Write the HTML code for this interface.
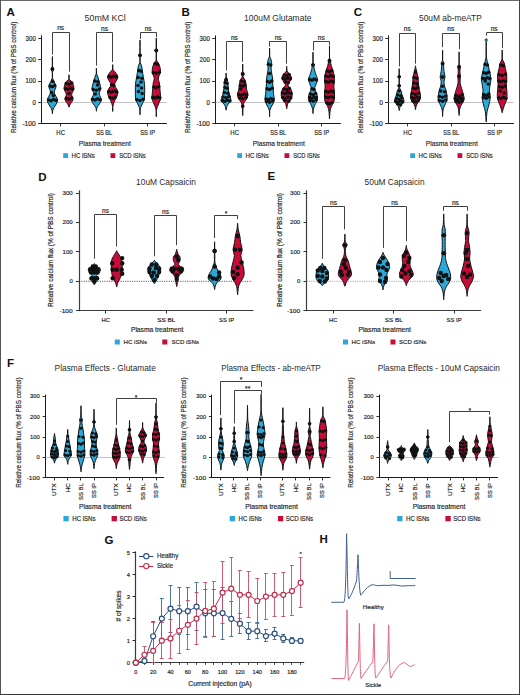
<!DOCTYPE html>
<html><head><meta charset="utf-8"><style>
html,body{margin:0;padding:0;background:#fff;width:520px;height:695px;overflow:hidden;font-family:"Liberation Sans",sans-serif;}
svg{display:block;}
</style></head><body>
<svg width="520" height="695" viewBox="0 0 520 695" font-family='"Liberation Sans", sans-serif'>
<rect x="0" y="0" width="520" height="695" fill="#fff"/>
<text x="6.60" y="15.90" font-size="11.50" fill="#111" font-weight="bold">A</text>
<text x="181.60" y="16.20" font-size="11.50" fill="#111" font-weight="bold">B</text>
<text x="353.80" y="16.40" font-size="11.50" fill="#111" font-weight="bold">C</text>
<text x="38.20" y="180.90" font-size="11.50" fill="#111" font-weight="bold">D</text>
<text x="267.60" y="180.10" font-size="11.50" fill="#111" font-weight="bold">E</text>
<text x="7.00" y="366.60" font-size="11.50" fill="#111" font-weight="bold">F</text>
<text x="104.40" y="543.50" font-size="11.50" fill="#111" font-weight="bold">G</text>
<text x="319.60" y="542.90" font-size="11.50" fill="#111" font-weight="bold">H</text>
<text x="84.60" y="20.60" font-size="8.90" fill="#2b2b2b" textLength="41.20" lengthAdjust="spacingAndGlyphs">50mM KCl</text>
<line x1="41.50" y1="35.40" x2="41.50" y2="124.10" stroke="#1a1a1a" stroke-width="1.0"/>
<line x1="38.20" y1="38.50" x2="41.40" y2="38.50" stroke="#1a1a1a" stroke-width="0.9"/>
<text x="35.80" y="40.80" font-size="6.70" fill="#262626" stroke="#262626" stroke-width="0.18" text-anchor="end" textLength="10.20" lengthAdjust="spacingAndGlyphs">300</text>
<line x1="38.20" y1="59.50" x2="41.40" y2="59.50" stroke="#1a1a1a" stroke-width="0.9"/>
<text x="35.80" y="62.10" font-size="6.70" fill="#262626" stroke="#262626" stroke-width="0.18" text-anchor="end" textLength="10.20" lengthAdjust="spacingAndGlyphs">200</text>
<line x1="38.20" y1="81.50" x2="41.40" y2="81.50" stroke="#1a1a1a" stroke-width="0.9"/>
<text x="35.80" y="83.40" font-size="6.70" fill="#262626" stroke="#262626" stroke-width="0.18" text-anchor="end" textLength="10.20" lengthAdjust="spacingAndGlyphs">100</text>
<line x1="38.20" y1="102.50" x2="41.40" y2="102.50" stroke="#1a1a1a" stroke-width="0.9"/>
<text x="35.80" y="104.70" font-size="6.70" fill="#262626" stroke="#262626" stroke-width="0.18" text-anchor="end" textLength="3.40" lengthAdjust="spacingAndGlyphs">0</text>
<line x1="38.20" y1="123.50" x2="41.40" y2="123.50" stroke="#1a1a1a" stroke-width="0.9"/>
<text x="35.80" y="126.00" font-size="6.70" fill="#262626" stroke="#262626" stroke-width="0.18" text-anchor="end" textLength="13.40" lengthAdjust="spacingAndGlyphs">-100</text>
<line x1="40.90" y1="123.50" x2="166.90" y2="123.50" stroke="#1a1a1a" stroke-width="1.0"/>
<line x1="41.40" y1="102.50" x2="166.40" y2="102.50" stroke="#9a9a9a" stroke-width="0.6"/>
<line x1="60.50" y1="123.60" x2="60.50" y2="126.40" stroke="#1a1a1a" stroke-width="0.9"/>
<text x="60.65" y="134.80" font-size="7.00" fill="#262626" stroke="#262626" stroke-width="0.18" text-anchor="middle" textLength="8.60" lengthAdjust="spacingAndGlyphs">HC</text>
<line x1="104.50" y1="123.60" x2="104.50" y2="126.40" stroke="#1a1a1a" stroke-width="0.9"/>
<text x="104.15" y="134.80" font-size="7.00" fill="#262626" stroke="#262626" stroke-width="0.18" text-anchor="middle" textLength="16.00" lengthAdjust="spacingAndGlyphs">SS BL</text>
<line x1="147.50" y1="123.60" x2="147.50" y2="126.40" stroke="#1a1a1a" stroke-width="0.9"/>
<text x="147.65" y="134.80" font-size="7.00" fill="#262626" stroke="#262626" stroke-width="0.18" text-anchor="middle" textLength="15.00" lengthAdjust="spacingAndGlyphs">SS IP</text>
<text x="104.80" y="145.90" font-size="7.60" fill="#262626" stroke="#262626" stroke-width="0.18" text-anchor="middle" textLength="52.00" lengthAdjust="spacingAndGlyphs">Plasma treatment</text>
<text x="16.20" y="77.40" font-size="7.00" fill="#262626" stroke="#262626" stroke-width="0.18" text-anchor="middle" textLength="111.30" lengthAdjust="spacingAndGlyphs" transform="rotate(-90 16.20 77.40)">Relative calcium flux (% of PBS control)</text>
<rect x="63.20" y="153.20" width="4.80" height="4.80" fill="#2aa8d9"/>
<text x="71.50" y="157.90" font-size="6.80" fill="#262626" stroke="#262626" stroke-width="0.18" textLength="23.30" lengthAdjust="spacingAndGlyphs">HC iSNs</text>
<rect x="110.50" y="153.20" width="4.80" height="4.80" fill="#c80c38"/>
<text x="119.20" y="157.90" font-size="6.80" fill="#262626" stroke="#262626" stroke-width="0.18" textLength="26.50" lengthAdjust="spacingAndGlyphs">SCD iSNs</text>
<path d="M52.45,57.60 C52.47,59.00 52.30,64.33 52.45,66.00 C52.60,67.67 53.13,67.08 53.35,67.60 C53.57,68.12 53.75,68.60 53.75,69.10 C53.75,69.60 53.57,70.03 53.35,70.60 C53.13,71.17 52.60,71.40 52.45,72.50 C52.30,73.60 52.30,75.92 52.45,77.20 C52.60,78.48 52.87,79.03 53.35,80.20 C53.83,81.37 54.93,83.02 55.35,84.20 C55.77,85.38 56.02,86.12 55.85,87.30 C55.68,88.48 54.52,90.13 54.35,91.30 C54.18,92.47 54.40,93.13 54.85,94.30 C55.30,95.47 56.63,97.12 57.05,98.30 C57.47,99.48 57.52,100.38 57.35,101.40 C57.18,102.42 56.60,103.40 56.05,104.40 C55.50,105.40 54.60,106.40 54.05,107.40 C53.50,108.40 53.02,109.40 52.75,110.40 C52.48,111.40 52.52,112.90 52.45,113.40 C52.38,113.90 52.42,113.90 52.35,113.40 C52.28,112.90 52.32,111.40 52.05,110.40 C51.78,109.40 51.30,108.40 50.75,107.40 C50.20,106.40 49.30,105.40 48.75,104.40 C48.20,103.40 47.62,102.42 47.45,101.40 C47.28,100.38 47.33,99.48 47.75,98.30 C48.17,97.12 49.50,95.47 49.95,94.30 C50.40,93.13 50.62,92.47 50.45,91.30 C50.28,90.13 49.12,88.48 48.95,87.30 C48.78,86.12 49.03,85.38 49.45,84.20 C49.87,83.02 50.97,81.37 51.45,80.20 C51.93,79.03 52.20,78.48 52.35,77.20 C52.50,75.92 52.50,73.60 52.35,72.50 C52.20,71.40 51.67,71.17 51.45,70.60 C51.23,70.03 51.05,69.60 51.05,69.10 C51.05,68.60 51.23,68.12 51.45,67.60 C51.67,67.08 52.20,67.67 52.35,66.00 C52.50,64.33 52.33,59.00 52.35,57.60 C52.37,56.20 52.43,56.20 52.45,57.60Z" fill="#2aa8d9" stroke="#111" stroke-width="1.0" stroke-linejoin="round"/>
<circle cx="52.40" cy="69.10" r="1.8" fill="#111"/>
<circle cx="50.18" cy="86.00" r="1.8" fill="#111"/>
<circle cx="52.40" cy="86.70" r="1.8" fill="#111"/>
<circle cx="54.62" cy="85.50" r="1.8" fill="#111"/>
<circle cx="48.68" cy="100.00" r="1.8" fill="#111"/>
<circle cx="51.16" cy="100.70" r="1.8" fill="#111"/>
<circle cx="53.64" cy="99.50" r="1.8" fill="#111"/>
<circle cx="56.12" cy="100.40" r="1.8" fill="#111"/>
<circle cx="52.70" cy="81.50" r="1.8" fill="#111"/>
<circle cx="51.60" cy="92.50" r="1.8" fill="#111"/>
<circle cx="53.40" cy="95.50" r="1.8" fill="#111"/>
<path d="M69.05,75.20 C69.07,75.87 68.65,78.20 69.05,79.20 C69.45,80.20 70.80,80.37 71.45,81.20 C72.10,82.03 72.53,83.02 72.95,84.20 C73.37,85.38 73.95,87.12 73.95,88.30 C73.95,89.48 73.33,90.30 72.95,91.30 C72.57,92.30 71.73,93.30 71.65,94.30 C71.57,95.30 72.23,96.38 72.45,97.30 C72.67,98.22 73.12,98.95 72.95,99.80 C72.78,100.65 71.97,101.55 71.45,102.40 C70.93,103.25 70.25,104.15 69.85,104.90 C69.45,105.65 69.20,106.57 69.05,106.90 C68.90,107.23 69.10,107.23 68.95,106.90 C68.80,106.57 68.55,105.65 68.15,104.90 C67.75,104.15 67.07,103.25 66.55,102.40 C66.03,101.55 65.22,100.65 65.05,99.80 C64.88,98.95 65.33,98.22 65.55,97.30 C65.77,96.38 66.43,95.30 66.35,94.30 C66.27,93.30 65.43,92.30 65.05,91.30 C64.67,90.30 64.05,89.48 64.05,88.30 C64.05,87.12 64.63,85.38 65.05,84.20 C65.47,83.02 65.90,82.03 66.55,81.20 C67.20,80.37 68.55,80.20 68.95,79.20 C69.35,78.20 68.93,75.87 68.95,75.20 C68.97,74.53 69.03,74.53 69.05,75.20Z" fill="#c80c38" stroke="#111" stroke-width="1.0" stroke-linejoin="round"/>
<circle cx="66.28" cy="83.50" r="1.8" fill="#111"/>
<circle cx="69.00" cy="84.20" r="1.8" fill="#111"/>
<circle cx="71.72" cy="83.00" r="1.8" fill="#111"/>
<circle cx="65.48" cy="88.50" r="1.8" fill="#111"/>
<circle cx="67.83" cy="89.20" r="1.8" fill="#111"/>
<circle cx="70.17" cy="88.00" r="1.8" fill="#111"/>
<circle cx="72.52" cy="88.90" r="1.8" fill="#111"/>
<circle cx="69.00" cy="93.50" r="1.8" fill="#111"/>
<circle cx="66.28" cy="98.50" r="1.8" fill="#111"/>
<circle cx="69.00" cy="99.20" r="1.8" fill="#111"/>
<circle cx="71.72" cy="98.00" r="1.8" fill="#111"/>
<path d="M96.45,68.60 C96.47,69.37 96.27,71.93 96.45,73.20 C96.63,74.47 97.15,75.03 97.55,76.20 C97.95,77.37 98.45,78.87 98.85,80.20 C99.25,81.53 99.62,82.77 99.95,84.20 C100.28,85.63 100.95,87.45 100.85,88.80 C100.75,90.15 99.57,91.22 99.35,92.30 C99.13,93.38 99.22,94.13 99.55,95.30 C99.88,96.47 101.22,98.12 101.35,99.30 C101.48,100.48 100.85,101.38 100.35,102.40 C99.85,103.42 98.93,104.48 98.35,105.40 C97.77,106.32 97.17,106.98 96.85,107.90 C96.53,108.82 96.53,110.40 96.45,110.90 C96.37,111.40 96.43,111.40 96.35,110.90 C96.27,110.40 96.27,108.82 95.95,107.90 C95.63,106.98 95.03,106.32 94.45,105.40 C93.87,104.48 92.95,103.42 92.45,102.40 C91.95,101.38 91.32,100.48 91.45,99.30 C91.58,98.12 92.92,96.47 93.25,95.30 C93.58,94.13 93.67,93.38 93.45,92.30 C93.23,91.22 92.05,90.15 91.95,88.80 C91.85,87.45 92.52,85.63 92.85,84.20 C93.18,82.77 93.55,81.53 93.95,80.20 C94.35,78.87 94.85,77.37 95.25,76.20 C95.65,75.03 96.17,74.47 96.35,73.20 C96.53,71.93 96.33,69.37 96.35,68.60 C96.37,67.83 96.43,67.83 96.45,68.60Z" fill="#2aa8d9" stroke="#111" stroke-width="1.0" stroke-linejoin="round"/>
<circle cx="94.88" cy="81.00" r="1.8" fill="#111"/>
<circle cx="97.92" cy="81.70" r="1.8" fill="#111"/>
<circle cx="93.28" cy="89.50" r="1.8" fill="#111"/>
<circle cx="96.40" cy="90.20" r="1.8" fill="#111"/>
<circle cx="99.52" cy="89.00" r="1.8" fill="#111"/>
<circle cx="92.68" cy="99.30" r="1.8" fill="#111"/>
<circle cx="95.16" cy="100.00" r="1.8" fill="#111"/>
<circle cx="97.64" cy="98.80" r="1.8" fill="#111"/>
<circle cx="100.12" cy="99.70" r="1.8" fill="#111"/>
<circle cx="97.60" cy="85.00" r="1.8" fill="#111"/>
<circle cx="95.40" cy="94.00" r="1.8" fill="#111"/>
<path d="M112.75,65.10 C112.77,65.77 112.40,68.00 112.75,69.10 C113.10,70.20 114.08,70.68 114.85,71.70 C115.62,72.72 116.88,74.12 117.35,75.20 C117.82,76.28 117.98,77.03 117.65,78.20 C117.32,79.37 115.90,81.03 115.35,82.20 C114.80,83.37 114.18,84.18 114.35,85.20 C114.52,86.22 115.77,87.12 116.35,88.30 C116.93,89.48 117.77,90.97 117.85,92.30 C117.93,93.63 117.35,94.95 116.85,96.30 C116.35,97.65 115.38,99.22 114.85,100.40 C114.32,101.58 113.98,102.40 113.65,103.40 C113.32,104.40 113.00,105.15 112.85,106.40 C112.70,107.65 112.78,110.15 112.75,110.90 C112.72,111.65 112.68,111.65 112.65,110.90 C112.62,110.15 112.70,107.65 112.55,106.40 C112.40,105.15 112.08,104.40 111.75,103.40 C111.42,102.40 111.08,101.58 110.55,100.40 C110.02,99.22 109.05,97.65 108.55,96.30 C108.05,94.95 107.47,93.63 107.55,92.30 C107.63,90.97 108.47,89.48 109.05,88.30 C109.63,87.12 110.88,86.22 111.05,85.20 C111.22,84.18 110.60,83.37 110.05,82.20 C109.50,81.03 108.08,79.37 107.75,78.20 C107.42,77.03 107.58,76.28 108.05,75.20 C108.52,74.12 109.78,72.72 110.55,71.70 C111.32,70.68 112.30,70.20 112.65,69.10 C113.00,68.00 112.63,65.77 112.65,65.10 C112.67,64.43 112.73,64.43 112.75,65.10Z" fill="#c80c38" stroke="#111" stroke-width="1.0" stroke-linejoin="round"/>
<circle cx="109.18" cy="76.50" r="1.8" fill="#111"/>
<circle cx="111.53" cy="77.20" r="1.8" fill="#111"/>
<circle cx="113.87" cy="76.00" r="1.8" fill="#111"/>
<circle cx="116.22" cy="76.90" r="1.8" fill="#111"/>
<circle cx="111.58" cy="84.70" r="1.8" fill="#111"/>
<circle cx="113.82" cy="85.40" r="1.8" fill="#111"/>
<circle cx="108.78" cy="91.50" r="1.8" fill="#111"/>
<circle cx="111.39" cy="92.20" r="1.8" fill="#111"/>
<circle cx="114.01" cy="91.00" r="1.8" fill="#111"/>
<circle cx="116.62" cy="91.90" r="1.8" fill="#111"/>
<circle cx="109.98" cy="97.50" r="1.8" fill="#111"/>
<circle cx="112.70" cy="98.20" r="1.8" fill="#111"/>
<circle cx="115.42" cy="97.00" r="1.8" fill="#111"/>
<path d="M140.05,41.40 C140.07,43.38 139.88,51.18 140.05,53.30 C140.22,55.42 140.83,53.77 141.05,54.10 C141.27,54.43 141.35,54.88 141.35,55.30 C141.35,55.72 141.27,56.23 141.05,56.60 C140.83,56.97 140.20,56.53 140.05,57.50 C139.90,58.47 139.90,61.05 140.15,62.40 C140.40,63.75 141.20,64.30 141.55,65.60 C141.90,66.90 141.97,68.37 142.25,70.20 C142.53,72.03 142.87,74.23 143.25,76.60 C143.63,78.97 144.32,82.02 144.55,84.40 C144.78,86.78 144.65,88.95 144.65,90.90 C144.65,92.85 144.63,94.58 144.55,96.10 C144.47,97.62 144.48,98.82 144.15,100.00 C143.82,101.18 143.05,102.13 142.55,103.20 C142.05,104.27 141.55,105.43 141.15,106.40 C140.75,107.37 140.33,107.70 140.15,109.00 C139.97,110.30 140.08,113.33 140.05,114.20 C140.02,115.07 139.98,115.07 139.95,114.20 C139.92,113.33 140.03,110.30 139.85,109.00 C139.67,107.70 139.25,107.37 138.85,106.40 C138.45,105.43 137.95,104.27 137.45,103.20 C136.95,102.13 136.18,101.18 135.85,100.00 C135.52,98.82 135.53,97.62 135.45,96.10 C135.37,94.58 135.35,92.85 135.35,90.90 C135.35,88.95 135.22,86.78 135.45,84.40 C135.68,82.02 136.37,78.97 136.75,76.60 C137.13,74.23 137.47,72.03 137.75,70.20 C138.03,68.37 138.10,66.90 138.45,65.60 C138.80,64.30 139.60,63.75 139.85,62.40 C140.10,61.05 140.10,58.47 139.95,57.50 C139.80,56.53 139.17,56.97 138.95,56.60 C138.73,56.23 138.65,55.72 138.65,55.30 C138.65,54.88 138.73,54.43 138.95,54.10 C139.17,53.77 139.78,55.42 139.95,53.30 C140.12,51.18 139.93,43.38 139.95,41.40 C139.97,39.42 140.03,39.42 140.05,41.40Z" fill="#2aa8d9" stroke="#111" stroke-width="1.0" stroke-linejoin="round"/>
<circle cx="140.00" cy="55.30" r="1.8" fill="#111"/>
<circle cx="138.88" cy="70.50" r="1.8" fill="#111"/>
<circle cx="141.12" cy="71.20" r="1.8" fill="#111"/>
<circle cx="138.08" cy="77.50" r="1.8" fill="#111"/>
<circle cx="141.92" cy="78.20" r="1.8" fill="#111"/>
<circle cx="141.00" cy="82.00" r="1.8" fill="#111"/>
<circle cx="138.00" cy="85.50" r="1.8" fill="#111"/>
<circle cx="141.50" cy="88.00" r="1.8" fill="#111"/>
<circle cx="138.50" cy="91.50" r="1.8" fill="#111"/>
<circle cx="142.20" cy="93.50" r="1.8" fill="#111"/>
<circle cx="136.88" cy="99.80" r="1.8" fill="#111"/>
<circle cx="140.00" cy="100.50" r="1.8" fill="#111"/>
<circle cx="143.12" cy="99.30" r="1.8" fill="#111"/>
<path d="M156.35,39.10 C156.37,40.60 156.18,46.42 156.35,48.10 C156.52,49.78 157.13,48.80 157.35,49.20 C157.57,49.60 157.65,50.07 157.65,50.50 C157.65,50.93 157.57,51.42 157.35,51.80 C157.13,52.18 156.50,51.47 156.35,52.80 C156.20,54.13 156.12,58.10 156.45,59.80 C156.78,61.50 157.75,61.70 158.35,63.00 C158.95,64.30 159.72,65.98 160.05,67.60 C160.38,69.22 160.63,70.98 160.35,72.70 C160.07,74.42 158.52,76.17 158.35,77.90 C158.18,79.63 159.10,81.37 159.35,83.10 C159.60,84.83 159.67,86.35 159.85,88.30 C160.03,90.25 160.30,93.07 160.45,94.80 C160.60,96.53 160.97,97.42 160.75,98.70 C160.53,99.98 159.68,101.22 159.15,102.50 C158.62,103.78 158.00,105.10 157.55,106.40 C157.10,107.70 156.65,108.68 156.45,110.30 C156.25,111.92 156.38,115.13 156.35,116.10 C156.32,117.07 156.28,117.07 156.25,116.10 C156.22,115.13 156.35,111.92 156.15,110.30 C155.95,108.68 155.50,107.70 155.05,106.40 C154.60,105.10 153.98,103.78 153.45,102.50 C152.92,101.22 152.07,99.98 151.85,98.70 C151.63,97.42 152.00,96.53 152.15,94.80 C152.30,93.07 152.57,90.25 152.75,88.30 C152.93,86.35 153.00,84.83 153.25,83.10 C153.50,81.37 154.42,79.63 154.25,77.90 C154.08,76.17 152.53,74.42 152.25,72.70 C151.97,70.98 152.22,69.22 152.55,67.60 C152.88,65.98 153.65,64.30 154.25,63.00 C154.85,61.70 155.82,61.50 156.15,59.80 C156.48,58.10 156.40,54.13 156.25,52.80 C156.10,51.47 155.47,52.18 155.25,51.80 C155.03,51.42 154.95,50.93 154.95,50.50 C154.95,50.07 155.03,49.60 155.25,49.20 C155.47,48.80 156.08,49.78 156.25,48.10 C156.42,46.42 156.23,40.60 156.25,39.10 C156.27,37.60 156.33,37.60 156.35,39.10Z" fill="#c80c38" stroke="#111" stroke-width="1.0" stroke-linejoin="round"/>
<circle cx="156.30" cy="50.50" r="1.8" fill="#111"/>
<circle cx="155.18" cy="63.50" r="1.8" fill="#111"/>
<circle cx="157.42" cy="64.20" r="1.8" fill="#111"/>
<circle cx="153.38" cy="72.70" r="1.8" fill="#111"/>
<circle cx="156.30" cy="73.40" r="1.8" fill="#111"/>
<circle cx="159.22" cy="72.20" r="1.8" fill="#111"/>
<circle cx="153.88" cy="87.00" r="1.8" fill="#111"/>
<circle cx="156.30" cy="87.70" r="1.8" fill="#111"/>
<circle cx="158.72" cy="86.50" r="1.8" fill="#111"/>
<circle cx="152.98" cy="97.40" r="1.8" fill="#111"/>
<circle cx="155.19" cy="98.10" r="1.8" fill="#111"/>
<circle cx="157.41" cy="96.90" r="1.8" fill="#111"/>
<circle cx="159.62" cy="97.80" r="1.8" fill="#111"/>
<path d="M52.50,54.50 V32.50 H69.50 V71.70" fill="none" stroke="#2a2a2a" stroke-width="0.9"/>
<text x="60.70" y="30.40" font-size="6.60" fill="#262626" stroke="#262626" stroke-width="0.18" text-anchor="middle">ns</text>
<path d="M96.50,65.60 V32.50 H112.50 V62.10" fill="none" stroke="#2a2a2a" stroke-width="0.9"/>
<text x="104.55" y="30.90" font-size="6.60" fill="#262626" stroke="#262626" stroke-width="0.18" text-anchor="middle">ns</text>
<path d="M140.50,38.80 V32.50 H156.50 V37.10" fill="none" stroke="#2a2a2a" stroke-width="0.9"/>
<text x="148.15" y="30.70" font-size="6.60" fill="#262626" stroke="#262626" stroke-width="0.18" text-anchor="middle">ns</text>
<text x="244.00" y="20.60" font-size="8.90" fill="#2b2b2b" textLength="67.50" lengthAdjust="spacingAndGlyphs">100uM Glutamate</text>
<line x1="215.50" y1="35.40" x2="215.50" y2="124.10" stroke="#1a1a1a" stroke-width="1.0"/>
<line x1="212.20" y1="38.50" x2="215.40" y2="38.50" stroke="#1a1a1a" stroke-width="0.9"/>
<text x="209.80" y="40.80" font-size="6.70" fill="#262626" stroke="#262626" stroke-width="0.18" text-anchor="end" textLength="10.20" lengthAdjust="spacingAndGlyphs">300</text>
<line x1="212.20" y1="59.50" x2="215.40" y2="59.50" stroke="#1a1a1a" stroke-width="0.9"/>
<text x="209.80" y="62.10" font-size="6.70" fill="#262626" stroke="#262626" stroke-width="0.18" text-anchor="end" textLength="10.20" lengthAdjust="spacingAndGlyphs">200</text>
<line x1="212.20" y1="81.50" x2="215.40" y2="81.50" stroke="#1a1a1a" stroke-width="0.9"/>
<text x="209.80" y="83.40" font-size="6.70" fill="#262626" stroke="#262626" stroke-width="0.18" text-anchor="end" textLength="10.20" lengthAdjust="spacingAndGlyphs">100</text>
<line x1="212.20" y1="102.50" x2="215.40" y2="102.50" stroke="#1a1a1a" stroke-width="0.9"/>
<text x="209.80" y="104.70" font-size="6.70" fill="#262626" stroke="#262626" stroke-width="0.18" text-anchor="end" textLength="3.40" lengthAdjust="spacingAndGlyphs">0</text>
<line x1="212.20" y1="123.50" x2="215.40" y2="123.50" stroke="#1a1a1a" stroke-width="0.9"/>
<text x="209.80" y="126.00" font-size="6.70" fill="#262626" stroke="#262626" stroke-width="0.18" text-anchor="end" textLength="13.40" lengthAdjust="spacingAndGlyphs">-100</text>
<line x1="214.90" y1="123.50" x2="340.90" y2="123.50" stroke="#1a1a1a" stroke-width="1.0"/>
<line x1="215.40" y1="102.50" x2="340.40" y2="102.50" stroke="#9a9a9a" stroke-width="0.6"/>
<line x1="234.50" y1="123.60" x2="234.50" y2="126.40" stroke="#1a1a1a" stroke-width="0.9"/>
<text x="234.65" y="134.80" font-size="7.00" fill="#262626" stroke="#262626" stroke-width="0.18" text-anchor="middle" textLength="8.60" lengthAdjust="spacingAndGlyphs">HC</text>
<line x1="278.50" y1="123.60" x2="278.50" y2="126.40" stroke="#1a1a1a" stroke-width="0.9"/>
<text x="278.15" y="134.80" font-size="7.00" fill="#262626" stroke="#262626" stroke-width="0.18" text-anchor="middle" textLength="16.00" lengthAdjust="spacingAndGlyphs">SS BL</text>
<line x1="321.50" y1="123.60" x2="321.50" y2="126.40" stroke="#1a1a1a" stroke-width="0.9"/>
<text x="321.65" y="134.80" font-size="7.00" fill="#262626" stroke="#262626" stroke-width="0.18" text-anchor="middle" textLength="15.00" lengthAdjust="spacingAndGlyphs">SS IP</text>
<text x="278.80" y="145.90" font-size="7.60" fill="#262626" stroke="#262626" stroke-width="0.18" text-anchor="middle" textLength="52.00" lengthAdjust="spacingAndGlyphs">Plasma treatment</text>
<text x="190.20" y="77.40" font-size="7.00" fill="#262626" stroke="#262626" stroke-width="0.18" text-anchor="middle" textLength="111.30" lengthAdjust="spacingAndGlyphs" transform="rotate(-90 190.20 77.40)">Relative calcium flux (% of PBS control)</text>
<rect x="237.20" y="153.20" width="4.80" height="4.80" fill="#2aa8d9"/>
<text x="245.50" y="157.90" font-size="6.80" fill="#262626" stroke="#262626" stroke-width="0.18" textLength="23.30" lengthAdjust="spacingAndGlyphs">HC iSNs</text>
<rect x="284.50" y="153.20" width="4.80" height="4.80" fill="#c80c38"/>
<text x="293.20" y="157.90" font-size="6.80" fill="#262626" stroke="#262626" stroke-width="0.18" textLength="26.50" lengthAdjust="spacingAndGlyphs">SCD iSNs</text>
<path d="M226.15,73.40 C226.17,73.97 225.95,75.75 226.15,76.80 C226.35,77.85 227.05,78.53 227.35,79.70 C227.65,80.87 227.80,82.35 227.95,83.80 C228.10,85.25 228.08,86.87 228.25,88.40 C228.42,89.93 228.62,91.47 228.95,93.00 C229.28,94.53 229.92,96.35 230.25,97.60 C230.58,98.85 231.12,99.63 230.95,100.50 C230.78,101.37 229.87,101.95 229.25,102.80 C228.63,103.65 227.77,104.45 227.25,105.60 C226.73,106.75 226.35,109.02 226.15,109.70 C225.95,110.38 226.25,110.38 226.05,109.70 C225.85,109.02 225.47,106.75 224.95,105.60 C224.43,104.45 223.57,103.65 222.95,102.80 C222.33,101.95 221.42,101.37 221.25,100.50 C221.08,99.63 221.62,98.85 221.95,97.60 C222.28,96.35 222.92,94.53 223.25,93.00 C223.58,91.47 223.78,89.93 223.95,88.40 C224.12,86.87 224.10,85.25 224.25,83.80 C224.40,82.35 224.55,80.87 224.85,79.70 C225.15,78.53 225.85,77.85 226.05,76.80 C226.25,75.75 226.03,73.97 226.05,73.40 C226.07,72.83 226.13,72.83 226.15,73.40Z" fill="#2aa8d9" stroke="#111" stroke-width="1.0" stroke-linejoin="round"/>
<circle cx="226.10" cy="79.50" r="1.8" fill="#111"/>
<circle cx="225.18" cy="82.50" r="1.8" fill="#111"/>
<circle cx="227.02" cy="83.20" r="1.8" fill="#111"/>
<circle cx="224.98" cy="87.50" r="1.8" fill="#111"/>
<circle cx="227.22" cy="88.20" r="1.8" fill="#111"/>
<circle cx="224.38" cy="92.50" r="1.8" fill="#111"/>
<circle cx="227.82" cy="93.20" r="1.8" fill="#111"/>
<circle cx="223.18" cy="97.00" r="1.8" fill="#111"/>
<circle cx="226.10" cy="97.70" r="1.8" fill="#111"/>
<circle cx="229.02" cy="96.50" r="1.8" fill="#111"/>
<circle cx="222.38" cy="100.60" r="1.8" fill="#111"/>
<circle cx="224.86" cy="101.30" r="1.8" fill="#111"/>
<circle cx="227.34" cy="100.10" r="1.8" fill="#111"/>
<circle cx="229.82" cy="101.00" r="1.8" fill="#111"/>
<path d="M242.75,64.80 C242.77,65.85 242.58,69.80 242.75,71.10 C242.92,72.40 243.52,72.12 243.75,72.60 C243.98,73.08 244.15,73.53 244.15,74.00 C244.15,74.47 243.93,74.93 243.75,75.40 C243.57,75.87 242.82,75.98 243.05,76.80 C243.28,77.62 244.65,78.95 245.15,80.30 C245.65,81.65 245.80,83.37 246.05,84.90 C246.30,86.43 246.35,87.97 246.65,89.50 C246.95,91.03 247.75,92.75 247.85,94.10 C247.95,95.45 247.63,96.53 247.25,97.60 C246.87,98.67 246.10,99.63 245.55,100.50 C245.00,101.37 244.28,102.12 243.95,102.80 C243.62,103.48 243.55,104.03 243.55,104.60 C243.55,105.17 243.98,105.70 243.95,106.20 C243.92,106.70 243.52,107.12 243.35,107.60 C243.18,108.08 243.05,107.88 242.95,109.10 C242.85,110.32 242.80,113.93 242.75,114.90 C242.70,115.87 242.70,115.87 242.65,114.90 C242.60,113.93 242.55,110.32 242.45,109.10 C242.35,107.88 242.22,108.08 242.05,107.60 C241.88,107.12 241.48,106.70 241.45,106.20 C241.42,105.70 241.85,105.17 241.85,104.60 C241.85,104.03 241.78,103.48 241.45,102.80 C241.12,102.12 240.40,101.37 239.85,100.50 C239.30,99.63 238.53,98.67 238.15,97.60 C237.77,96.53 237.45,95.45 237.55,94.10 C237.65,92.75 238.45,91.03 238.75,89.50 C239.05,87.97 239.10,86.43 239.35,84.90 C239.60,83.37 239.75,81.65 240.25,80.30 C240.75,78.95 242.12,77.62 242.35,76.80 C242.58,75.98 241.83,75.87 241.65,75.40 C241.47,74.93 241.25,74.47 241.25,74.00 C241.25,73.53 241.42,73.08 241.65,72.60 C241.88,72.12 242.48,72.40 242.65,71.10 C242.82,69.80 242.63,65.85 242.65,64.80 C242.67,63.75 242.73,63.75 242.75,64.80Z" fill="#c80c38" stroke="#111" stroke-width="1.0" stroke-linejoin="round"/>
<circle cx="242.70" cy="74.00" r="1.8" fill="#111"/>
<circle cx="241.28" cy="81.00" r="1.8" fill="#111"/>
<circle cx="244.12" cy="81.70" r="1.8" fill="#111"/>
<circle cx="240.48" cy="85.50" r="1.8" fill="#111"/>
<circle cx="242.70" cy="86.20" r="1.8" fill="#111"/>
<circle cx="244.92" cy="85.00" r="1.8" fill="#111"/>
<circle cx="240.70" cy="89.00" r="1.8" fill="#111"/>
<circle cx="238.78" cy="94.50" r="1.8" fill="#111"/>
<circle cx="241.39" cy="95.20" r="1.8" fill="#111"/>
<circle cx="244.01" cy="94.00" r="1.8" fill="#111"/>
<circle cx="246.62" cy="94.90" r="1.8" fill="#111"/>
<circle cx="239.48" cy="98.00" r="1.8" fill="#111"/>
<circle cx="242.70" cy="98.70" r="1.8" fill="#111"/>
<circle cx="245.92" cy="97.50" r="1.8" fill="#111"/>
<circle cx="242.70" cy="106.20" r="1.6" fill="#111"/>
<path d="M269.65,49.10 C269.67,50.22 269.43,54.08 269.65,55.80 C269.87,57.52 270.62,58.08 270.95,59.40 C271.28,60.72 271.63,62.27 271.65,63.70 C271.67,65.13 271.05,66.47 271.05,68.00 C271.05,69.53 271.38,71.07 271.65,72.90 C271.92,74.73 272.47,77.17 272.65,79.00 C272.83,80.83 272.67,82.27 272.75,83.90 C272.83,85.53 273.02,87.17 273.15,88.80 C273.28,90.43 273.38,92.07 273.55,93.70 C273.72,95.33 274.13,97.18 274.15,98.60 C274.17,100.02 274.03,100.98 273.65,102.20 C273.27,103.42 272.42,104.77 271.85,105.90 C271.28,107.03 270.62,107.98 270.25,109.00 C269.88,110.02 269.75,110.78 269.65,112.00 C269.55,113.22 269.67,115.58 269.65,116.30 C269.63,117.02 269.57,117.02 269.55,116.30 C269.53,115.58 269.65,113.22 269.55,112.00 C269.45,110.78 269.32,110.02 268.95,109.00 C268.58,107.98 267.92,107.03 267.35,105.90 C266.78,104.77 265.93,103.42 265.55,102.20 C265.17,100.98 265.03,100.02 265.05,98.60 C265.07,97.18 265.48,95.33 265.65,93.70 C265.82,92.07 265.92,90.43 266.05,88.80 C266.18,87.17 266.37,85.53 266.45,83.90 C266.53,82.27 266.37,80.83 266.55,79.00 C266.73,77.17 267.28,74.73 267.55,72.90 C267.82,71.07 268.15,69.53 268.15,68.00 C268.15,66.47 267.53,65.13 267.55,63.70 C267.57,62.27 267.92,60.72 268.25,59.40 C268.58,58.08 269.33,57.52 269.55,55.80 C269.77,54.08 269.53,50.22 269.55,49.10 C269.57,47.98 269.63,47.98 269.65,49.10Z" fill="#2aa8d9" stroke="#111" stroke-width="1.0" stroke-linejoin="round"/>
<circle cx="268.48" cy="64.30" r="1.8" fill="#111"/>
<circle cx="270.72" cy="65.00" r="1.8" fill="#111"/>
<circle cx="267.48" cy="81.50" r="1.8" fill="#111"/>
<circle cx="269.60" cy="82.20" r="1.8" fill="#111"/>
<circle cx="271.72" cy="81.00" r="1.8" fill="#111"/>
<circle cx="267.08" cy="88.80" r="1.8" fill="#111"/>
<circle cx="269.60" cy="89.50" r="1.8" fill="#111"/>
<circle cx="272.12" cy="88.30" r="1.8" fill="#111"/>
<circle cx="266.28" cy="99.00" r="1.8" fill="#111"/>
<circle cx="268.49" cy="99.70" r="1.8" fill="#111"/>
<circle cx="270.71" cy="98.50" r="1.8" fill="#111"/>
<circle cx="272.92" cy="99.40" r="1.8" fill="#111"/>
<circle cx="266.48" cy="101.50" r="1.8" fill="#111"/>
<circle cx="269.60" cy="102.20" r="1.8" fill="#111"/>
<circle cx="272.72" cy="101.00" r="1.8" fill="#111"/>
<circle cx="269.60" cy="73.50" r="1.8" fill="#111"/>
<path d="M286.75,66.80 C286.82,67.52 286.58,69.88 287.05,71.10 C287.52,72.32 288.80,72.98 289.55,74.10 C290.30,75.22 291.50,76.57 291.55,77.80 C291.60,79.03 290.45,80.28 289.85,81.50 C289.25,82.72 287.83,83.88 287.95,85.10 C288.07,86.32 289.87,87.57 290.55,88.80 C291.23,90.03 291.83,91.08 292.05,92.50 C292.27,93.92 292.23,95.88 291.85,97.30 C291.47,98.72 290.42,99.97 289.75,101.00 C289.08,102.03 288.35,102.28 287.85,103.50 C287.35,104.72 286.95,107.50 286.75,108.30 C286.55,109.10 286.85,109.10 286.65,108.30 C286.45,107.50 286.05,104.72 285.55,103.50 C285.05,102.28 284.32,102.03 283.65,101.00 C282.98,99.97 281.93,98.72 281.55,97.30 C281.17,95.88 281.13,93.92 281.35,92.50 C281.57,91.08 282.17,90.03 282.85,88.80 C283.53,87.57 285.33,86.32 285.45,85.10 C285.57,83.88 284.15,82.72 283.55,81.50 C282.95,80.28 281.80,79.03 281.85,77.80 C281.90,76.57 283.10,75.22 283.85,74.10 C284.60,72.98 285.88,72.32 286.35,71.10 C286.82,69.88 286.58,67.52 286.65,66.80 C286.72,66.08 286.68,66.08 286.75,66.80Z" fill="#c80c38" stroke="#111" stroke-width="1.0" stroke-linejoin="round"/>
<circle cx="284.28" cy="75.00" r="1.8" fill="#111"/>
<circle cx="286.70" cy="75.70" r="1.8" fill="#111"/>
<circle cx="289.12" cy="74.50" r="1.8" fill="#111"/>
<circle cx="283.18" cy="78.50" r="1.8" fill="#111"/>
<circle cx="285.53" cy="79.20" r="1.8" fill="#111"/>
<circle cx="287.87" cy="78.00" r="1.8" fill="#111"/>
<circle cx="290.22" cy="78.90" r="1.8" fill="#111"/>
<circle cx="285.18" cy="82.00" r="1.8" fill="#111"/>
<circle cx="288.22" cy="82.70" r="1.8" fill="#111"/>
<circle cx="283.98" cy="89.00" r="1.8" fill="#111"/>
<circle cx="286.70" cy="89.70" r="1.8" fill="#111"/>
<circle cx="289.42" cy="88.50" r="1.8" fill="#111"/>
<circle cx="282.58" cy="93.00" r="1.8" fill="#111"/>
<circle cx="285.33" cy="93.70" r="1.8" fill="#111"/>
<circle cx="288.07" cy="92.50" r="1.8" fill="#111"/>
<circle cx="290.82" cy="93.40" r="1.8" fill="#111"/>
<circle cx="282.78" cy="97.50" r="1.8" fill="#111"/>
<circle cx="285.39" cy="98.20" r="1.8" fill="#111"/>
<circle cx="288.01" cy="97.00" r="1.8" fill="#111"/>
<circle cx="290.62" cy="97.90" r="1.8" fill="#111"/>
<circle cx="284.78" cy="100.50" r="1.8" fill="#111"/>
<circle cx="288.62" cy="101.20" r="1.8" fill="#111"/>
<path d="M313.05,53.30 C313.07,54.93 312.88,61.35 313.05,63.10 C313.22,64.85 313.83,63.48 314.05,63.80 C314.27,64.12 314.35,64.57 314.35,65.00 C314.35,65.43 314.08,65.80 314.05,66.40 C314.02,67.00 313.87,67.32 314.15,68.60 C314.43,69.88 315.18,72.27 315.75,74.10 C316.32,75.93 317.48,77.97 317.55,79.60 C317.62,81.23 316.62,82.37 316.15,83.90 C315.68,85.43 314.65,87.17 314.75,88.80 C314.85,90.43 316.28,92.17 316.75,93.70 C317.22,95.23 317.57,96.68 317.55,98.00 C317.53,99.32 317.18,100.28 316.65,101.60 C316.12,102.92 314.88,104.57 314.35,105.90 C313.82,107.23 313.67,108.38 313.45,109.60 C313.23,110.82 313.13,112.60 313.05,113.20 C312.97,113.80 313.03,113.80 312.95,113.20 C312.87,112.60 312.77,110.82 312.55,109.60 C312.33,108.38 312.18,107.23 311.65,105.90 C311.12,104.57 309.88,102.92 309.35,101.60 C308.82,100.28 308.47,99.32 308.45,98.00 C308.43,96.68 308.78,95.23 309.25,93.70 C309.72,92.17 311.15,90.43 311.25,88.80 C311.35,87.17 310.32,85.43 309.85,83.90 C309.38,82.37 308.38,81.23 308.45,79.60 C308.52,77.97 309.68,75.93 310.25,74.10 C310.82,72.27 311.57,69.88 311.85,68.60 C312.13,67.32 311.98,67.00 311.95,66.40 C311.92,65.80 311.65,65.43 311.65,65.00 C311.65,64.57 311.73,64.12 311.95,63.80 C312.17,63.48 312.78,64.85 312.95,63.10 C313.12,61.35 312.93,54.93 312.95,53.30 C312.97,51.67 313.03,51.67 313.05,53.30Z" fill="#2aa8d9" stroke="#111" stroke-width="1.0" stroke-linejoin="round"/>
<circle cx="313.00" cy="65.00" r="1.8" fill="#111"/>
<circle cx="309.68" cy="79.60" r="1.8" fill="#111"/>
<circle cx="311.89" cy="80.30" r="1.8" fill="#111"/>
<circle cx="314.11" cy="79.10" r="1.8" fill="#111"/>
<circle cx="316.32" cy="80.00" r="1.8" fill="#111"/>
<circle cx="312.08" cy="88.80" r="1.8" fill="#111"/>
<circle cx="313.92" cy="89.50" r="1.8" fill="#111"/>
<circle cx="310.48" cy="94.00" r="1.8" fill="#111"/>
<circle cx="313.00" cy="94.70" r="1.8" fill="#111"/>
<circle cx="315.52" cy="93.50" r="1.8" fill="#111"/>
<circle cx="309.68" cy="97.50" r="1.8" fill="#111"/>
<circle cx="311.89" cy="98.20" r="1.8" fill="#111"/>
<circle cx="314.11" cy="97.00" r="1.8" fill="#111"/>
<circle cx="316.32" cy="97.90" r="1.8" fill="#111"/>
<circle cx="310.08" cy="100.50" r="1.8" fill="#111"/>
<circle cx="313.00" cy="101.20" r="1.8" fill="#111"/>
<circle cx="315.92" cy="100.00" r="1.8" fill="#111"/>
<path d="M329.55,47.20 C329.57,49.03 329.38,56.17 329.55,58.20 C329.72,60.23 330.33,58.98 330.55,59.40 C330.77,59.82 330.85,60.27 330.85,60.70 C330.85,61.13 330.48,61.18 330.55,62.00 C330.62,62.82 330.87,64.18 331.25,65.60 C331.63,67.02 332.35,68.77 332.85,70.50 C333.35,72.23 334.00,74.17 334.25,76.00 C334.50,77.83 334.42,79.78 334.35,81.50 C334.28,83.22 333.85,84.68 333.85,86.30 C333.85,87.92 334.23,89.57 334.35,91.20 C334.47,92.83 334.60,94.47 334.55,96.10 C334.50,97.73 334.43,99.57 334.05,101.00 C333.67,102.43 332.82,103.48 332.25,104.70 C331.68,105.92 331.03,107.08 330.65,108.30 C330.27,109.52 330.13,110.37 329.95,112.00 C329.77,113.63 329.63,117.08 329.55,118.10 C329.47,119.12 329.53,119.12 329.45,118.10 C329.37,117.08 329.23,113.63 329.05,112.00 C328.87,110.37 328.73,109.52 328.35,108.30 C327.97,107.08 327.32,105.92 326.75,104.70 C326.18,103.48 325.33,102.43 324.95,101.00 C324.57,99.57 324.50,97.73 324.45,96.10 C324.40,94.47 324.53,92.83 324.65,91.20 C324.77,89.57 325.15,87.92 325.15,86.30 C325.15,84.68 324.72,83.22 324.65,81.50 C324.58,79.78 324.50,77.83 324.75,76.00 C325.00,74.17 325.65,72.23 326.15,70.50 C326.65,68.77 327.37,67.02 327.75,65.60 C328.13,64.18 328.38,62.82 328.45,62.00 C328.52,61.18 328.15,61.13 328.15,60.70 C328.15,60.27 328.23,59.82 328.45,59.40 C328.67,58.98 329.28,60.23 329.45,58.20 C329.62,56.17 329.43,49.03 329.45,47.20 C329.47,45.37 329.53,45.37 329.55,47.20Z" fill="#c80c38" stroke="#111" stroke-width="1.0" stroke-linejoin="round"/>
<circle cx="329.50" cy="60.70" r="1.8" fill="#111"/>
<circle cx="327.28" cy="71.00" r="1.8" fill="#111"/>
<circle cx="329.50" cy="71.70" r="1.8" fill="#111"/>
<circle cx="331.72" cy="70.50" r="1.8" fill="#111"/>
<circle cx="325.98" cy="76.00" r="1.8" fill="#111"/>
<circle cx="328.33" cy="76.70" r="1.8" fill="#111"/>
<circle cx="330.67" cy="75.50" r="1.8" fill="#111"/>
<circle cx="333.02" cy="76.40" r="1.8" fill="#111"/>
<circle cx="325.88" cy="81.50" r="1.8" fill="#111"/>
<circle cx="328.29" cy="82.20" r="1.8" fill="#111"/>
<circle cx="330.71" cy="81.00" r="1.8" fill="#111"/>
<circle cx="333.12" cy="81.90" r="1.8" fill="#111"/>
<circle cx="325.88" cy="91.50" r="1.8" fill="#111"/>
<circle cx="328.29" cy="92.20" r="1.8" fill="#111"/>
<circle cx="330.71" cy="91.00" r="1.8" fill="#111"/>
<circle cx="333.12" cy="91.90" r="1.8" fill="#111"/>
<circle cx="325.68" cy="97.00" r="1.8" fill="#111"/>
<circle cx="328.23" cy="97.70" r="1.8" fill="#111"/>
<circle cx="330.77" cy="96.50" r="1.8" fill="#111"/>
<circle cx="333.32" cy="97.40" r="1.8" fill="#111"/>
<circle cx="326.98" cy="103.00" r="1.8" fill="#111"/>
<circle cx="329.50" cy="103.70" r="1.8" fill="#111"/>
<circle cx="332.02" cy="102.50" r="1.8" fill="#111"/>
<path d="M226.50,70.50 V41.50 H242.50 V61.90" fill="none" stroke="#2a2a2a" stroke-width="0.9"/>
<text x="234.40" y="39.80" font-size="6.60" fill="#262626" stroke="#262626" stroke-width="0.18" text-anchor="middle">ns</text>
<path d="M269.50,46.60 V41.50 H286.50 V63.70" fill="none" stroke="#2a2a2a" stroke-width="0.9"/>
<text x="278.15" y="39.50" font-size="6.60" fill="#262626" stroke="#262626" stroke-width="0.18" text-anchor="middle">ns</text>
<path d="M313.50,50.30 V41.50 H329.50 V44.80" fill="none" stroke="#2a2a2a" stroke-width="0.9"/>
<text x="321.25" y="39.50" font-size="6.60" fill="#262626" stroke="#262626" stroke-width="0.18" text-anchor="middle">ns</text>
<text x="419.00" y="20.60" font-size="8.90" fill="#2b2b2b" textLength="62.80" lengthAdjust="spacingAndGlyphs">50uM ab-meATP</text>
<line x1="388.50" y1="35.40" x2="388.50" y2="124.10" stroke="#1a1a1a" stroke-width="1.0"/>
<line x1="385.20" y1="38.50" x2="388.40" y2="38.50" stroke="#1a1a1a" stroke-width="0.9"/>
<text x="382.80" y="40.80" font-size="6.70" fill="#262626" stroke="#262626" stroke-width="0.18" text-anchor="end" textLength="10.20" lengthAdjust="spacingAndGlyphs">300</text>
<line x1="385.20" y1="59.50" x2="388.40" y2="59.50" stroke="#1a1a1a" stroke-width="0.9"/>
<text x="382.80" y="62.10" font-size="6.70" fill="#262626" stroke="#262626" stroke-width="0.18" text-anchor="end" textLength="10.20" lengthAdjust="spacingAndGlyphs">200</text>
<line x1="385.20" y1="81.50" x2="388.40" y2="81.50" stroke="#1a1a1a" stroke-width="0.9"/>
<text x="382.80" y="83.40" font-size="6.70" fill="#262626" stroke="#262626" stroke-width="0.18" text-anchor="end" textLength="10.20" lengthAdjust="spacingAndGlyphs">100</text>
<line x1="385.20" y1="102.50" x2="388.40" y2="102.50" stroke="#1a1a1a" stroke-width="0.9"/>
<text x="382.80" y="104.70" font-size="6.70" fill="#262626" stroke="#262626" stroke-width="0.18" text-anchor="end" textLength="3.40" lengthAdjust="spacingAndGlyphs">0</text>
<line x1="385.20" y1="123.50" x2="388.40" y2="123.50" stroke="#1a1a1a" stroke-width="0.9"/>
<text x="382.80" y="126.00" font-size="6.70" fill="#262626" stroke="#262626" stroke-width="0.18" text-anchor="end" textLength="13.40" lengthAdjust="spacingAndGlyphs">-100</text>
<line x1="387.90" y1="123.50" x2="513.90" y2="123.50" stroke="#1a1a1a" stroke-width="1.0"/>
<line x1="388.40" y1="102.50" x2="513.40" y2="102.50" stroke="#9a9a9a" stroke-width="0.6"/>
<line x1="407.50" y1="123.60" x2="407.50" y2="126.40" stroke="#1a1a1a" stroke-width="0.9"/>
<text x="407.65" y="134.80" font-size="7.00" fill="#262626" stroke="#262626" stroke-width="0.18" text-anchor="middle" textLength="8.60" lengthAdjust="spacingAndGlyphs">HC</text>
<line x1="451.50" y1="123.60" x2="451.50" y2="126.40" stroke="#1a1a1a" stroke-width="0.9"/>
<text x="451.15" y="134.80" font-size="7.00" fill="#262626" stroke="#262626" stroke-width="0.18" text-anchor="middle" textLength="16.00" lengthAdjust="spacingAndGlyphs">SS BL</text>
<line x1="494.50" y1="123.60" x2="494.50" y2="126.40" stroke="#1a1a1a" stroke-width="0.9"/>
<text x="494.65" y="134.80" font-size="7.00" fill="#262626" stroke="#262626" stroke-width="0.18" text-anchor="middle" textLength="15.00" lengthAdjust="spacingAndGlyphs">SS IP</text>
<text x="451.80" y="145.90" font-size="7.60" fill="#262626" stroke="#262626" stroke-width="0.18" text-anchor="middle" textLength="52.00" lengthAdjust="spacingAndGlyphs">Plasma treatment</text>
<text x="363.20" y="77.40" font-size="7.00" fill="#262626" stroke="#262626" stroke-width="0.18" text-anchor="middle" textLength="111.30" lengthAdjust="spacingAndGlyphs" transform="rotate(-90 363.20 77.40)">Relative calcium flux (% of PBS control)</text>
<rect x="410.20" y="153.20" width="4.80" height="4.80" fill="#2aa8d9"/>
<text x="418.50" y="157.90" font-size="6.80" fill="#262626" stroke="#262626" stroke-width="0.18" textLength="23.30" lengthAdjust="spacingAndGlyphs">HC iSNs</text>
<rect x="457.50" y="153.20" width="4.80" height="4.80" fill="#c80c38"/>
<text x="466.20" y="157.90" font-size="6.80" fill="#262626" stroke="#262626" stroke-width="0.18" textLength="26.50" lengthAdjust="spacingAndGlyphs">SCD iSNs</text>
<path d="M399.25,69.30 C399.27,70.25 399.08,73.88 399.25,75.00 C399.42,76.12 400.05,75.72 400.25,76.00 C400.45,76.28 400.45,76.43 400.45,76.70 C400.45,76.97 400.45,77.27 400.25,77.60 C400.05,77.93 399.42,77.55 399.25,78.70 C399.08,79.85 399.08,83.43 399.25,84.50 C399.42,85.57 400.05,84.92 400.25,85.10 C400.45,85.28 400.45,85.35 400.45,85.60 C400.45,85.85 400.42,86.20 400.25,86.60 C400.08,87.00 399.35,87.40 399.45,88.00 C399.55,88.60 400.45,89.17 400.85,90.20 C401.25,91.23 401.47,92.87 401.85,94.20 C402.23,95.53 402.80,97.10 403.15,98.20 C403.50,99.30 404.07,99.92 403.95,100.80 C403.83,101.68 403.05,102.62 402.45,103.50 C401.85,104.38 400.88,105.00 400.35,106.10 C399.82,107.20 399.45,109.43 399.25,110.10 C399.05,110.77 399.35,110.77 399.15,110.10 C398.95,109.43 398.58,107.20 398.05,106.10 C397.52,105.00 396.55,104.38 395.95,103.50 C395.35,102.62 394.57,101.68 394.45,100.80 C394.33,99.92 394.90,99.30 395.25,98.20 C395.60,97.10 396.17,95.53 396.55,94.20 C396.93,92.87 397.15,91.23 397.55,90.20 C397.95,89.17 398.85,88.60 398.95,88.00 C399.05,87.40 398.32,87.00 398.15,86.60 C397.98,86.20 397.95,85.85 397.95,85.60 C397.95,85.35 397.95,85.28 398.15,85.10 C398.35,84.92 398.98,85.57 399.15,84.50 C399.32,83.43 399.32,79.85 399.15,78.70 C398.98,77.55 398.35,77.93 398.15,77.60 C397.95,77.27 397.95,76.97 397.95,76.70 C397.95,76.43 397.95,76.28 398.15,76.00 C398.35,75.72 398.98,76.12 399.15,75.00 C399.32,73.88 399.13,70.25 399.15,69.30 C399.17,68.35 399.23,68.35 399.25,69.30Z" fill="#2aa8d9" stroke="#111" stroke-width="1.0" stroke-linejoin="round"/>
<circle cx="399.20" cy="76.70" r="1.7" fill="#111"/>
<circle cx="399.20" cy="85.60" r="1.7" fill="#111"/>
<circle cx="399.20" cy="91.00" r="1.8" fill="#111"/>
<circle cx="397.68" cy="95.00" r="1.8" fill="#111"/>
<circle cx="400.72" cy="95.70" r="1.8" fill="#111"/>
<circle cx="396.48" cy="98.50" r="1.8" fill="#111"/>
<circle cx="399.20" cy="99.20" r="1.8" fill="#111"/>
<circle cx="401.92" cy="98.00" r="1.8" fill="#111"/>
<circle cx="395.78" cy="101.50" r="1.8" fill="#111"/>
<circle cx="398.06" cy="102.20" r="1.8" fill="#111"/>
<circle cx="400.34" cy="101.00" r="1.8" fill="#111"/>
<circle cx="402.62" cy="101.90" r="1.8" fill="#111"/>
<circle cx="397.78" cy="104.00" r="1.8" fill="#111"/>
<circle cx="400.62" cy="104.70" r="1.8" fill="#111"/>
<path d="M415.55,66.40 C415.75,67.28 416.25,69.93 416.65,71.70 C417.05,73.47 417.68,75.23 417.95,77.00 C418.22,78.77 418.08,80.53 418.25,82.30 C418.42,84.07 418.67,85.83 418.95,87.60 C419.23,89.37 419.68,91.37 419.95,92.90 C420.22,94.43 420.58,95.60 420.55,96.80 C420.52,98.00 420.22,99.10 419.75,100.10 C419.28,101.10 418.35,101.80 417.75,102.80 C417.15,103.80 416.52,105.00 416.15,106.10 C415.78,107.20 415.67,108.85 415.55,109.40 C415.43,109.95 415.57,109.95 415.45,109.40 C415.33,108.85 415.22,107.20 414.85,106.10 C414.48,105.00 413.85,103.80 413.25,102.80 C412.65,101.80 411.72,101.10 411.25,100.10 C410.78,99.10 410.48,98.00 410.45,96.80 C410.42,95.60 410.78,94.43 411.05,92.90 C411.32,91.37 411.77,89.37 412.05,87.60 C412.33,85.83 412.58,84.07 412.75,82.30 C412.92,80.53 412.78,78.77 413.05,77.00 C413.32,75.23 413.95,73.47 414.35,71.70 C414.75,69.93 415.25,67.28 415.45,66.40 C415.65,65.52 415.35,65.52 415.55,66.40Z" fill="#c80c38" stroke="#111" stroke-width="1.0" stroke-linejoin="round"/>
<circle cx="415.50" cy="72.00" r="1.8" fill="#111"/>
<circle cx="414.08" cy="77.50" r="1.8" fill="#111"/>
<circle cx="416.92" cy="78.20" r="1.8" fill="#111"/>
<circle cx="413.88" cy="83.00" r="1.8" fill="#111"/>
<circle cx="417.12" cy="83.70" r="1.8" fill="#111"/>
<circle cx="413.28" cy="88.00" r="1.8" fill="#111"/>
<circle cx="415.50" cy="88.70" r="1.8" fill="#111"/>
<circle cx="417.72" cy="87.50" r="1.8" fill="#111"/>
<circle cx="412.28" cy="93.50" r="1.8" fill="#111"/>
<circle cx="415.50" cy="94.20" r="1.8" fill="#111"/>
<circle cx="418.72" cy="93.00" r="1.8" fill="#111"/>
<circle cx="411.78" cy="97.50" r="1.8" fill="#111"/>
<circle cx="414.26" cy="98.20" r="1.8" fill="#111"/>
<circle cx="416.74" cy="97.00" r="1.8" fill="#111"/>
<circle cx="419.22" cy="97.90" r="1.8" fill="#111"/>
<circle cx="412.78" cy="101.00" r="1.8" fill="#111"/>
<circle cx="415.50" cy="101.70" r="1.8" fill="#111"/>
<circle cx="418.22" cy="100.50" r="1.8" fill="#111"/>
<path d="M442.65,51.20 C442.67,52.63 442.48,57.97 442.65,59.80 C442.82,61.63 443.43,61.55 443.65,62.20 C443.87,62.85 443.95,63.20 443.95,63.70 C443.95,64.20 443.68,64.32 443.65,65.20 C443.62,66.08 443.62,67.53 443.75,69.00 C443.88,70.47 444.23,72.67 444.45,74.00 C444.67,75.33 445.08,76.00 445.05,77.00 C445.02,78.00 444.42,79.12 444.25,80.00 C444.08,80.88 444.00,81.27 444.05,82.30 C444.10,83.33 444.23,84.88 444.55,86.20 C444.87,87.52 445.57,88.75 445.95,90.20 C446.33,91.65 446.67,93.35 446.85,94.90 C447.03,96.45 447.27,98.07 447.05,99.50 C446.83,100.93 446.10,102.18 445.55,103.50 C445.00,104.82 444.20,106.08 443.75,107.40 C443.30,108.72 443.03,109.97 442.85,111.40 C442.67,112.83 442.70,115.23 442.65,116.00 C442.60,116.77 442.60,116.77 442.55,116.00 C442.50,115.23 442.53,112.83 442.35,111.40 C442.17,109.97 441.90,108.72 441.45,107.40 C441.00,106.08 440.20,104.82 439.65,103.50 C439.10,102.18 438.37,100.93 438.15,99.50 C437.93,98.07 438.17,96.45 438.35,94.90 C438.53,93.35 438.87,91.65 439.25,90.20 C439.63,88.75 440.33,87.52 440.65,86.20 C440.97,84.88 441.10,83.33 441.15,82.30 C441.20,81.27 441.12,80.88 440.95,80.00 C440.78,79.12 440.18,78.00 440.15,77.00 C440.12,76.00 440.53,75.33 440.75,74.00 C440.97,72.67 441.32,70.47 441.45,69.00 C441.58,67.53 441.58,66.08 441.55,65.20 C441.52,64.32 441.25,64.20 441.25,63.70 C441.25,63.20 441.33,62.85 441.55,62.20 C441.77,61.55 442.38,61.63 442.55,59.80 C442.72,57.97 442.53,52.63 442.55,51.20 C442.57,49.77 442.63,49.77 442.65,51.20Z" fill="#2aa8d9" stroke="#111" stroke-width="1.0" stroke-linejoin="round"/>
<circle cx="442.60" cy="63.70" r="1.8" fill="#111"/>
<circle cx="442.60" cy="77.00" r="1.9" fill="#111"/>
<circle cx="442.60" cy="86.20" r="1.8" fill="#111"/>
<circle cx="440.68" cy="91.00" r="1.8" fill="#111"/>
<circle cx="444.52" cy="91.70" r="1.8" fill="#111"/>
<circle cx="439.48" cy="96.50" r="1.8" fill="#111"/>
<circle cx="442.60" cy="97.20" r="1.8" fill="#111"/>
<circle cx="445.72" cy="96.00" r="1.8" fill="#111"/>
<circle cx="439.38" cy="100.50" r="1.8" fill="#111"/>
<circle cx="442.60" cy="101.20" r="1.8" fill="#111"/>
<circle cx="445.82" cy="100.00" r="1.8" fill="#111"/>
<path d="M459.15,53.20 C459.17,54.95 458.98,61.63 459.15,63.70 C459.32,65.77 459.93,65.03 460.15,65.60 C460.37,66.17 460.45,66.60 460.45,67.10 C460.45,67.60 460.23,67.83 460.15,68.60 C460.07,69.37 459.93,70.67 459.95,71.70 C459.97,72.73 460.15,74.03 460.25,74.80 C460.35,75.57 460.55,75.80 460.55,76.30 C460.55,76.80 460.30,76.58 460.25,77.80 C460.20,79.02 460.00,81.75 460.25,83.60 C460.50,85.45 461.23,87.13 461.75,88.90 C462.27,90.67 462.97,92.65 463.35,94.20 C463.73,95.75 464.05,96.98 464.05,98.20 C464.05,99.42 463.80,100.40 463.35,101.50 C462.90,102.60 461.95,103.58 461.35,104.80 C460.75,106.02 460.12,107.15 459.75,108.80 C459.38,110.45 459.27,113.72 459.15,114.70 C459.03,115.68 459.17,115.68 459.05,114.70 C458.93,113.72 458.82,110.45 458.45,108.80 C458.08,107.15 457.45,106.02 456.85,104.80 C456.25,103.58 455.30,102.60 454.85,101.50 C454.40,100.40 454.15,99.42 454.15,98.20 C454.15,96.98 454.47,95.75 454.85,94.20 C455.23,92.65 455.93,90.67 456.45,88.90 C456.97,87.13 457.70,85.45 457.95,83.60 C458.20,81.75 458.00,79.02 457.95,77.80 C457.90,76.58 457.65,76.80 457.65,76.30 C457.65,75.80 457.85,75.57 457.95,74.80 C458.05,74.03 458.23,72.73 458.25,71.70 C458.27,70.67 458.13,69.37 458.05,68.60 C457.97,67.83 457.75,67.60 457.75,67.10 C457.75,66.60 457.83,66.17 458.05,65.60 C458.27,65.03 458.88,65.77 459.05,63.70 C459.22,61.63 459.03,54.95 459.05,53.20 C459.07,51.45 459.13,51.45 459.15,53.20Z" fill="#c80c38" stroke="#111" stroke-width="1.0" stroke-linejoin="round"/>
<circle cx="459.10" cy="67.10" r="1.8" fill="#111"/>
<circle cx="459.10" cy="76.30" r="1.9" fill="#111"/>
<circle cx="456.18" cy="95.50" r="1.8" fill="#111"/>
<circle cx="459.10" cy="96.20" r="1.8" fill="#111"/>
<circle cx="462.02" cy="95.00" r="1.8" fill="#111"/>
<circle cx="455.38" cy="98.50" r="1.8" fill="#111"/>
<circle cx="457.86" cy="99.20" r="1.8" fill="#111"/>
<circle cx="460.34" cy="98.00" r="1.8" fill="#111"/>
<circle cx="462.82" cy="98.90" r="1.8" fill="#111"/>
<circle cx="456.18" cy="101.50" r="1.8" fill="#111"/>
<circle cx="459.10" cy="102.20" r="1.8" fill="#111"/>
<circle cx="462.02" cy="101.00" r="1.8" fill="#111"/>
<path d="M486.25,38.60 C486.40,38.73 486.88,39.12 487.05,39.40 C487.22,39.68 487.35,39.95 487.25,40.30 C487.15,40.65 486.62,40.88 486.45,41.50 C486.28,42.12 486.28,41.60 486.25,44.00 C486.22,46.40 486.07,52.98 486.25,55.90 C486.43,58.82 486.97,59.63 487.35,61.50 C487.73,63.37 488.08,65.00 488.55,67.10 C489.02,69.20 489.75,72.02 490.15,74.10 C490.55,76.18 490.97,77.75 490.95,79.60 C490.93,81.45 490.32,83.33 490.05,85.20 C489.78,87.07 489.33,88.93 489.35,90.80 C489.37,92.67 490.07,94.77 490.15,96.40 C490.23,98.03 490.12,98.97 489.85,100.60 C489.58,102.23 489.02,104.35 488.55,106.20 C488.08,108.05 487.43,109.27 487.05,111.70 C486.67,114.13 486.40,119.28 486.25,120.80 C486.10,122.32 486.30,122.32 486.15,120.80 C486.00,119.28 485.73,114.13 485.35,111.70 C484.97,109.27 484.32,108.05 483.85,106.20 C483.38,104.35 482.82,102.23 482.55,100.60 C482.28,98.97 482.17,98.03 482.25,96.40 C482.33,94.77 483.03,92.67 483.05,90.80 C483.07,88.93 482.62,87.07 482.35,85.20 C482.08,83.33 481.47,81.45 481.45,79.60 C481.43,77.75 481.85,76.18 482.25,74.10 C482.65,72.02 483.38,69.20 483.85,67.10 C484.32,65.00 484.67,63.37 485.05,61.50 C485.43,59.63 485.97,58.82 486.15,55.90 C486.33,52.98 486.18,46.40 486.15,44.00 C486.12,41.60 486.12,42.12 485.95,41.50 C485.78,40.88 485.25,40.65 485.15,40.30 C485.05,39.95 485.18,39.68 485.35,39.40 C485.52,39.12 486.00,38.73 486.15,38.60 C486.30,38.47 486.10,38.47 486.25,38.60Z" fill="#2aa8d9" stroke="#111" stroke-width="1.0" stroke-linejoin="round"/>
<circle cx="485.08" cy="64.30" r="1.8" fill="#111"/>
<circle cx="487.32" cy="65.00" r="1.8" fill="#111"/>
<circle cx="483.68" cy="72.70" r="1.8" fill="#111"/>
<circle cx="486.20" cy="73.40" r="1.8" fill="#111"/>
<circle cx="488.72" cy="72.20" r="1.8" fill="#111"/>
<circle cx="482.68" cy="78.20" r="1.8" fill="#111"/>
<circle cx="485.03" cy="78.90" r="1.8" fill="#111"/>
<circle cx="487.37" cy="77.70" r="1.8" fill="#111"/>
<circle cx="489.72" cy="78.60" r="1.8" fill="#111"/>
<circle cx="485.20" cy="81.00" r="1.8" fill="#111"/>
<circle cx="488.20" cy="84.00" r="1.8" fill="#111"/>
<circle cx="483.68" cy="94.50" r="1.8" fill="#111"/>
<circle cx="486.20" cy="95.20" r="1.8" fill="#111"/>
<circle cx="488.72" cy="94.00" r="1.8" fill="#111"/>
<circle cx="483.48" cy="97.50" r="1.8" fill="#111"/>
<circle cx="486.20" cy="98.20" r="1.8" fill="#111"/>
<circle cx="488.92" cy="97.00" r="1.8" fill="#111"/>
<path d="M502.25,51.00 C502.27,52.28 501.93,56.72 502.25,58.70 C502.57,60.68 503.63,61.27 504.15,62.90 C504.67,64.53 504.95,66.63 505.35,68.50 C505.75,70.37 506.32,72.25 506.55,74.10 C506.78,75.95 506.80,77.75 506.75,79.60 C506.70,81.45 506.23,83.33 506.25,85.20 C506.27,87.07 506.72,88.93 506.85,90.80 C506.98,92.67 507.13,94.77 507.05,96.40 C506.97,98.03 506.77,99.20 506.35,100.60 C505.93,102.00 505.08,103.42 504.55,104.80 C504.02,106.18 503.53,107.63 503.15,108.90 C502.77,110.17 502.42,111.82 502.25,112.40 C502.08,112.98 502.32,112.98 502.15,112.40 C501.98,111.82 501.63,110.17 501.25,108.90 C500.87,107.63 500.38,106.18 499.85,104.80 C499.32,103.42 498.47,102.00 498.05,100.60 C497.63,99.20 497.43,98.03 497.35,96.40 C497.27,94.77 497.42,92.67 497.55,90.80 C497.68,88.93 498.13,87.07 498.15,85.20 C498.17,83.33 497.70,81.45 497.65,79.60 C497.60,77.75 497.62,75.95 497.85,74.10 C498.08,72.25 498.65,70.37 499.05,68.50 C499.45,66.63 499.73,64.53 500.25,62.90 C500.77,61.27 501.83,60.68 502.15,58.70 C502.47,56.72 502.13,52.28 502.15,51.00 C502.17,49.72 502.23,49.72 502.25,51.00Z" fill="#c80c38" stroke="#111" stroke-width="1.0" stroke-linejoin="round"/>
<circle cx="500.88" cy="65.00" r="1.8" fill="#111"/>
<circle cx="503.52" cy="65.70" r="1.8" fill="#111"/>
<circle cx="499.08" cy="74.80" r="1.8" fill="#111"/>
<circle cx="502.20" cy="75.50" r="1.8" fill="#111"/>
<circle cx="505.32" cy="74.30" r="1.8" fill="#111"/>
<circle cx="498.88" cy="81.00" r="1.8" fill="#111"/>
<circle cx="501.09" cy="81.70" r="1.8" fill="#111"/>
<circle cx="503.31" cy="80.50" r="1.8" fill="#111"/>
<circle cx="505.52" cy="81.40" r="1.8" fill="#111"/>
<circle cx="499.28" cy="86.60" r="1.8" fill="#111"/>
<circle cx="502.20" cy="87.30" r="1.8" fill="#111"/>
<circle cx="505.12" cy="86.10" r="1.8" fill="#111"/>
<circle cx="498.58" cy="97.80" r="1.8" fill="#111"/>
<circle cx="500.99" cy="98.50" r="1.8" fill="#111"/>
<circle cx="503.41" cy="97.30" r="1.8" fill="#111"/>
<circle cx="505.82" cy="98.20" r="1.8" fill="#111"/>
<circle cx="500.20" cy="91.00" r="1.8" fill="#111"/>
<circle cx="504.20" cy="93.00" r="1.8" fill="#111"/>
<path d="M399.50,66.40 V33.50 H415.50 V63.70" fill="none" stroke="#2a2a2a" stroke-width="0.9"/>
<text x="407.35" y="31.40" font-size="6.60" fill="#262626" stroke="#262626" stroke-width="0.18" text-anchor="middle">ns</text>
<path d="M442.50,47.20 V33.50 H459.50 V49.20" fill="none" stroke="#2a2a2a" stroke-width="0.9"/>
<text x="450.85" y="31.40" font-size="6.60" fill="#262626" stroke="#262626" stroke-width="0.18" text-anchor="middle">ns</text>
<path d="M486.50,35.60 V32.50 H502.50 V48.20" fill="none" stroke="#2a2a2a" stroke-width="0.9"/>
<text x="494.20" y="31.30" font-size="6.60" fill="#262626" stroke="#262626" stroke-width="0.18" text-anchor="middle">ns</text>
<text x="136.10" y="184.60" font-size="8.20" fill="#2b2b2b" textLength="59.90" lengthAdjust="spacingAndGlyphs">10uM Capsaicin</text>
<line x1="79.50" y1="190.30" x2="79.50" y2="311.20" stroke="#3d3d3d" stroke-width="1.2"/>
<line x1="76.00" y1="193.50" x2="79.00" y2="193.50" stroke="#1a1a1a" stroke-width="0.9"/>
<text x="72.70" y="195.00" font-size="5.50" fill="#262626" stroke="#262626" stroke-width="0.18" text-anchor="end" textLength="10.20" lengthAdjust="spacingAndGlyphs">300</text>
<line x1="76.00" y1="222.50" x2="79.00" y2="222.50" stroke="#1a1a1a" stroke-width="0.9"/>
<text x="72.70" y="224.40" font-size="5.50" fill="#262626" stroke="#262626" stroke-width="0.18" text-anchor="end" textLength="10.20" lengthAdjust="spacingAndGlyphs">200</text>
<line x1="76.00" y1="251.50" x2="79.00" y2="251.50" stroke="#1a1a1a" stroke-width="0.9"/>
<text x="72.70" y="253.80" font-size="5.50" fill="#262626" stroke="#262626" stroke-width="0.18" text-anchor="end" textLength="10.20" lengthAdjust="spacingAndGlyphs">100</text>
<line x1="76.00" y1="281.50" x2="79.00" y2="281.50" stroke="#1a1a1a" stroke-width="0.9"/>
<text x="72.70" y="283.20" font-size="5.50" fill="#262626" stroke="#262626" stroke-width="0.18" text-anchor="end" textLength="3.30" lengthAdjust="spacingAndGlyphs">0</text>
<line x1="76.00" y1="310.50" x2="79.00" y2="310.50" stroke="#1a1a1a" stroke-width="0.9"/>
<text x="72.70" y="312.60" font-size="5.50" fill="#262626" stroke="#262626" stroke-width="0.18" text-anchor="end" textLength="13.20" lengthAdjust="spacingAndGlyphs">-100</text>
<line x1="78.50" y1="310.50" x2="253.50" y2="310.50" stroke="#3d3d3d" stroke-width="1.2"/>
<line x1="79.00" y1="281.30" x2="252.00" y2="281.30" stroke="#333" stroke-width="0.8" stroke-dasharray="1.15 1.15"/>
<line x1="105.50" y1="310.70" x2="105.50" y2="313.50" stroke="#1a1a1a" stroke-width="0.9"/>
<text x="105.80" y="321.90" font-size="5.60" fill="#262626" stroke="#262626" stroke-width="0.18" text-anchor="middle" textLength="8.40" lengthAdjust="spacingAndGlyphs">HC</text>
<line x1="166.50" y1="310.70" x2="166.50" y2="313.50" stroke="#1a1a1a" stroke-width="0.9"/>
<text x="166.20" y="321.90" font-size="5.60" fill="#262626" stroke="#262626" stroke-width="0.18" text-anchor="middle" textLength="18.00" lengthAdjust="spacingAndGlyphs">SS BL</text>
<line x1="226.50" y1="310.70" x2="226.50" y2="313.50" stroke="#1a1a1a" stroke-width="0.9"/>
<text x="226.60" y="321.90" font-size="5.60" fill="#262626" stroke="#262626" stroke-width="0.18" text-anchor="middle" textLength="15.00" lengthAdjust="spacingAndGlyphs">SS IP</text>
<text x="157.10" y="332.00" font-size="6.60" fill="#262626" stroke="#262626" stroke-width="0.18" text-anchor="middle" textLength="52.30" lengthAdjust="spacingAndGlyphs">Plasma treatment</text>
<text x="53.30" y="250.00" font-size="6.80" fill="#262626" stroke="#262626" stroke-width="0.18" text-anchor="middle" textLength="114.00" lengthAdjust="spacingAndGlyphs" transform="rotate(-90 53.30 250.00)">Relative calcium flux (% of PBS control)</text>
<rect x="114.80" y="339.50" width="5.00" height="5.00" fill="#2aa8d9"/>
<text x="123.50" y="344.20" font-size="6.00" fill="#262626" stroke="#262626" stroke-width="0.18" textLength="23.50" lengthAdjust="spacingAndGlyphs">HC iSNs</text>
<rect x="162.30" y="339.50" width="5.00" height="5.00" fill="#c80c38"/>
<text x="171.50" y="344.20" font-size="6.00" fill="#262626" stroke="#262626" stroke-width="0.18" textLength="27.30" lengthAdjust="spacingAndGlyphs">SCD iSNs</text>
<path d="M94.35,263.90 C94.83,264.45 96.22,266.22 97.15,267.20 C98.08,268.18 99.57,268.93 99.95,269.80 C100.33,270.67 100.02,271.43 99.45,272.40 C98.88,273.37 96.72,274.53 96.55,275.60 C96.38,276.67 98.45,277.83 98.45,278.80 C98.45,279.77 97.13,280.63 96.55,281.40 C95.97,282.17 95.32,282.85 94.95,283.40 C94.58,283.95 94.47,284.48 94.35,284.70 C94.23,284.92 94.37,284.92 94.25,284.70 C94.13,284.48 94.02,283.95 93.65,283.40 C93.28,282.85 92.63,282.17 92.05,281.40 C91.47,280.63 90.15,279.77 90.15,278.80 C90.15,277.83 92.22,276.67 92.05,275.60 C91.88,274.53 89.72,273.37 89.15,272.40 C88.58,271.43 88.27,270.67 88.65,269.80 C89.03,268.93 90.52,268.18 91.45,267.20 C92.38,266.22 93.77,264.45 94.25,263.90 C94.73,263.35 93.87,263.35 94.35,263.90Z" fill="#2aa8d9" stroke="#111" stroke-width="1.0" stroke-linejoin="round"/>
<circle cx="92.80" cy="266.50" r="2.2" fill="#111"/>
<circle cx="95.80" cy="266.50" r="2.2" fill="#111"/>
<circle cx="90.10" cy="269.30" r="2.2" fill="#111"/>
<circle cx="92.90" cy="269.30" r="2.2" fill="#111"/>
<circle cx="95.70" cy="269.30" r="2.2" fill="#111"/>
<circle cx="98.50" cy="269.30" r="2.2" fill="#111"/>
<circle cx="91.00" cy="272.60" r="2.2" fill="#111"/>
<circle cx="94.30" cy="272.60" r="2.2" fill="#111"/>
<circle cx="97.60" cy="272.60" r="2.2" fill="#111"/>
<circle cx="91.50" cy="278.20" r="2.2" fill="#111"/>
<circle cx="94.30" cy="278.20" r="2.2" fill="#111"/>
<circle cx="97.10" cy="278.20" r="2.2" fill="#111"/>
<circle cx="94.30" cy="281.50" r="2.2" fill="#111"/>
<path d="M116.75,251.00 C117.08,251.53 117.85,252.80 118.65,254.20 C119.45,255.60 120.97,257.67 121.55,259.40 C122.13,261.13 122.05,262.87 122.15,264.60 C122.25,266.33 122.30,268.08 122.15,269.80 C122.00,271.52 121.68,273.28 121.25,274.90 C120.82,276.52 120.12,278.20 119.55,279.50 C118.98,280.80 118.32,281.52 117.85,282.70 C117.38,283.88 116.95,285.95 116.75,286.60 C116.55,287.25 116.85,287.25 116.65,286.60 C116.45,285.95 116.02,283.88 115.55,282.70 C115.08,281.52 114.42,280.80 113.85,279.50 C113.28,278.20 112.58,276.52 112.15,274.90 C111.72,273.28 111.40,271.52 111.25,269.80 C111.10,268.08 111.15,266.33 111.25,264.60 C111.35,262.87 111.27,261.13 111.85,259.40 C112.43,257.67 113.95,255.60 114.75,254.20 C115.55,252.80 116.32,251.53 116.65,251.00 C116.98,250.47 116.42,250.47 116.75,251.00Z" fill="#c80c38" stroke="#111" stroke-width="1.0" stroke-linejoin="round"/>
<circle cx="122.20" cy="258.10" r="2.2" fill="#111"/>
<circle cx="112.20" cy="263.30" r="2.2" fill="#111"/>
<circle cx="122.20" cy="263.30" r="2.2" fill="#111"/>
<circle cx="112.70" cy="269.80" r="2.2" fill="#111"/>
<circle cx="116.70" cy="269.80" r="2.2" fill="#111"/>
<circle cx="121.70" cy="269.80" r="2.2" fill="#111"/>
<circle cx="122.20" cy="273.70" r="2.2" fill="#111"/>
<circle cx="112.70" cy="278.20" r="2.2" fill="#111"/>
<path d="M154.35,260.70 C155.00,261.35 157.13,263.30 158.15,264.60 C159.17,265.90 160.07,267.32 160.45,268.50 C160.83,269.68 160.78,270.52 160.45,271.70 C160.12,272.88 159.05,274.30 158.45,275.60 C157.85,276.90 157.35,278.42 156.85,279.50 C156.35,280.58 155.87,281.45 155.45,282.10 C155.03,282.75 154.55,283.18 154.35,283.40 C154.15,283.62 154.45,283.62 154.25,283.40 C154.05,283.18 153.57,282.75 153.15,282.10 C152.73,281.45 152.25,280.58 151.75,279.50 C151.25,278.42 150.75,276.90 150.15,275.60 C149.55,274.30 148.48,272.88 148.15,271.70 C147.82,270.52 147.77,269.68 148.15,268.50 C148.53,267.32 149.43,265.90 150.45,264.60 C151.47,263.30 153.60,261.35 154.25,260.70 C154.90,260.05 153.70,260.05 154.35,260.70Z" fill="#2aa8d9" stroke="#111" stroke-width="1.0" stroke-linejoin="round"/>
<circle cx="151.80" cy="264.50" r="2.2" fill="#111"/>
<circle cx="156.30" cy="264.50" r="2.2" fill="#111"/>
<circle cx="149.50" cy="268.50" r="2.2" fill="#111"/>
<circle cx="155.80" cy="268.00" r="2.2" fill="#111"/>
<circle cx="159.10" cy="268.50" r="2.2" fill="#111"/>
<circle cx="149.50" cy="272.00" r="2.2" fill="#111"/>
<circle cx="153.80" cy="272.50" r="2.2" fill="#111"/>
<circle cx="159.10" cy="272.00" r="2.2" fill="#111"/>
<circle cx="151.80" cy="276.00" r="2.2" fill="#111"/>
<circle cx="157.10" cy="276.00" r="2.2" fill="#111"/>
<circle cx="154.30" cy="280.00" r="2.2" fill="#111"/>
<path d="M176.75,249.70 C176.98,250.45 177.52,253.02 178.05,254.20 C178.58,255.38 179.63,255.72 179.95,256.80 C180.27,257.88 180.17,259.40 179.95,260.70 C179.73,262.00 178.15,263.30 178.65,264.60 C179.15,265.90 182.15,267.42 182.95,268.50 C183.75,269.58 183.85,270.23 183.45,271.10 C183.05,271.97 181.42,272.63 180.55,273.70 C179.68,274.77 178.73,276.22 178.25,277.50 C177.77,278.78 177.90,279.98 177.65,281.40 C177.40,282.82 176.92,285.23 176.75,286.00 C176.58,286.77 176.82,286.77 176.65,286.00 C176.48,285.23 176.00,282.82 175.75,281.40 C175.50,279.98 175.63,278.78 175.15,277.50 C174.67,276.22 173.72,274.77 172.85,273.70 C171.98,272.63 170.35,271.97 169.95,271.10 C169.55,270.23 169.65,269.58 170.45,268.50 C171.25,267.42 174.25,265.90 174.75,264.60 C175.25,263.30 173.67,262.00 173.45,260.70 C173.23,259.40 173.13,257.88 173.45,256.80 C173.77,255.72 174.82,255.38 175.35,254.20 C175.88,253.02 176.42,250.45 176.65,249.70 C176.88,248.95 176.52,248.95 176.75,249.70Z" fill="#c80c38" stroke="#111" stroke-width="1.0" stroke-linejoin="round"/>
<circle cx="176.70" cy="256.50" r="2.2" fill="#111"/>
<circle cx="178.20" cy="260.00" r="2.2" fill="#111"/>
<circle cx="171.70" cy="268.80" r="2.2" fill="#111"/>
<circle cx="174.70" cy="268.80" r="2.2" fill="#111"/>
<circle cx="178.70" cy="268.80" r="2.2" fill="#111"/>
<circle cx="181.70" cy="268.80" r="2.2" fill="#111"/>
<circle cx="172.70" cy="271.50" r="2.2" fill="#111"/>
<circle cx="180.70" cy="271.50" r="2.2" fill="#111"/>
<circle cx="176.70" cy="275.00" r="2.2" fill="#111"/>
<circle cx="176.70" cy="279.00" r="2.2" fill="#111"/>
<path d="M214.65,242.60 C214.70,243.67 214.62,247.77 214.85,249.00 C215.08,250.23 215.82,249.67 216.05,250.00 C216.28,250.33 216.25,250.67 216.25,251.00 C216.25,251.33 216.28,251.67 216.05,252.00 C215.82,252.33 215.05,252.20 214.85,253.00 C214.65,253.80 214.85,255.30 214.85,256.80 C214.85,258.30 214.68,260.48 214.85,262.00 C215.02,263.52 215.42,264.60 215.85,265.90 C216.28,267.20 216.80,268.50 217.45,269.80 C218.10,271.10 219.15,272.42 219.75,273.70 C220.35,274.98 221.00,276.43 221.05,277.50 C221.10,278.57 220.75,279.23 220.05,280.10 C219.35,280.97 217.65,281.72 216.85,282.70 C216.05,283.68 215.62,284.92 215.25,286.00 C214.88,287.08 214.77,288.67 214.65,289.20 C214.53,289.73 214.67,289.73 214.55,289.20 C214.43,288.67 214.32,287.08 213.95,286.00 C213.58,284.92 213.15,283.68 212.35,282.70 C211.55,281.72 209.85,280.97 209.15,280.10 C208.45,279.23 208.10,278.57 208.15,277.50 C208.20,276.43 208.85,274.98 209.45,273.70 C210.05,272.42 211.10,271.10 211.75,269.80 C212.40,268.50 212.92,267.20 213.35,265.90 C213.78,264.60 214.18,263.52 214.35,262.00 C214.52,260.48 214.35,258.30 214.35,256.80 C214.35,255.30 214.55,253.80 214.35,253.00 C214.15,252.20 213.38,252.33 213.15,252.00 C212.92,251.67 212.95,251.33 212.95,251.00 C212.95,250.67 212.92,250.33 213.15,250.00 C213.38,249.67 214.12,250.23 214.35,249.00 C214.58,247.77 214.50,243.67 214.55,242.60 C214.60,241.53 214.60,241.53 214.65,242.60Z" fill="#2aa8d9" stroke="#111" stroke-width="1.0" stroke-linejoin="round"/>
<circle cx="214.60" cy="251.00" r="2.2" fill="#111"/>
<circle cx="214.60" cy="266.50" r="2.2" fill="#111"/>
<circle cx="219.10" cy="272.50" r="2.2" fill="#111"/>
<circle cx="210.10" cy="276.50" r="2.2" fill="#111"/>
<circle cx="219.10" cy="276.50" r="2.2" fill="#111"/>
<circle cx="213.10" cy="278.50" r="2.2" fill="#111"/>
<circle cx="216.60" cy="279.00" r="2.2" fill="#111"/>
<path d="M237.65,223.80 C237.77,224.77 237.88,227.55 238.25,229.60 C238.62,231.65 239.45,233.93 239.85,236.10 C240.25,238.27 240.27,240.33 240.65,242.60 C241.03,244.87 242.12,247.55 242.15,249.70 C242.18,251.85 240.85,253.45 240.85,255.50 C240.85,257.55 241.67,259.83 242.15,262.00 C242.63,264.17 243.43,266.35 243.75,268.50 C244.07,270.65 244.32,273.07 244.05,274.90 C243.78,276.73 242.80,278.20 242.15,279.50 C241.50,280.80 240.75,281.52 240.15,282.70 C239.55,283.88 238.90,285.30 238.55,286.60 C238.20,287.90 238.20,289.20 238.05,290.50 C237.90,291.80 237.73,293.75 237.65,294.40 C237.57,295.05 237.63,295.05 237.55,294.40 C237.47,293.75 237.30,291.80 237.15,290.50 C237.00,289.20 237.00,287.90 236.65,286.60 C236.30,285.30 235.65,283.88 235.05,282.70 C234.45,281.52 233.70,280.80 233.05,279.50 C232.40,278.20 231.42,276.73 231.15,274.90 C230.88,273.07 231.13,270.65 231.45,268.50 C231.77,266.35 232.57,264.17 233.05,262.00 C233.53,259.83 234.35,257.55 234.35,255.50 C234.35,253.45 233.02,251.85 233.05,249.70 C233.08,247.55 234.17,244.87 234.55,242.60 C234.93,240.33 234.95,238.27 235.35,236.10 C235.75,233.93 236.58,231.65 236.95,229.60 C237.32,227.55 237.43,224.77 237.55,223.80 C237.67,222.83 237.53,222.83 237.65,223.80Z" fill="#c80c38" stroke="#111" stroke-width="1.0" stroke-linejoin="round"/>
<circle cx="235.10" cy="249.70" r="2.2" fill="#111"/>
<circle cx="240.10" cy="249.70" r="2.2" fill="#111"/>
<circle cx="237.60" cy="267.80" r="2.2" fill="#111"/>
<circle cx="237.60" cy="274.30" r="2.2" fill="#111"/>
<circle cx="233.10" cy="272.00" r="2.2" fill="#111"/>
<circle cx="234.10" cy="278.00" r="2.2" fill="#111"/>
<circle cx="241.60" cy="262.50" r="2.2" fill="#111"/>
<circle cx="237.60" cy="236.00" r="2.2" fill="#111"/>
<path d="M94.50,258.80 V214.50 H116.50 V246.50" fill="none" stroke="#2a2a2a" stroke-width="0.9"/>
<text x="105.50" y="213.10" font-size="6.60" fill="#262626" stroke="#262626" stroke-width="0.18" text-anchor="middle">ns</text>
<path d="M154.50,256.20 V215.50 H176.50 V245.20" fill="none" stroke="#2a2a2a" stroke-width="0.9"/>
<text x="165.50" y="213.50" font-size="6.60" fill="#262626" stroke="#262626" stroke-width="0.18" text-anchor="middle">ns</text>
<path d="M214.50,238.00 V215.50 H237.50 V219.20" fill="none" stroke="#2a2a2a" stroke-width="0.9"/>
<text x="226.10" y="216.30" font-size="6.80" fill="#262626" stroke="#262626" stroke-width="0.18" text-anchor="middle">*</text>
<text x="364.60" y="184.60" font-size="8.20" fill="#2b2b2b" textLength="60.00" lengthAdjust="spacingAndGlyphs">50uM Capsaicin</text>
<line x1="306.50" y1="190.30" x2="306.50" y2="311.20" stroke="#3d3d3d" stroke-width="1.2"/>
<line x1="303.50" y1="193.50" x2="306.50" y2="193.50" stroke="#1a1a1a" stroke-width="0.9"/>
<text x="300.20" y="195.00" font-size="5.50" fill="#262626" stroke="#262626" stroke-width="0.18" text-anchor="end" textLength="10.20" lengthAdjust="spacingAndGlyphs">300</text>
<line x1="303.50" y1="222.50" x2="306.50" y2="222.50" stroke="#1a1a1a" stroke-width="0.9"/>
<text x="300.20" y="224.40" font-size="5.50" fill="#262626" stroke="#262626" stroke-width="0.18" text-anchor="end" textLength="10.20" lengthAdjust="spacingAndGlyphs">200</text>
<line x1="303.50" y1="251.50" x2="306.50" y2="251.50" stroke="#1a1a1a" stroke-width="0.9"/>
<text x="300.20" y="253.80" font-size="5.50" fill="#262626" stroke="#262626" stroke-width="0.18" text-anchor="end" textLength="10.20" lengthAdjust="spacingAndGlyphs">100</text>
<line x1="303.50" y1="281.50" x2="306.50" y2="281.50" stroke="#1a1a1a" stroke-width="0.9"/>
<text x="300.20" y="283.20" font-size="5.50" fill="#262626" stroke="#262626" stroke-width="0.18" text-anchor="end" textLength="3.30" lengthAdjust="spacingAndGlyphs">0</text>
<line x1="303.50" y1="310.50" x2="306.50" y2="310.50" stroke="#1a1a1a" stroke-width="0.9"/>
<text x="300.20" y="312.60" font-size="5.50" fill="#262626" stroke="#262626" stroke-width="0.18" text-anchor="end" textLength="13.20" lengthAdjust="spacingAndGlyphs">-100</text>
<line x1="306.00" y1="310.50" x2="481.00" y2="310.50" stroke="#3d3d3d" stroke-width="1.2"/>
<line x1="306.50" y1="281.30" x2="479.50" y2="281.30" stroke="#8a8a8a" stroke-width="0.8" stroke-dasharray="1.15 1.15"/>
<line x1="333.50" y1="310.70" x2="333.50" y2="313.50" stroke="#1a1a1a" stroke-width="0.9"/>
<text x="333.30" y="321.90" font-size="5.60" fill="#262626" stroke="#262626" stroke-width="0.18" text-anchor="middle" textLength="8.40" lengthAdjust="spacingAndGlyphs">HC</text>
<line x1="393.50" y1="310.70" x2="393.50" y2="313.50" stroke="#1a1a1a" stroke-width="0.9"/>
<text x="393.70" y="321.90" font-size="5.60" fill="#262626" stroke="#262626" stroke-width="0.18" text-anchor="middle" textLength="18.00" lengthAdjust="spacingAndGlyphs">SS BL</text>
<line x1="454.50" y1="310.70" x2="454.50" y2="313.50" stroke="#1a1a1a" stroke-width="0.9"/>
<text x="454.10" y="321.90" font-size="5.60" fill="#262626" stroke="#262626" stroke-width="0.18" text-anchor="middle" textLength="15.00" lengthAdjust="spacingAndGlyphs">SS IP</text>
<text x="384.60" y="332.00" font-size="6.60" fill="#262626" stroke="#262626" stroke-width="0.18" text-anchor="middle" textLength="52.30" lengthAdjust="spacingAndGlyphs">Plasma treatment</text>
<text x="282.00" y="250.00" font-size="6.80" fill="#262626" stroke="#262626" stroke-width="0.18" text-anchor="middle" textLength="114.00" lengthAdjust="spacingAndGlyphs" transform="rotate(-90 282.00 250.00)">Relative calcium flux (% of PBS control)</text>
<rect x="343.00" y="339.50" width="5.00" height="5.00" fill="#2aa8d9"/>
<text x="351.50" y="344.20" font-size="6.00" fill="#262626" stroke="#262626" stroke-width="0.18" textLength="23.50" lengthAdjust="spacingAndGlyphs">HC iSNs</text>
<rect x="390.50" y="339.50" width="5.00" height="5.00" fill="#c80c38"/>
<text x="399.00" y="344.20" font-size="6.00" fill="#262626" stroke="#262626" stroke-width="0.18" textLength="27.30" lengthAdjust="spacingAndGlyphs">SCD iSNs</text>
<path d="M322.35,263.60 C322.75,264.17 323.80,265.97 324.65,267.00 C325.50,268.03 326.82,268.65 327.45,269.80 C328.08,270.95 328.28,272.53 328.45,273.90 C328.62,275.27 328.73,276.75 328.45,278.00 C328.17,279.25 327.60,280.38 326.75,281.40 C325.90,282.42 324.08,283.42 323.35,284.10 C322.62,284.78 322.53,285.27 322.35,285.50 C322.17,285.73 322.43,285.73 322.25,285.50 C322.07,285.27 321.98,284.78 321.25,284.10 C320.52,283.42 318.70,282.42 317.85,281.40 C317.00,280.38 316.43,279.25 316.15,278.00 C315.87,276.75 315.98,275.27 316.15,273.90 C316.32,272.53 316.52,270.95 317.15,269.80 C317.78,268.65 319.10,268.03 319.95,267.00 C320.80,265.97 321.85,264.17 322.25,263.60 C322.65,263.03 321.95,263.03 322.35,263.60Z" fill="#2aa8d9" stroke="#111" stroke-width="1.0" stroke-linejoin="round"/>
<circle cx="320.30" cy="268.00" r="2.2" fill="#111"/>
<circle cx="324.30" cy="268.00" r="2.2" fill="#111"/>
<circle cx="317.80" cy="270.50" r="2.2" fill="#111"/>
<circle cx="322.30" cy="271.00" r="2.2" fill="#111"/>
<circle cx="326.80" cy="273.00" r="2.2" fill="#111"/>
<circle cx="317.80" cy="276.00" r="2.2" fill="#111"/>
<circle cx="322.30" cy="276.50" r="2.2" fill="#111"/>
<circle cx="326.80" cy="278.50" r="2.2" fill="#111"/>
<circle cx="319.80" cy="281.00" r="2.2" fill="#111"/>
<circle cx="324.80" cy="281.50" r="2.2" fill="#111"/>
<path d="M344.95,234.90 C345.00,235.92 344.92,239.57 345.15,241.00 C345.38,242.43 346.00,242.82 346.35,243.50 C346.70,244.18 347.25,244.55 347.25,245.10 C347.25,245.65 346.67,246.00 346.35,246.80 C346.03,247.60 345.42,248.35 345.35,249.90 C345.28,251.45 345.52,254.38 345.95,256.10 C346.38,257.82 347.37,258.60 347.95,260.20 C348.53,261.80 348.93,263.88 349.45,265.70 C349.97,267.52 350.73,269.52 351.05,271.10 C351.37,272.68 351.75,273.93 351.35,275.20 C350.95,276.47 349.50,277.55 348.65,278.70 C347.80,279.85 346.80,280.97 346.25,282.10 C345.70,283.23 345.57,284.82 345.35,285.50 C345.13,286.18 345.03,286.08 344.95,286.20 C344.87,286.32 344.93,286.32 344.85,286.20 C344.77,286.08 344.67,286.18 344.45,285.50 C344.23,284.82 344.10,283.23 343.55,282.10 C343.00,280.97 342.00,279.85 341.15,278.70 C340.30,277.55 338.85,276.47 338.45,275.20 C338.05,273.93 338.43,272.68 338.75,271.10 C339.07,269.52 339.83,267.52 340.35,265.70 C340.87,263.88 341.27,261.80 341.85,260.20 C342.43,258.60 343.42,257.82 343.85,256.10 C344.28,254.38 344.52,251.45 344.45,249.90 C344.38,248.35 343.77,247.60 343.45,246.80 C343.13,246.00 342.55,245.65 342.55,245.10 C342.55,244.55 343.10,244.18 343.45,243.50 C343.80,242.82 344.42,242.43 344.65,241.00 C344.88,239.57 344.80,235.92 344.85,234.90 C344.90,233.88 344.90,233.88 344.95,234.90Z" fill="#c80c38" stroke="#111" stroke-width="1.0" stroke-linejoin="round"/>
<circle cx="344.90" cy="245.10" r="2.2" fill="#111"/>
<circle cx="344.90" cy="260.20" r="2.2" fill="#111"/>
<circle cx="343.90" cy="264.30" r="2.2" fill="#111"/>
<circle cx="340.90" cy="271.80" r="2.2" fill="#111"/>
<circle cx="348.90" cy="271.80" r="2.2" fill="#111"/>
<circle cx="341.90" cy="275.00" r="2.2" fill="#111"/>
<circle cx="347.90" cy="275.00" r="2.2" fill="#111"/>
<circle cx="345.90" cy="268.00" r="2.2" fill="#111"/>
<path d="M383.05,252.70 C383.33,253.27 383.92,254.85 384.65,256.10 C385.38,257.35 386.70,258.83 387.45,260.20 C388.20,261.57 388.82,262.93 389.15,264.30 C389.48,265.67 389.73,267.03 389.45,268.40 C389.17,269.77 387.90,271.13 387.45,272.50 C387.00,273.87 386.75,275.23 386.75,276.60 C386.75,277.97 387.80,279.45 387.45,280.70 C387.10,281.95 385.33,282.95 384.65,284.10 C383.97,285.25 383.62,286.68 383.35,287.60 C383.08,288.52 383.12,289.27 383.05,289.60 C382.98,289.93 383.02,289.93 382.95,289.60 C382.88,289.27 382.92,288.52 382.65,287.60 C382.38,286.68 382.03,285.25 381.35,284.10 C380.67,282.95 378.90,281.95 378.55,280.70 C378.20,279.45 379.25,277.97 379.25,276.60 C379.25,275.23 379.00,273.87 378.55,272.50 C378.10,271.13 376.83,269.77 376.55,268.40 C376.27,267.03 376.52,265.67 376.85,264.30 C377.18,262.93 377.80,261.57 378.55,260.20 C379.30,258.83 380.62,257.35 381.35,256.10 C382.08,254.85 382.67,253.27 382.95,252.70 C383.23,252.13 382.77,252.13 383.05,252.70Z" fill="#2aa8d9" stroke="#111" stroke-width="1.0" stroke-linejoin="round"/>
<circle cx="383.00" cy="258.00" r="2.2" fill="#111"/>
<circle cx="380.00" cy="262.00" r="2.2" fill="#111"/>
<circle cx="387.50" cy="264.00" r="2.2" fill="#111"/>
<circle cx="378.50" cy="267.50" r="2.2" fill="#111"/>
<circle cx="383.00" cy="267.50" r="2.2" fill="#111"/>
<circle cx="386.50" cy="270.00" r="2.2" fill="#111"/>
<circle cx="380.00" cy="274.50" r="2.2" fill="#111"/>
<circle cx="386.00" cy="278.00" r="2.2" fill="#111"/>
<circle cx="380.00" cy="281.00" r="2.2" fill="#111"/>
<circle cx="385.00" cy="282.00" r="2.2" fill="#111"/>
<path d="M406.35,245.80 C406.47,246.37 406.57,248.05 406.95,249.20 C407.33,250.35 408.08,251.32 408.65,252.70 C409.22,254.08 410.12,256.02 410.35,257.50 C410.58,258.98 410.10,260.23 410.05,261.60 C410.00,262.97 409.77,264.33 410.05,265.70 C410.33,267.07 411.23,268.43 411.75,269.80 C412.27,271.17 413.20,272.65 413.15,273.90 C413.10,275.15 412.25,276.17 411.45,277.30 C410.65,278.43 409.10,279.68 408.35,280.70 C407.60,281.72 407.28,282.60 406.95,283.40 C406.62,284.20 406.47,285.15 406.35,285.50 C406.23,285.85 406.37,285.85 406.25,285.50 C406.13,285.15 405.98,284.20 405.65,283.40 C405.32,282.60 405.00,281.72 404.25,280.70 C403.50,279.68 401.95,278.43 401.15,277.30 C400.35,276.17 399.50,275.15 399.45,273.90 C399.40,272.65 400.33,271.17 400.85,269.80 C401.37,268.43 402.27,267.07 402.55,265.70 C402.83,264.33 402.60,262.97 402.55,261.60 C402.50,260.23 402.02,258.98 402.25,257.50 C402.48,256.02 403.38,254.08 403.95,252.70 C404.52,251.32 405.27,250.35 405.65,249.20 C406.03,248.05 406.13,246.37 406.25,245.80 C406.37,245.23 406.23,245.23 406.35,245.80Z" fill="#c80c38" stroke="#111" stroke-width="1.0" stroke-linejoin="round"/>
<circle cx="406.30" cy="252.50" r="2.2" fill="#111"/>
<circle cx="403.80" cy="256.00" r="2.2" fill="#111"/>
<circle cx="409.30" cy="258.00" r="2.2" fill="#111"/>
<circle cx="408.30" cy="262.00" r="2.2" fill="#111"/>
<circle cx="404.30" cy="266.00" r="2.2" fill="#111"/>
<circle cx="402.30" cy="270.00" r="2.2" fill="#111"/>
<circle cx="409.30" cy="271.00" r="2.2" fill="#111"/>
<circle cx="405.30" cy="273.50" r="2.2" fill="#111"/>
<circle cx="411.30" cy="275.00" r="2.2" fill="#111"/>
<circle cx="401.30" cy="276.50" r="2.2" fill="#111"/>
<path d="M443.75,215.10 C443.83,216.67 443.92,222.22 444.15,224.50 C444.38,226.78 444.95,227.30 445.15,228.80 C445.35,230.30 445.23,232.42 445.35,233.50 C445.47,234.58 445.85,234.63 445.85,235.30 C445.85,235.97 445.47,236.18 445.35,237.50 C445.23,238.82 445.15,240.87 445.15,243.20 C445.15,245.53 445.23,249.83 445.35,251.50 C445.47,253.17 445.85,252.62 445.85,253.20 C445.85,253.78 445.35,253.80 445.35,255.00 C445.35,256.20 445.47,258.53 445.85,260.40 C446.23,262.27 446.98,264.28 447.65,266.20 C448.32,268.12 449.33,269.98 449.85,271.90 C450.37,273.82 450.82,276.02 450.75,277.70 C450.68,279.38 450.15,280.57 449.45,282.00 C448.75,283.43 447.33,284.87 446.55,286.30 C445.77,287.73 445.17,289.15 444.75,290.60 C444.33,292.05 444.22,293.55 444.05,295.00 C443.88,296.45 443.82,298.58 443.75,299.30 C443.68,300.02 443.72,300.02 443.65,299.30 C443.58,298.58 443.52,296.45 443.35,295.00 C443.18,293.55 443.07,292.05 442.65,290.60 C442.23,289.15 441.63,287.73 440.85,286.30 C440.07,284.87 438.65,283.43 437.95,282.00 C437.25,280.57 436.72,279.38 436.65,277.70 C436.58,276.02 437.03,273.82 437.55,271.90 C438.07,269.98 439.08,268.12 439.75,266.20 C440.42,264.28 441.17,262.27 441.55,260.40 C441.93,258.53 442.05,256.20 442.05,255.00 C442.05,253.80 441.55,253.78 441.55,253.20 C441.55,252.62 441.93,253.17 442.05,251.50 C442.17,249.83 442.25,245.53 442.25,243.20 C442.25,240.87 442.17,238.82 442.05,237.50 C441.93,236.18 441.55,235.97 441.55,235.30 C441.55,234.63 441.93,234.58 442.05,233.50 C442.17,232.42 442.05,230.30 442.25,228.80 C442.45,227.30 443.02,226.78 443.25,224.50 C443.48,222.22 443.57,216.67 443.65,215.10 C443.73,213.53 443.67,213.53 443.75,215.10Z" fill="#2aa8d9" stroke="#111" stroke-width="1.0" stroke-linejoin="round"/>
<circle cx="443.70" cy="235.30" r="2.2" fill="#111"/>
<circle cx="443.70" cy="253.20" r="2.2" fill="#111"/>
<circle cx="440.70" cy="273.00" r="2.2" fill="#111"/>
<circle cx="446.20" cy="275.00" r="2.2" fill="#111"/>
<circle cx="439.20" cy="278.00" r="2.2" fill="#111"/>
<circle cx="448.20" cy="279.00" r="2.2" fill="#111"/>
<circle cx="443.70" cy="276.00" r="2.2" fill="#111"/>
<circle cx="441.70" cy="281.00" r="2.2" fill="#111"/>
<path d="M467.15,215.10 C467.20,216.67 467.17,222.22 467.35,224.50 C467.53,226.78 467.97,227.37 468.25,228.80 C468.53,230.23 469.02,231.18 469.05,233.10 C469.08,235.02 468.35,237.90 468.45,240.30 C468.55,242.70 469.38,245.35 469.65,247.50 C469.92,249.65 470.05,251.28 470.05,253.20 C470.05,255.12 469.48,256.83 469.65,259.00 C469.82,261.17 470.48,263.80 471.05,266.20 C471.62,268.60 472.67,271.48 473.05,273.40 C473.43,275.32 473.58,276.27 473.35,277.70 C473.12,279.13 472.33,280.57 471.65,282.00 C470.97,283.43 469.90,284.87 469.25,286.30 C468.60,287.73 468.10,289.03 467.75,290.60 C467.40,292.17 467.27,294.85 467.15,295.70 C467.03,296.55 467.17,296.55 467.05,295.70 C466.93,294.85 466.80,292.17 466.45,290.60 C466.10,289.03 465.60,287.73 464.95,286.30 C464.30,284.87 463.23,283.43 462.55,282.00 C461.87,280.57 461.08,279.13 460.85,277.70 C460.62,276.27 460.77,275.32 461.15,273.40 C461.53,271.48 462.58,268.60 463.15,266.20 C463.72,263.80 464.38,261.17 464.55,259.00 C464.72,256.83 464.15,255.12 464.15,253.20 C464.15,251.28 464.28,249.65 464.55,247.50 C464.82,245.35 465.65,242.70 465.75,240.30 C465.85,237.90 465.12,235.02 465.15,233.10 C465.18,231.18 465.67,230.23 465.95,228.80 C466.23,227.37 466.67,226.78 466.85,224.50 C467.03,222.22 467.00,216.67 467.05,215.10 C467.10,213.53 467.10,213.53 467.15,215.10Z" fill="#c80c38" stroke="#111" stroke-width="1.0" stroke-linejoin="round"/>
<circle cx="467.10" cy="233.10" r="2.2" fill="#111"/>
<circle cx="467.10" cy="250.00" r="2.2" fill="#111"/>
<circle cx="465.60" cy="253.00" r="2.2" fill="#111"/>
<circle cx="467.10" cy="259.00" r="2.2" fill="#111"/>
<circle cx="468.10" cy="266.00" r="2.2" fill="#111"/>
<circle cx="464.10" cy="273.50" r="2.2" fill="#111"/>
<circle cx="470.10" cy="274.50" r="2.2" fill="#111"/>
<circle cx="467.10" cy="277.00" r="2.2" fill="#111"/>
<path d="M322.50,258.80 V206.50 H344.50 V229.40" fill="none" stroke="#2a2a2a" stroke-width="0.9"/>
<text x="333.60" y="205.00" font-size="6.60" fill="#262626" stroke="#262626" stroke-width="0.18" text-anchor="middle">ns</text>
<path d="M383.50,247.90 V206.50 H406.50 V241.00" fill="none" stroke="#2a2a2a" stroke-width="0.9"/>
<text x="394.65" y="205.00" font-size="6.60" fill="#262626" stroke="#262626" stroke-width="0.18" text-anchor="middle">ns</text>
<path d="M443.50,210.80 V206.50 H467.50 V210.80" fill="none" stroke="#2a2a2a" stroke-width="0.9"/>
<text x="455.40" y="204.90" font-size="6.60" fill="#262626" stroke="#262626" stroke-width="0.18" text-anchor="middle">ns</text>
<text x="54.60" y="370.50" font-size="8.50" fill="#2b2b2b" textLength="101.20" lengthAdjust="spacingAndGlyphs">Plasma Effects - Glutamate</text>
<line x1="45.50" y1="394.60" x2="45.50" y2="478.10" stroke="#1a1a1a" stroke-width="1.0"/>
<line x1="42.60" y1="396.50" x2="45.60" y2="396.50" stroke="#1a1a1a" stroke-width="0.9"/>
<text x="39.80" y="398.49" font-size="6.00" fill="#262626" stroke="#262626" stroke-width="0.18" text-anchor="end" textLength="9.80" lengthAdjust="spacingAndGlyphs">300</text>
<line x1="42.60" y1="416.50" x2="45.60" y2="416.50" stroke="#1a1a1a" stroke-width="0.9"/>
<text x="39.80" y="418.76" font-size="6.00" fill="#262626" stroke="#262626" stroke-width="0.18" text-anchor="end" textLength="9.80" lengthAdjust="spacingAndGlyphs">200</text>
<line x1="42.60" y1="437.50" x2="45.60" y2="437.50" stroke="#1a1a1a" stroke-width="0.9"/>
<text x="39.80" y="439.03" font-size="6.00" fill="#262626" stroke="#262626" stroke-width="0.18" text-anchor="end" textLength="9.80" lengthAdjust="spacingAndGlyphs">100</text>
<line x1="42.60" y1="457.50" x2="45.60" y2="457.50" stroke="#1a1a1a" stroke-width="0.9"/>
<text x="39.80" y="459.30" font-size="6.00" fill="#262626" stroke="#262626" stroke-width="0.18" text-anchor="end" textLength="3.20" lengthAdjust="spacingAndGlyphs">0</text>
<line x1="42.60" y1="477.50" x2="45.60" y2="477.50" stroke="#1a1a1a" stroke-width="0.9"/>
<text x="39.80" y="479.57" font-size="6.00" fill="#262626" stroke="#262626" stroke-width="0.18" text-anchor="end" textLength="13.10" lengthAdjust="spacingAndGlyphs">-100</text>
<line x1="45.10" y1="477.50" x2="164.10" y2="477.50" stroke="#1a1a1a" stroke-width="1.0"/>
<line x1="45.60" y1="457.50" x2="164.60" y2="457.50" stroke="#9a9a9a" stroke-width="0.6"/>
<line x1="54.50" y1="477.60" x2="54.50" y2="480.40" stroke="#1a1a1a" stroke-width="0.9"/>
<text x="56.30" y="483.30" font-size="5.80" fill="#262626" stroke="#262626" stroke-width="0.18" text-anchor="end" textLength="12.60" lengthAdjust="spacingAndGlyphs" transform="rotate(-90 56.30 483.30)">UTX</text>
<line x1="67.50" y1="477.60" x2="67.50" y2="480.40" stroke="#1a1a1a" stroke-width="0.9"/>
<text x="69.57" y="483.30" font-size="5.80" fill="#262626" stroke="#262626" stroke-width="0.18" text-anchor="end" textLength="8.90" lengthAdjust="spacingAndGlyphs" transform="rotate(-90 69.57 483.30)">HC</text>
<line x1="80.50" y1="477.60" x2="80.50" y2="480.40" stroke="#1a1a1a" stroke-width="0.9"/>
<text x="82.84" y="483.30" font-size="5.80" fill="#262626" stroke="#262626" stroke-width="0.18" text-anchor="end" textLength="16.60" lengthAdjust="spacingAndGlyphs" transform="rotate(-90 82.84 483.30)">SS BL</text>
<line x1="94.50" y1="477.60" x2="94.50" y2="480.40" stroke="#1a1a1a" stroke-width="0.9"/>
<text x="96.11" y="483.30" font-size="5.80" fill="#262626" stroke="#262626" stroke-width="0.18" text-anchor="end" textLength="14.60" lengthAdjust="spacingAndGlyphs" transform="rotate(-90 96.11 483.30)">SS IP</text>
<line x1="116.50" y1="477.60" x2="116.50" y2="480.40" stroke="#1a1a1a" stroke-width="0.9"/>
<text x="118.20" y="483.30" font-size="5.80" fill="#262626" stroke="#262626" stroke-width="0.18" text-anchor="end" textLength="12.60" lengthAdjust="spacingAndGlyphs" transform="rotate(-90 118.20 483.30)">UTX</text>
<line x1="129.50" y1="477.60" x2="129.50" y2="480.40" stroke="#1a1a1a" stroke-width="0.9"/>
<text x="131.50" y="483.30" font-size="5.80" fill="#262626" stroke="#262626" stroke-width="0.18" text-anchor="end" textLength="8.90" lengthAdjust="spacingAndGlyphs" transform="rotate(-90 131.50 483.30)">HC</text>
<line x1="142.50" y1="477.60" x2="142.50" y2="480.40" stroke="#1a1a1a" stroke-width="0.9"/>
<text x="144.80" y="483.30" font-size="5.80" fill="#262626" stroke="#262626" stroke-width="0.18" text-anchor="end" textLength="16.60" lengthAdjust="spacingAndGlyphs" transform="rotate(-90 144.80 483.30)">SS BL</text>
<line x1="156.50" y1="477.60" x2="156.50" y2="480.40" stroke="#1a1a1a" stroke-width="0.9"/>
<text x="158.10" y="483.30" font-size="5.80" fill="#262626" stroke="#262626" stroke-width="0.18" text-anchor="end" textLength="14.60" lengthAdjust="spacingAndGlyphs" transform="rotate(-90 158.10 483.30)">SS IP</text>
<text x="105.20" y="508.70" font-size="6.80" fill="#262626" stroke="#262626" stroke-width="0.18" text-anchor="middle" textLength="52.50" lengthAdjust="spacingAndGlyphs">Plasma treatment</text>
<text x="21.30" y="432.60" font-size="7.00" fill="#262626" stroke="#262626" stroke-width="0.18" text-anchor="middle" textLength="110.30" lengthAdjust="spacingAndGlyphs" transform="rotate(-90 21.30 432.60)">Relative calcium flux (% of PBS control)</text>
<rect x="63.40" y="516.00" width="5.30" height="5.30" fill="#2aa8d9"/>
<text x="72.30" y="521.20" font-size="6.80" fill="#262626" stroke="#262626" stroke-width="0.18" textLength="23.20" lengthAdjust="spacingAndGlyphs">HC iSNs</text>
<rect x="111.60" y="516.00" width="5.30" height="5.30" fill="#c80c38"/>
<text x="119.40" y="521.20" font-size="6.80" fill="#262626" stroke="#262626" stroke-width="0.18" textLength="27.40" lengthAdjust="spacingAndGlyphs">SCD iSNs</text>
<path d="M54.55,434.00 C54.67,434.67 55.00,436.95 55.15,438.00 C55.30,439.05 55.33,439.33 55.45,440.30 C55.57,441.27 55.48,442.45 55.85,443.80 C56.22,445.15 57.27,447.07 57.65,448.40 C58.03,449.73 58.02,450.65 58.15,451.80 C58.28,452.95 58.53,454.33 58.45,455.30 C58.37,456.27 58.15,456.83 57.65,457.60 C57.15,458.37 55.97,459.03 55.45,459.90 C54.93,460.77 54.72,462.32 54.55,462.80 C54.38,463.28 54.62,463.28 54.45,462.80 C54.28,462.32 54.07,460.77 53.55,459.90 C53.03,459.03 51.85,458.37 51.35,457.60 C50.85,456.83 50.63,456.27 50.55,455.30 C50.47,454.33 50.72,452.95 50.85,451.80 C50.98,450.65 50.97,449.73 51.35,448.40 C51.73,447.07 52.78,445.15 53.15,443.80 C53.52,442.45 53.43,441.27 53.55,440.30 C53.67,439.33 53.70,439.05 53.85,438.00 C54.00,436.95 54.33,434.67 54.45,434.00 C54.57,433.33 54.43,433.33 54.55,434.00Z" fill="#2aa8d9" stroke="#111" stroke-width="1.0" stroke-linejoin="round"/>
<circle cx="54.50" cy="441.00" r="1.6" fill="#111"/>
<circle cx="54.50" cy="444.50" r="1.6" fill="#111"/>
<circle cx="52.52" cy="448.00" r="1.6" fill="#111"/>
<circle cx="56.48" cy="448.70" r="1.6" fill="#111"/>
<circle cx="51.98" cy="451.00" r="1.6" fill="#111"/>
<circle cx="54.50" cy="451.70" r="1.6" fill="#111"/>
<circle cx="57.02" cy="450.50" r="1.6" fill="#111"/>
<circle cx="51.67" cy="454.00" r="1.6" fill="#111"/>
<circle cx="54.50" cy="454.70" r="1.6" fill="#111"/>
<circle cx="57.33" cy="453.50" r="1.6" fill="#111"/>
<circle cx="52.15" cy="457.00" r="1.6" fill="#111"/>
<circle cx="54.50" cy="457.70" r="1.6" fill="#111"/>
<circle cx="56.85" cy="456.50" r="1.6" fill="#111"/>
<path d="M67.75,429.90 C67.80,430.67 67.80,433.15 67.95,434.50 C68.10,435.85 68.40,436.65 68.65,438.00 C68.90,439.35 69.18,441.07 69.45,442.60 C69.72,444.13 69.98,445.67 70.25,447.20 C70.52,448.73 70.87,450.45 71.05,451.80 C71.23,453.15 71.58,454.25 71.35,455.30 C71.12,456.35 70.15,457.25 69.65,458.10 C69.15,458.95 68.67,459.43 68.35,460.40 C68.03,461.37 67.87,463.32 67.75,463.90 C67.63,464.48 67.77,464.48 67.65,463.90 C67.53,463.32 67.37,461.37 67.05,460.40 C66.73,459.43 66.25,458.95 65.75,458.10 C65.25,457.25 64.28,456.35 64.05,455.30 C63.82,454.25 64.17,453.15 64.35,451.80 C64.53,450.45 64.88,448.73 65.15,447.20 C65.42,445.67 65.68,444.13 65.95,442.60 C66.22,441.07 66.50,439.35 66.75,438.00 C67.00,436.65 67.30,435.85 67.45,434.50 C67.60,433.15 67.60,430.67 67.65,429.90 C67.70,429.13 67.70,429.13 67.75,429.90Z" fill="#2aa8d9" stroke="#111" stroke-width="1.0" stroke-linejoin="round"/>
<circle cx="67.70" cy="436.00" r="1.6" fill="#111"/>
<circle cx="67.70" cy="441.50" r="1.6" fill="#111"/>
<circle cx="66.37" cy="446.00" r="1.6" fill="#111"/>
<circle cx="69.03" cy="446.70" r="1.6" fill="#111"/>
<circle cx="65.59" cy="450.50" r="1.6" fill="#111"/>
<circle cx="69.81" cy="451.20" r="1.6" fill="#111"/>
<circle cx="65.09" cy="455.00" r="1.6" fill="#111"/>
<circle cx="67.70" cy="455.70" r="1.6" fill="#111"/>
<circle cx="70.31" cy="454.50" r="1.6" fill="#111"/>
<path d="M81.05,406.90 C81.10,408.43 81.03,413.98 81.25,416.10 C81.47,418.22 82.25,418.45 82.35,419.60 C82.45,420.75 81.75,421.47 81.85,423.00 C81.95,424.53 82.63,426.88 82.95,428.80 C83.27,430.72 83.50,432.58 83.75,434.50 C84.00,436.42 84.33,438.37 84.45,440.30 C84.57,442.23 84.40,444.37 84.45,446.10 C84.50,447.83 84.70,449.17 84.75,450.70 C84.80,452.23 84.95,453.77 84.75,455.30 C84.55,456.83 83.98,458.37 83.55,459.90 C83.12,461.43 82.50,463.17 82.15,464.50 C81.80,465.83 81.63,466.75 81.45,467.90 C81.27,469.05 81.13,470.82 81.05,471.40 C80.97,471.98 81.03,471.98 80.95,471.40 C80.87,470.82 80.73,469.05 80.55,467.90 C80.37,466.75 80.20,465.83 79.85,464.50 C79.50,463.17 78.88,461.43 78.45,459.90 C78.02,458.37 77.45,456.83 77.25,455.30 C77.05,453.77 77.20,452.23 77.25,450.70 C77.30,449.17 77.50,447.83 77.55,446.10 C77.60,444.37 77.43,442.23 77.55,440.30 C77.67,438.37 78.00,436.42 78.25,434.50 C78.50,432.58 78.73,430.72 79.05,428.80 C79.37,426.88 80.05,424.53 80.15,423.00 C80.25,421.47 79.55,420.75 79.65,419.60 C79.75,418.45 80.53,418.22 80.75,416.10 C80.97,413.98 80.90,408.43 80.95,406.90 C81.00,405.37 81.00,405.37 81.05,406.90Z" fill="#2aa8d9" stroke="#111" stroke-width="1.0" stroke-linejoin="round"/>
<circle cx="81.00" cy="420.00" r="1.6" fill="#111"/>
<circle cx="79.02" cy="436.50" r="1.6" fill="#111"/>
<circle cx="82.98" cy="437.20" r="1.6" fill="#111"/>
<circle cx="78.56" cy="443.50" r="1.6" fill="#111"/>
<circle cx="81.00" cy="444.20" r="1.6" fill="#111"/>
<circle cx="83.44" cy="443.00" r="1.6" fill="#111"/>
<circle cx="78.26" cy="451.50" r="1.6" fill="#111"/>
<circle cx="81.00" cy="452.20" r="1.6" fill="#111"/>
<circle cx="83.74" cy="451.00" r="1.6" fill="#111"/>
<circle cx="78.31" cy="455.50" r="1.6" fill="#111"/>
<circle cx="81.00" cy="456.20" r="1.6" fill="#111"/>
<circle cx="83.69" cy="455.00" r="1.6" fill="#111"/>
<circle cx="81.00" cy="428.25" r="1.6" fill="#111"/>
<path d="M94.05,410.40 C94.10,412.00 94.05,418.08 94.25,420.00 C94.45,421.92 95.25,421.27 95.25,421.90 C95.25,422.53 94.28,422.65 94.25,423.80 C94.22,424.95 94.62,427.20 95.05,428.80 C95.48,430.40 96.47,432.07 96.85,433.40 C97.23,434.73 97.45,435.45 97.35,436.80 C97.25,438.15 96.43,439.95 96.25,441.50 C96.07,443.05 96.02,444.57 96.25,446.10 C96.48,447.63 97.42,449.17 97.65,450.70 C97.88,452.23 97.88,453.97 97.65,455.30 C97.42,456.63 96.72,457.55 96.25,458.70 C95.78,459.85 95.22,460.67 94.85,462.20 C94.48,463.73 94.20,466.95 94.05,467.90 C93.90,468.85 94.10,468.85 93.95,467.90 C93.80,466.95 93.52,463.73 93.15,462.20 C92.78,460.67 92.22,459.85 91.75,458.70 C91.28,457.55 90.58,456.63 90.35,455.30 C90.12,453.97 90.12,452.23 90.35,450.70 C90.58,449.17 91.52,447.63 91.75,446.10 C91.98,444.57 91.93,443.05 91.75,441.50 C91.57,439.95 90.75,438.15 90.65,436.80 C90.55,435.45 90.77,434.73 91.15,433.40 C91.53,432.07 92.52,430.40 92.95,428.80 C93.38,427.20 93.78,424.95 93.75,423.80 C93.72,422.65 92.75,422.53 92.75,421.90 C92.75,421.27 93.55,421.92 93.75,420.00 C93.95,418.08 93.90,412.00 93.95,410.40 C94.00,408.80 94.00,408.80 94.05,410.40Z" fill="#2aa8d9" stroke="#111" stroke-width="1.0" stroke-linejoin="round"/>
<circle cx="92.32" cy="433.00" r="1.6" fill="#111"/>
<circle cx="95.68" cy="433.70" r="1.6" fill="#111"/>
<circle cx="91.71" cy="437.00" r="1.6" fill="#111"/>
<circle cx="94.00" cy="437.70" r="1.6" fill="#111"/>
<circle cx="96.29" cy="436.50" r="1.6" fill="#111"/>
<circle cx="92.76" cy="446.00" r="1.6" fill="#111"/>
<circle cx="95.24" cy="446.70" r="1.6" fill="#111"/>
<circle cx="91.36" cy="451.00" r="1.6" fill="#111"/>
<circle cx="94.00" cy="451.70" r="1.6" fill="#111"/>
<circle cx="96.64" cy="450.50" r="1.6" fill="#111"/>
<circle cx="91.36" cy="454.50" r="1.6" fill="#111"/>
<circle cx="94.00" cy="455.20" r="1.6" fill="#111"/>
<circle cx="96.64" cy="454.00" r="1.6" fill="#111"/>
<circle cx="92.76" cy="441.50" r="1.6" fill="#111"/>
<circle cx="95.24" cy="442.20" r="1.6" fill="#111"/>
<circle cx="94.00" cy="421.90" r="1.75" fill="#111"/>
<path d="M116.35,428.60 C116.40,429.52 116.40,432.57 116.55,434.10 C116.70,435.63 116.95,436.17 117.25,437.80 C117.55,439.43 117.95,442.07 118.35,443.90 C118.75,445.73 119.33,447.18 119.65,448.80 C119.97,450.42 120.25,451.98 120.25,453.60 C120.25,455.22 120.07,457.07 119.65,458.50 C119.23,459.93 118.20,461.18 117.75,462.20 C117.30,463.22 117.18,463.58 116.95,464.60 C116.72,465.62 116.47,467.68 116.35,468.30 C116.23,468.92 116.37,468.92 116.25,468.30 C116.13,467.68 115.88,465.62 115.65,464.60 C115.42,463.58 115.30,463.22 114.85,462.20 C114.40,461.18 113.37,459.93 112.95,458.50 C112.53,457.07 112.35,455.22 112.35,453.60 C112.35,451.98 112.63,450.42 112.95,448.80 C113.27,447.18 113.85,445.73 114.25,443.90 C114.65,442.07 115.05,439.43 115.35,437.80 C115.65,436.17 115.90,435.63 116.05,434.10 C116.20,432.57 116.20,429.52 116.25,428.60 C116.30,427.68 116.30,427.68 116.35,428.60Z" fill="#c80c38" stroke="#111" stroke-width="1.0" stroke-linejoin="round"/>
<circle cx="116.30" cy="440.00" r="1.6" fill="#111"/>
<circle cx="114.97" cy="445.00" r="1.6" fill="#111"/>
<circle cx="117.63" cy="445.70" r="1.6" fill="#111"/>
<circle cx="113.94" cy="449.00" r="1.6" fill="#111"/>
<circle cx="116.30" cy="449.70" r="1.6" fill="#111"/>
<circle cx="118.66" cy="448.50" r="1.6" fill="#111"/>
<circle cx="113.44" cy="453.00" r="1.6" fill="#111"/>
<circle cx="116.30" cy="453.70" r="1.6" fill="#111"/>
<circle cx="119.16" cy="452.50" r="1.6" fill="#111"/>
<circle cx="113.78" cy="457.00" r="1.6" fill="#111"/>
<circle cx="116.30" cy="457.70" r="1.6" fill="#111"/>
<circle cx="118.82" cy="456.50" r="1.6" fill="#111"/>
<path d="M129.55,421.30 C129.60,422.42 129.55,426.58 129.75,428.00 C129.95,429.42 130.72,429.20 130.75,429.80 C130.78,430.40 130.05,430.88 129.95,431.60 C129.85,432.32 129.93,433.07 130.15,434.10 C130.37,435.13 130.97,436.38 131.25,437.80 C131.53,439.22 131.53,440.98 131.85,442.60 C132.17,444.22 132.85,446.07 133.15,447.50 C133.45,448.93 133.87,449.97 133.65,451.20 C133.43,452.43 132.35,453.68 131.85,454.90 C131.35,456.12 130.83,457.68 130.65,458.50 C130.47,459.32 130.80,459.38 130.75,459.80 C130.70,460.22 130.45,460.40 130.35,461.00 C130.25,461.60 130.28,462.08 130.15,463.40 C130.02,464.72 129.67,467.98 129.55,468.90 C129.43,469.82 129.57,469.82 129.45,468.90 C129.33,467.98 128.98,464.72 128.85,463.40 C128.72,462.08 128.75,461.60 128.65,461.00 C128.55,460.40 128.30,460.22 128.25,459.80 C128.20,459.38 128.53,459.32 128.35,458.50 C128.17,457.68 127.65,456.12 127.15,454.90 C126.65,453.68 125.57,452.43 125.35,451.20 C125.13,449.97 125.55,448.93 125.85,447.50 C126.15,446.07 126.83,444.22 127.15,442.60 C127.47,440.98 127.47,439.22 127.75,437.80 C128.03,436.38 128.63,435.13 128.85,434.10 C129.07,433.07 129.15,432.32 129.05,431.60 C128.95,430.88 128.22,430.40 128.25,429.80 C128.28,429.20 129.05,429.42 129.25,428.00 C129.45,426.58 129.40,422.42 129.45,421.30 C129.50,420.18 129.50,420.18 129.55,421.30Z" fill="#c80c38" stroke="#111" stroke-width="1.0" stroke-linejoin="round"/>
<circle cx="129.50" cy="438.00" r="1.6" fill="#111"/>
<circle cx="128.05" cy="443.00" r="1.6" fill="#111"/>
<circle cx="130.95" cy="443.70" r="1.6" fill="#111"/>
<circle cx="126.79" cy="448.00" r="1.6" fill="#111"/>
<circle cx="129.50" cy="448.70" r="1.6" fill="#111"/>
<circle cx="132.21" cy="447.50" r="1.6" fill="#111"/>
<circle cx="126.75" cy="452.00" r="1.6" fill="#111"/>
<circle cx="129.50" cy="452.70" r="1.6" fill="#111"/>
<circle cx="132.25" cy="451.50" r="1.6" fill="#111"/>
<circle cx="129.50" cy="429.80" r="1.75" fill="#111"/>
<circle cx="129.50" cy="459.80" r="1.75" fill="#111"/>
<path d="M142.65,423.10 C142.70,423.92 142.52,426.57 142.85,428.00 C143.18,429.43 144.05,430.48 144.65,431.70 C145.25,432.92 146.45,434.08 146.45,435.30 C146.45,436.52 145.05,437.78 144.65,439.00 C144.25,440.22 143.83,441.38 144.05,442.60 C144.27,443.82 145.53,445.07 145.95,446.30 C146.37,447.53 146.65,448.78 146.55,450.00 C146.45,451.22 145.80,452.38 145.35,453.60 C144.90,454.82 144.20,456.27 143.85,457.30 C143.50,458.33 143.45,458.88 143.25,459.80 C143.05,460.72 142.77,462.30 142.65,462.80 C142.53,463.30 142.67,463.30 142.55,462.80 C142.43,462.30 142.15,460.72 141.95,459.80 C141.75,458.88 141.70,458.33 141.35,457.30 C141.00,456.27 140.30,454.82 139.85,453.60 C139.40,452.38 138.75,451.22 138.65,450.00 C138.55,448.78 138.83,447.53 139.25,446.30 C139.67,445.07 140.93,443.82 141.15,442.60 C141.37,441.38 140.95,440.22 140.55,439.00 C140.15,437.78 138.75,436.52 138.75,435.30 C138.75,434.08 139.95,432.92 140.55,431.70 C141.15,430.48 142.02,429.43 142.35,428.00 C142.68,426.57 142.50,423.92 142.55,423.10 C142.60,422.28 142.60,422.28 142.65,423.10Z" fill="#c80c38" stroke="#111" stroke-width="1.0" stroke-linejoin="round"/>
<circle cx="141.41" cy="432.00" r="1.6" fill="#111"/>
<circle cx="143.79" cy="432.70" r="1.6" fill="#111"/>
<circle cx="140.10" cy="436.00" r="1.6" fill="#111"/>
<circle cx="142.60" cy="436.70" r="1.6" fill="#111"/>
<circle cx="145.10" cy="435.50" r="1.6" fill="#111"/>
<circle cx="142.60" cy="441.00" r="1.6" fill="#111"/>
<circle cx="140.41" cy="446.00" r="1.6" fill="#111"/>
<circle cx="142.60" cy="446.70" r="1.6" fill="#111"/>
<circle cx="144.79" cy="445.50" r="1.6" fill="#111"/>
<circle cx="139.83" cy="450.50" r="1.6" fill="#111"/>
<circle cx="142.60" cy="451.20" r="1.6" fill="#111"/>
<circle cx="145.37" cy="450.00" r="1.6" fill="#111"/>
<circle cx="141.02" cy="454.00" r="1.6" fill="#111"/>
<circle cx="144.18" cy="454.70" r="1.6" fill="#111"/>
<path d="M156.05,404.20 C156.10,405.92 156.05,412.37 156.25,414.50 C156.45,416.63 157.22,416.25 157.25,417.00 C157.28,417.75 156.42,417.98 156.45,419.00 C156.48,420.02 157.18,421.40 157.45,423.10 C157.72,424.80 157.73,427.37 158.05,429.20 C158.37,431.03 159.12,432.47 159.35,434.10 C159.58,435.73 159.60,437.37 159.45,439.00 C159.30,440.63 158.53,442.27 158.45,443.90 C158.37,445.53 158.80,447.18 158.95,448.80 C159.10,450.42 159.43,451.98 159.35,453.60 C159.27,455.22 158.87,456.87 158.45,458.50 C158.03,460.13 157.25,461.05 156.85,463.40 C156.45,465.75 156.20,471.07 156.05,472.60 C155.90,474.13 156.10,474.13 155.95,472.60 C155.80,471.07 155.55,465.75 155.15,463.40 C154.75,461.05 153.97,460.13 153.55,458.50 C153.13,456.87 152.73,455.22 152.65,453.60 C152.57,451.98 152.90,450.42 153.05,448.80 C153.20,447.18 153.63,445.53 153.55,443.90 C153.47,442.27 152.70,440.63 152.55,439.00 C152.40,437.37 152.42,435.73 152.65,434.10 C152.88,432.47 153.63,431.03 153.95,429.20 C154.27,427.37 154.28,424.80 154.55,423.10 C154.82,421.40 155.52,420.02 155.55,419.00 C155.58,417.98 154.72,417.75 154.75,417.00 C154.78,416.25 155.55,416.63 155.75,414.50 C155.95,412.37 155.90,405.92 155.95,404.20 C156.00,402.48 156.00,402.48 156.05,404.20Z" fill="#c80c38" stroke="#111" stroke-width="1.0" stroke-linejoin="round"/>
<circle cx="156.00" cy="424.00" r="1.6" fill="#111"/>
<circle cx="153.69" cy="434.00" r="1.6" fill="#111"/>
<circle cx="156.00" cy="434.70" r="1.6" fill="#111"/>
<circle cx="158.31" cy="433.50" r="1.6" fill="#111"/>
<circle cx="153.66" cy="439.50" r="1.6" fill="#111"/>
<circle cx="156.00" cy="440.20" r="1.6" fill="#111"/>
<circle cx="158.34" cy="439.00" r="1.6" fill="#111"/>
<circle cx="154.35" cy="446.00" r="1.6" fill="#111"/>
<circle cx="157.65" cy="446.70" r="1.6" fill="#111"/>
<circle cx="153.79" cy="452.00" r="1.6" fill="#111"/>
<circle cx="156.00" cy="452.70" r="1.6" fill="#111"/>
<circle cx="158.21" cy="451.50" r="1.6" fill="#111"/>
<circle cx="154.10" cy="456.00" r="1.6" fill="#111"/>
<circle cx="157.90" cy="456.70" r="1.6" fill="#111"/>
<circle cx="154.98" cy="429.00" r="1.6" fill="#111"/>
<circle cx="157.02" cy="429.70" r="1.6" fill="#111"/>
<circle cx="156.00" cy="417.00" r="1.75" fill="#111"/>
<path d="M116.50,424.90 V398.50 H156.50 V402.90" fill="none" stroke="#2a2a2a" stroke-width="0.9"/>
<text x="136.15" y="400.10" font-size="6.80" fill="#262626" stroke="#262626" stroke-width="0.18" text-anchor="middle">*</text>
<text x="221.30" y="370.50" font-size="8.50" fill="#2b2b2b" textLength="99.50" lengthAdjust="spacingAndGlyphs">Plasma Effects - ab-meATP</text>
<line x1="211.50" y1="394.60" x2="211.50" y2="478.10" stroke="#1a1a1a" stroke-width="1.0"/>
<line x1="208.90" y1="396.50" x2="211.90" y2="396.50" stroke="#1a1a1a" stroke-width="0.9"/>
<text x="206.10" y="398.49" font-size="6.00" fill="#262626" stroke="#262626" stroke-width="0.18" text-anchor="end" textLength="9.80" lengthAdjust="spacingAndGlyphs">300</text>
<line x1="208.90" y1="416.50" x2="211.90" y2="416.50" stroke="#1a1a1a" stroke-width="0.9"/>
<text x="206.10" y="418.76" font-size="6.00" fill="#262626" stroke="#262626" stroke-width="0.18" text-anchor="end" textLength="9.80" lengthAdjust="spacingAndGlyphs">200</text>
<line x1="208.90" y1="437.50" x2="211.90" y2="437.50" stroke="#1a1a1a" stroke-width="0.9"/>
<text x="206.10" y="439.03" font-size="6.00" fill="#262626" stroke="#262626" stroke-width="0.18" text-anchor="end" textLength="9.80" lengthAdjust="spacingAndGlyphs">100</text>
<line x1="208.90" y1="457.50" x2="211.90" y2="457.50" stroke="#1a1a1a" stroke-width="0.9"/>
<text x="206.10" y="459.30" font-size="6.00" fill="#262626" stroke="#262626" stroke-width="0.18" text-anchor="end" textLength="3.20" lengthAdjust="spacingAndGlyphs">0</text>
<line x1="208.90" y1="477.50" x2="211.90" y2="477.50" stroke="#1a1a1a" stroke-width="0.9"/>
<text x="206.10" y="479.57" font-size="6.00" fill="#262626" stroke="#262626" stroke-width="0.18" text-anchor="end" textLength="13.10" lengthAdjust="spacingAndGlyphs">-100</text>
<line x1="211.40" y1="477.50" x2="330.40" y2="477.50" stroke="#1a1a1a" stroke-width="1.0"/>
<line x1="211.90" y1="457.50" x2="330.90" y2="457.50" stroke="#9a9a9a" stroke-width="0.6"/>
<line x1="220.50" y1="477.60" x2="220.50" y2="480.40" stroke="#1a1a1a" stroke-width="0.9"/>
<text x="222.60" y="483.30" font-size="5.80" fill="#262626" stroke="#262626" stroke-width="0.18" text-anchor="end" textLength="12.60" lengthAdjust="spacingAndGlyphs" transform="rotate(-90 222.60 483.30)">UTX</text>
<line x1="233.50" y1="477.60" x2="233.50" y2="480.40" stroke="#1a1a1a" stroke-width="0.9"/>
<text x="235.87" y="483.30" font-size="5.80" fill="#262626" stroke="#262626" stroke-width="0.18" text-anchor="end" textLength="8.90" lengthAdjust="spacingAndGlyphs" transform="rotate(-90 235.87 483.30)">HC</text>
<line x1="247.50" y1="477.60" x2="247.50" y2="480.40" stroke="#1a1a1a" stroke-width="0.9"/>
<text x="249.14" y="483.30" font-size="5.80" fill="#262626" stroke="#262626" stroke-width="0.18" text-anchor="end" textLength="16.60" lengthAdjust="spacingAndGlyphs" transform="rotate(-90 249.14 483.30)">SS BL</text>
<line x1="260.50" y1="477.60" x2="260.50" y2="480.40" stroke="#1a1a1a" stroke-width="0.9"/>
<text x="262.41" y="483.30" font-size="5.80" fill="#262626" stroke="#262626" stroke-width="0.18" text-anchor="end" textLength="14.60" lengthAdjust="spacingAndGlyphs" transform="rotate(-90 262.41 483.30)">SS IP</text>
<line x1="282.50" y1="477.60" x2="282.50" y2="480.40" stroke="#1a1a1a" stroke-width="0.9"/>
<text x="284.50" y="483.30" font-size="5.80" fill="#262626" stroke="#262626" stroke-width="0.18" text-anchor="end" textLength="12.60" lengthAdjust="spacingAndGlyphs" transform="rotate(-90 284.50 483.30)">UTX</text>
<line x1="295.50" y1="477.60" x2="295.50" y2="480.40" stroke="#1a1a1a" stroke-width="0.9"/>
<text x="297.80" y="483.30" font-size="5.80" fill="#262626" stroke="#262626" stroke-width="0.18" text-anchor="end" textLength="8.90" lengthAdjust="spacingAndGlyphs" transform="rotate(-90 297.80 483.30)">HC</text>
<line x1="309.50" y1="477.60" x2="309.50" y2="480.40" stroke="#1a1a1a" stroke-width="0.9"/>
<text x="311.10" y="483.30" font-size="5.80" fill="#262626" stroke="#262626" stroke-width="0.18" text-anchor="end" textLength="16.60" lengthAdjust="spacingAndGlyphs" transform="rotate(-90 311.10 483.30)">SS BL</text>
<line x1="322.50" y1="477.60" x2="322.50" y2="480.40" stroke="#1a1a1a" stroke-width="0.9"/>
<text x="324.40" y="483.30" font-size="5.80" fill="#262626" stroke="#262626" stroke-width="0.18" text-anchor="end" textLength="14.60" lengthAdjust="spacingAndGlyphs" transform="rotate(-90 324.40 483.30)">SS IP</text>
<text x="271.50" y="508.70" font-size="6.80" fill="#262626" stroke="#262626" stroke-width="0.18" text-anchor="middle" textLength="52.50" lengthAdjust="spacingAndGlyphs">Plasma treatment</text>
<text x="186.30" y="432.60" font-size="7.00" fill="#262626" stroke="#262626" stroke-width="0.18" text-anchor="middle" textLength="110.30" lengthAdjust="spacingAndGlyphs" transform="rotate(-90 186.30 432.60)">Relative calcium flux (% of PBS control)</text>
<rect x="229.70" y="516.00" width="5.30" height="5.30" fill="#2aa8d9"/>
<text x="238.60" y="521.20" font-size="6.80" fill="#262626" stroke="#262626" stroke-width="0.18" textLength="23.20" lengthAdjust="spacingAndGlyphs">HC iSNs</text>
<rect x="277.90" y="516.00" width="5.30" height="5.30" fill="#c80c38"/>
<text x="285.70" y="521.20" font-size="6.80" fill="#262626" stroke="#262626" stroke-width="0.18" textLength="27.40" lengthAdjust="spacingAndGlyphs">SCD iSNs</text>
<path d="M220.95,418.90 C221.00,420.25 220.93,425.37 221.15,427.00 C221.37,428.63 222.25,428.13 222.25,428.70 C222.25,429.27 221.27,429.52 221.15,430.40 C221.03,431.28 221.27,432.40 221.55,434.00 C221.83,435.60 222.58,437.98 222.85,440.00 C223.12,442.02 223.22,444.33 223.15,446.10 C223.08,447.87 222.28,449.08 222.45,450.60 C222.62,452.12 223.97,453.80 224.15,455.20 C224.33,456.60 223.90,457.75 223.55,459.00 C223.20,460.25 222.42,461.57 222.05,462.70 C221.68,463.83 221.53,464.65 221.35,465.80 C221.17,466.95 221.03,468.97 220.95,469.60 C220.87,470.23 220.93,470.23 220.85,469.60 C220.77,468.97 220.63,466.95 220.45,465.80 C220.27,464.65 220.12,463.83 219.75,462.70 C219.38,461.57 218.60,460.25 218.25,459.00 C217.90,457.75 217.47,456.60 217.65,455.20 C217.83,453.80 219.18,452.12 219.35,450.60 C219.52,449.08 218.72,447.87 218.65,446.10 C218.58,444.33 218.68,442.02 218.95,440.00 C219.22,437.98 219.97,435.60 220.25,434.00 C220.53,432.40 220.77,431.28 220.65,430.40 C220.53,429.52 219.55,429.27 219.55,428.70 C219.55,428.13 220.43,428.63 220.65,427.00 C220.87,425.37 220.80,420.25 220.85,418.90 C220.90,417.55 220.90,417.55 220.95,418.90Z" fill="#2aa8d9" stroke="#111" stroke-width="1.0" stroke-linejoin="round"/>
<circle cx="220.90" cy="437.00" r="1.6" fill="#111"/>
<circle cx="219.81" cy="443.00" r="1.6" fill="#111"/>
<circle cx="221.99" cy="443.70" r="1.6" fill="#111"/>
<circle cx="219.96" cy="448.00" r="1.6" fill="#111"/>
<circle cx="221.84" cy="448.70" r="1.6" fill="#111"/>
<circle cx="219.10" cy="454.00" r="1.6" fill="#111"/>
<circle cx="222.70" cy="454.70" r="1.6" fill="#111"/>
<circle cx="218.94" cy="457.00" r="1.6" fill="#111"/>
<circle cx="222.86" cy="457.70" r="1.6" fill="#111"/>
<circle cx="220.90" cy="428.70" r="1.75" fill="#111"/>
<path d="M234.25,427.20 C234.30,428.00 234.27,431.00 234.45,432.00 C234.63,433.00 235.35,432.78 235.35,433.20 C235.35,433.62 234.57,433.87 234.45,434.50 C234.33,435.13 234.62,436.08 234.65,437.00 C234.68,437.92 234.52,439.23 234.65,440.00 C234.78,440.77 235.43,441.07 235.45,441.60 C235.47,442.13 234.68,442.20 234.75,443.20 C234.82,444.20 235.45,446.10 235.85,447.60 C236.25,449.10 236.85,450.82 237.15,452.20 C237.45,453.58 237.75,454.77 237.65,455.90 C237.55,457.03 236.98,457.98 236.55,459.00 C236.12,460.02 235.43,461.00 235.05,462.00 C234.67,463.00 234.40,464.50 234.25,465.00 C234.10,465.50 234.30,465.50 234.15,465.00 C234.00,464.50 233.73,463.00 233.35,462.00 C232.97,461.00 232.28,460.02 231.85,459.00 C231.42,457.98 230.85,457.03 230.75,455.90 C230.65,454.77 230.95,453.58 231.25,452.20 C231.55,450.82 232.15,449.10 232.55,447.60 C232.95,446.10 233.58,444.20 233.65,443.20 C233.72,442.20 232.93,442.13 232.95,441.60 C232.97,441.07 233.62,440.77 233.75,440.00 C233.88,439.23 233.72,437.92 233.75,437.00 C233.78,436.08 234.07,435.13 233.95,434.50 C233.83,433.87 233.05,433.62 233.05,433.20 C233.05,432.78 233.77,433.00 233.95,432.00 C234.13,431.00 234.10,428.00 234.15,427.20 C234.20,426.40 234.20,426.40 234.25,427.20Z" fill="#2aa8d9" stroke="#111" stroke-width="1.0" stroke-linejoin="round"/>
<circle cx="234.20" cy="448.00" r="1.6" fill="#111"/>
<circle cx="232.32" cy="452.00" r="1.6" fill="#111"/>
<circle cx="236.08" cy="452.70" r="1.6" fill="#111"/>
<circle cx="231.81" cy="455.50" r="1.6" fill="#111"/>
<circle cx="234.20" cy="456.20" r="1.6" fill="#111"/>
<circle cx="236.59" cy="455.00" r="1.6" fill="#111"/>
<circle cx="232.68" cy="458.50" r="1.6" fill="#111"/>
<circle cx="235.72" cy="459.20" r="1.6" fill="#111"/>
<circle cx="234.20" cy="433.20" r="1.75" fill="#111"/>
<circle cx="234.20" cy="441.60" r="1.75" fill="#111"/>
<path d="M247.55,406.80 C247.60,408.82 247.62,416.13 247.75,418.90 C247.88,421.67 248.15,421.47 248.35,423.40 C248.55,425.33 248.77,428.98 248.95,430.50 C249.13,432.02 249.45,431.83 249.45,432.50 C249.45,433.17 249.05,433.50 248.95,434.50 C248.85,435.50 248.62,436.82 248.85,438.50 C249.08,440.18 249.90,442.58 250.35,444.60 C250.80,446.62 251.35,448.58 251.55,450.60 C251.75,452.62 251.87,454.93 251.55,456.70 C251.23,458.47 250.18,459.68 249.65,461.20 C249.12,462.72 248.70,464.28 248.35,465.80 C248.00,467.32 247.70,469.55 247.55,470.30 C247.40,471.05 247.60,471.05 247.45,470.30 C247.30,469.55 247.00,467.32 246.65,465.80 C246.30,464.28 245.88,462.72 245.35,461.20 C244.82,459.68 243.77,458.47 243.45,456.70 C243.13,454.93 243.25,452.62 243.45,450.60 C243.65,448.58 244.20,446.62 244.65,444.60 C245.10,442.58 245.92,440.18 246.15,438.50 C246.38,436.82 246.15,435.50 246.05,434.50 C245.95,433.50 245.55,433.17 245.55,432.50 C245.55,431.83 245.87,432.02 246.05,430.50 C246.23,428.98 246.45,425.33 246.65,423.40 C246.85,421.47 247.12,421.67 247.25,418.90 C247.38,416.13 247.40,408.82 247.45,406.80 C247.50,404.78 247.50,404.78 247.55,406.80Z" fill="#2aa8d9" stroke="#111" stroke-width="1.0" stroke-linejoin="round"/>
<circle cx="246.55" cy="441.00" r="1.6" fill="#111"/>
<circle cx="248.45" cy="441.70" r="1.6" fill="#111"/>
<circle cx="245.18" cy="447.00" r="1.6" fill="#111"/>
<circle cx="247.50" cy="447.70" r="1.6" fill="#111"/>
<circle cx="249.82" cy="446.50" r="1.6" fill="#111"/>
<circle cx="244.46" cy="451.00" r="1.6" fill="#111"/>
<circle cx="247.50" cy="451.70" r="1.6" fill="#111"/>
<circle cx="250.54" cy="450.50" r="1.6" fill="#111"/>
<circle cx="244.46" cy="455.00" r="1.6" fill="#111"/>
<circle cx="247.50" cy="455.70" r="1.6" fill="#111"/>
<circle cx="250.54" cy="454.50" r="1.6" fill="#111"/>
<circle cx="247.50" cy="432.50" r="1.75" fill="#111"/>
<path d="M261.15,396.20 C261.20,398.72 261.10,407.52 261.35,411.30 C261.60,415.08 262.18,416.38 262.65,418.90 C263.12,421.42 263.77,423.88 264.15,426.40 C264.53,428.92 264.95,431.98 264.95,434.00 C264.95,436.02 264.42,436.73 264.15,438.50 C263.88,440.27 263.32,442.58 263.35,444.60 C263.38,446.62 264.08,448.83 264.35,450.60 C264.62,452.37 265.12,453.43 264.95,455.20 C264.78,456.97 263.85,459.18 263.35,461.20 C262.85,463.22 262.32,465.03 261.95,467.30 C261.58,469.57 261.30,473.55 261.15,474.80 C261.00,476.05 261.20,476.05 261.05,474.80 C260.90,473.55 260.62,469.57 260.25,467.30 C259.88,465.03 259.35,463.22 258.85,461.20 C258.35,459.18 257.42,456.97 257.25,455.20 C257.08,453.43 257.58,452.37 257.85,450.60 C258.12,448.83 258.82,446.62 258.85,444.60 C258.88,442.58 258.32,440.27 258.05,438.50 C257.78,436.73 257.25,436.02 257.25,434.00 C257.25,431.98 257.67,428.92 258.05,426.40 C258.43,423.88 259.08,421.42 259.55,418.90 C260.02,416.38 260.60,415.08 260.85,411.30 C261.10,407.52 261.00,398.72 261.05,396.20 C261.10,393.68 261.10,393.68 261.15,396.20Z" fill="#2aa8d9" stroke="#111" stroke-width="1.0" stroke-linejoin="round"/>
<circle cx="261.10" cy="420.00" r="1.6" fill="#111"/>
<circle cx="258.26" cy="434.00" r="1.6" fill="#111"/>
<circle cx="261.10" cy="434.70" r="1.6" fill="#111"/>
<circle cx="263.94" cy="433.50" r="1.6" fill="#111"/>
<circle cx="258.79" cy="437.00" r="1.6" fill="#111"/>
<circle cx="261.10" cy="437.70" r="1.6" fill="#111"/>
<circle cx="263.41" cy="436.50" r="1.6" fill="#111"/>
<circle cx="258.68" cy="452.00" r="1.6" fill="#111"/>
<circle cx="261.10" cy="452.70" r="1.6" fill="#111"/>
<circle cx="263.52" cy="451.50" r="1.6" fill="#111"/>
<circle cx="258.29" cy="455.00" r="1.6" fill="#111"/>
<circle cx="261.10" cy="455.70" r="1.6" fill="#111"/>
<circle cx="263.91" cy="454.50" r="1.6" fill="#111"/>
<circle cx="259.00" cy="427.00" r="1.6" fill="#111"/>
<circle cx="263.20" cy="427.70" r="1.6" fill="#111"/>
<circle cx="259.85" cy="444.50" r="1.6" fill="#111"/>
<circle cx="262.35" cy="445.20" r="1.6" fill="#111"/>
<path d="M282.95,409.00 C283.00,410.73 282.95,417.35 283.15,419.40 C283.35,421.45 284.15,420.67 284.15,421.30 C284.15,421.93 283.28,422.50 283.15,423.20 C283.02,423.90 283.28,423.68 283.35,425.50 C283.42,427.32 283.38,431.45 283.55,434.10 C283.72,436.75 284.00,439.17 284.35,441.40 C284.70,443.63 285.28,445.67 285.65,447.50 C286.02,449.33 286.35,450.97 286.55,452.40 C286.75,453.83 287.00,454.87 286.85,456.10 C286.70,457.33 286.17,458.58 285.65,459.80 C285.13,461.02 284.20,461.78 283.75,463.40 C283.30,465.02 283.10,468.48 282.95,469.50 C282.80,470.52 283.00,470.52 282.85,469.50 C282.70,468.48 282.50,465.02 282.05,463.40 C281.60,461.78 280.67,461.02 280.15,459.80 C279.63,458.58 279.10,457.33 278.95,456.10 C278.80,454.87 279.05,453.83 279.25,452.40 C279.45,450.97 279.78,449.33 280.15,447.50 C280.52,445.67 281.10,443.63 281.45,441.40 C281.80,439.17 282.08,436.75 282.25,434.10 C282.42,431.45 282.38,427.32 282.45,425.50 C282.52,423.68 282.78,423.90 282.65,423.20 C282.52,422.50 281.65,421.93 281.65,421.30 C281.65,420.67 282.45,421.45 282.65,419.40 C282.85,417.35 282.80,410.73 282.85,409.00 C282.90,407.27 282.90,407.27 282.95,409.00Z" fill="#c80c38" stroke="#111" stroke-width="1.0" stroke-linejoin="round"/>
<circle cx="282.90" cy="437.00" r="1.6" fill="#111"/>
<circle cx="282.90" cy="443.00" r="1.6" fill="#111"/>
<circle cx="280.98" cy="448.50" r="1.6" fill="#111"/>
<circle cx="284.82" cy="449.20" r="1.6" fill="#111"/>
<circle cx="280.13" cy="454.00" r="1.6" fill="#111"/>
<circle cx="282.90" cy="454.70" r="1.6" fill="#111"/>
<circle cx="285.67" cy="453.50" r="1.6" fill="#111"/>
<circle cx="280.25" cy="457.00" r="1.6" fill="#111"/>
<circle cx="282.90" cy="457.70" r="1.6" fill="#111"/>
<circle cx="285.55" cy="456.50" r="1.6" fill="#111"/>
<circle cx="282.90" cy="421.30" r="1.75" fill="#111"/>
<path d="M296.45,422.50 C296.50,423.22 296.43,425.48 296.65,426.80 C296.87,428.12 297.50,428.98 297.75,430.40 C298.00,431.82 298.03,433.47 298.15,435.30 C298.27,437.13 298.17,439.37 298.45,441.40 C298.73,443.43 299.52,445.87 299.85,447.50 C300.18,449.13 300.52,449.97 300.45,451.20 C300.38,452.43 299.98,453.68 299.45,454.90 C298.92,456.12 297.75,457.18 297.25,458.50 C296.75,459.82 296.60,462.08 296.45,462.80 C296.30,463.52 296.50,463.52 296.35,462.80 C296.20,462.08 296.05,459.82 295.55,458.50 C295.05,457.18 293.88,456.12 293.35,454.90 C292.82,453.68 292.42,452.43 292.35,451.20 C292.28,449.97 292.62,449.13 292.95,447.50 C293.28,445.87 294.07,443.43 294.35,441.40 C294.63,439.37 294.53,437.13 294.65,435.30 C294.77,433.47 294.80,431.82 295.05,430.40 C295.30,428.98 295.93,428.12 296.15,426.80 C296.37,425.48 296.30,423.22 296.35,422.50 C296.40,421.78 296.40,421.78 296.45,422.50Z" fill="#c80c38" stroke="#111" stroke-width="1.0" stroke-linejoin="round"/>
<circle cx="296.40" cy="431.00" r="1.6" fill="#111"/>
<circle cx="296.40" cy="436.00" r="1.6" fill="#111"/>
<circle cx="295.38" cy="441.00" r="1.6" fill="#111"/>
<circle cx="297.42" cy="441.70" r="1.6" fill="#111"/>
<circle cx="294.07" cy="447.00" r="1.6" fill="#111"/>
<circle cx="296.40" cy="447.70" r="1.6" fill="#111"/>
<circle cx="298.73" cy="446.50" r="1.6" fill="#111"/>
<circle cx="293.39" cy="451.00" r="1.6" fill="#111"/>
<circle cx="296.40" cy="451.70" r="1.6" fill="#111"/>
<circle cx="299.41" cy="450.50" r="1.6" fill="#111"/>
<circle cx="294.12" cy="454.00" r="1.6" fill="#111"/>
<circle cx="296.40" cy="454.70" r="1.6" fill="#111"/>
<circle cx="298.68" cy="453.50" r="1.6" fill="#111"/>
<path d="M309.65,409.70 C309.70,411.73 309.67,419.57 309.85,421.90 C310.03,424.23 310.75,423.10 310.75,423.70 C310.75,424.30 309.97,424.78 309.85,425.50 C309.73,426.22 309.85,426.97 310.05,428.00 C310.25,429.03 311.02,430.53 311.05,431.70 C311.08,432.87 310.33,433.98 310.25,435.00 C310.17,436.02 310.27,436.12 310.55,437.80 C310.83,439.48 311.50,443.07 311.95,445.10 C312.40,447.13 312.98,448.58 313.25,450.00 C313.52,451.42 313.65,452.38 313.55,453.60 C313.45,454.82 313.12,456.07 312.65,457.30 C312.18,458.53 311.25,459.17 310.75,461.00 C310.25,462.83 309.85,467.08 309.65,468.30 C309.45,469.52 309.75,469.52 309.55,468.30 C309.35,467.08 308.95,462.83 308.45,461.00 C307.95,459.17 307.02,458.53 306.55,457.30 C306.08,456.07 305.75,454.82 305.65,453.60 C305.55,452.38 305.68,451.42 305.95,450.00 C306.22,448.58 306.80,447.13 307.25,445.10 C307.70,443.07 308.37,439.48 308.65,437.80 C308.93,436.12 309.03,436.02 308.95,435.00 C308.87,433.98 308.12,432.87 308.15,431.70 C308.18,430.53 308.95,429.03 309.15,428.00 C309.35,426.97 309.47,426.22 309.35,425.50 C309.23,424.78 308.45,424.30 308.45,423.70 C308.45,423.10 309.17,424.23 309.35,421.90 C309.53,419.57 309.50,411.73 309.55,409.70 C309.60,407.67 309.60,407.67 309.65,409.70Z" fill="#c80c38" stroke="#111" stroke-width="1.0" stroke-linejoin="round"/>
<circle cx="308.47" cy="444.00" r="1.6" fill="#111"/>
<circle cx="310.73" cy="444.70" r="1.6" fill="#111"/>
<circle cx="306.96" cy="450.00" r="1.6" fill="#111"/>
<circle cx="309.60" cy="450.70" r="1.6" fill="#111"/>
<circle cx="312.24" cy="449.50" r="1.6" fill="#111"/>
<circle cx="306.76" cy="454.00" r="1.6" fill="#111"/>
<circle cx="309.60" cy="454.70" r="1.6" fill="#111"/>
<circle cx="312.44" cy="453.50" r="1.6" fill="#111"/>
<circle cx="309.60" cy="423.70" r="1.75" fill="#111"/>
<circle cx="309.60" cy="431.70" r="1.75" fill="#111"/>
<path d="M322.95,407.80 C323.00,409.13 322.83,413.87 323.15,415.80 C323.47,417.73 324.37,417.78 324.85,419.40 C325.33,421.02 325.75,423.45 326.05,425.50 C326.35,427.55 326.60,429.65 326.65,431.70 C326.70,433.75 326.35,435.77 326.35,437.80 C326.35,439.83 326.60,441.87 326.65,443.90 C326.70,445.93 326.80,447.97 326.65,450.00 C326.50,452.03 326.17,454.27 325.75,456.10 C325.33,457.93 324.62,459.17 324.15,461.00 C323.68,462.83 323.17,466.08 322.95,467.10 C322.73,468.12 323.07,468.12 322.85,467.10 C322.63,466.08 322.12,462.83 321.65,461.00 C321.18,459.17 320.47,457.93 320.05,456.10 C319.63,454.27 319.30,452.03 319.15,450.00 C319.00,447.97 319.10,445.93 319.15,443.90 C319.20,441.87 319.45,439.83 319.45,437.80 C319.45,435.77 319.10,433.75 319.15,431.70 C319.20,429.65 319.45,427.55 319.75,425.50 C320.05,423.45 320.47,421.02 320.95,419.40 C321.43,417.78 322.33,417.73 322.65,415.80 C322.97,413.87 322.80,409.13 322.85,407.80 C322.90,406.47 322.90,406.47 322.95,407.80Z" fill="#c80c38" stroke="#111" stroke-width="1.0" stroke-linejoin="round"/>
<circle cx="321.65" cy="421.00" r="1.6" fill="#111"/>
<circle cx="324.15" cy="421.70" r="1.6" fill="#111"/>
<circle cx="320.23" cy="431.00" r="1.6" fill="#111"/>
<circle cx="322.90" cy="431.70" r="1.6" fill="#111"/>
<circle cx="325.57" cy="430.50" r="1.6" fill="#111"/>
<circle cx="320.35" cy="440.00" r="1.6" fill="#111"/>
<circle cx="322.90" cy="440.70" r="1.6" fill="#111"/>
<circle cx="325.45" cy="439.50" r="1.6" fill="#111"/>
<circle cx="320.16" cy="448.00" r="1.6" fill="#111"/>
<circle cx="322.90" cy="448.70" r="1.6" fill="#111"/>
<circle cx="325.64" cy="447.50" r="1.6" fill="#111"/>
<circle cx="320.90" cy="455.00" r="1.6" fill="#111"/>
<circle cx="324.90" cy="455.70" r="1.6" fill="#111"/>
<path d="M220.50,415.10 V381.50 H261.50 V386.80" fill="none" stroke="#2a2a2a" stroke-width="0.9"/>
<text x="241.00" y="382.20" font-size="6.80" fill="#262626" stroke="#262626" stroke-width="0.18" text-anchor="middle">*</text>
<path d="M234.50,423.40 V390.50 H261.50 V393.90" fill="none" stroke="#2a2a2a" stroke-width="0.9"/>
<text x="247.65" y="391.30" font-size="6.80" fill="#262626" stroke="#262626" stroke-width="0.18" text-anchor="middle">**</text>
<text x="377.70" y="370.50" font-size="8.50" fill="#2b2b2b" textLength="122.30" lengthAdjust="spacingAndGlyphs">Plasma Effects - 10uM Capsaicin</text>
<line x1="379.50" y1="394.60" x2="379.50" y2="478.10" stroke="#1a1a1a" stroke-width="1.0"/>
<line x1="376.40" y1="396.50" x2="379.40" y2="396.50" stroke="#1a1a1a" stroke-width="0.9"/>
<text x="373.60" y="398.49" font-size="6.00" fill="#262626" stroke="#262626" stroke-width="0.18" text-anchor="end" textLength="9.80" lengthAdjust="spacingAndGlyphs">300</text>
<line x1="376.40" y1="416.50" x2="379.40" y2="416.50" stroke="#1a1a1a" stroke-width="0.9"/>
<text x="373.60" y="418.76" font-size="6.00" fill="#262626" stroke="#262626" stroke-width="0.18" text-anchor="end" textLength="9.80" lengthAdjust="spacingAndGlyphs">200</text>
<line x1="376.40" y1="437.50" x2="379.40" y2="437.50" stroke="#1a1a1a" stroke-width="0.9"/>
<text x="373.60" y="439.03" font-size="6.00" fill="#262626" stroke="#262626" stroke-width="0.18" text-anchor="end" textLength="9.80" lengthAdjust="spacingAndGlyphs">100</text>
<line x1="376.40" y1="457.50" x2="379.40" y2="457.50" stroke="#1a1a1a" stroke-width="0.9"/>
<text x="373.60" y="459.30" font-size="6.00" fill="#262626" stroke="#262626" stroke-width="0.18" text-anchor="end" textLength="3.20" lengthAdjust="spacingAndGlyphs">0</text>
<line x1="376.40" y1="477.50" x2="379.40" y2="477.50" stroke="#1a1a1a" stroke-width="0.9"/>
<text x="373.60" y="479.57" font-size="6.00" fill="#262626" stroke="#262626" stroke-width="0.18" text-anchor="end" textLength="13.10" lengthAdjust="spacingAndGlyphs">-100</text>
<line x1="378.90" y1="477.50" x2="497.90" y2="477.50" stroke="#1a1a1a" stroke-width="1.0"/>
<line x1="379.40" y1="457.50" x2="498.40" y2="457.50" stroke="#9a9a9a" stroke-width="0.6"/>
<line x1="388.50" y1="477.60" x2="388.50" y2="480.40" stroke="#1a1a1a" stroke-width="0.9"/>
<text x="390.10" y="483.30" font-size="5.80" fill="#262626" stroke="#262626" stroke-width="0.18" text-anchor="end" textLength="12.60" lengthAdjust="spacingAndGlyphs" transform="rotate(-90 390.10 483.30)">UTX</text>
<line x1="401.50" y1="477.60" x2="401.50" y2="480.40" stroke="#1a1a1a" stroke-width="0.9"/>
<text x="403.37" y="483.30" font-size="5.80" fill="#262626" stroke="#262626" stroke-width="0.18" text-anchor="end" textLength="8.90" lengthAdjust="spacingAndGlyphs" transform="rotate(-90 403.37 483.30)">HC</text>
<line x1="414.50" y1="477.60" x2="414.50" y2="480.40" stroke="#1a1a1a" stroke-width="0.9"/>
<text x="416.64" y="483.30" font-size="5.80" fill="#262626" stroke="#262626" stroke-width="0.18" text-anchor="end" textLength="16.60" lengthAdjust="spacingAndGlyphs" transform="rotate(-90 416.64 483.30)">SS BL</text>
<line x1="427.50" y1="477.60" x2="427.50" y2="480.40" stroke="#1a1a1a" stroke-width="0.9"/>
<text x="429.91" y="483.30" font-size="5.80" fill="#262626" stroke="#262626" stroke-width="0.18" text-anchor="end" textLength="14.60" lengthAdjust="spacingAndGlyphs" transform="rotate(-90 429.91 483.30)">SS IP</text>
<line x1="450.50" y1="477.60" x2="450.50" y2="480.40" stroke="#1a1a1a" stroke-width="0.9"/>
<text x="452.00" y="483.30" font-size="5.80" fill="#262626" stroke="#262626" stroke-width="0.18" text-anchor="end" textLength="12.60" lengthAdjust="spacingAndGlyphs" transform="rotate(-90 452.00 483.30)">UTX</text>
<line x1="463.50" y1="477.60" x2="463.50" y2="480.40" stroke="#1a1a1a" stroke-width="0.9"/>
<text x="465.30" y="483.30" font-size="5.80" fill="#262626" stroke="#262626" stroke-width="0.18" text-anchor="end" textLength="8.90" lengthAdjust="spacingAndGlyphs" transform="rotate(-90 465.30 483.30)">HC</text>
<line x1="476.50" y1="477.60" x2="476.50" y2="480.40" stroke="#1a1a1a" stroke-width="0.9"/>
<text x="478.60" y="483.30" font-size="5.80" fill="#262626" stroke="#262626" stroke-width="0.18" text-anchor="end" textLength="16.60" lengthAdjust="spacingAndGlyphs" transform="rotate(-90 478.60 483.30)">SS BL</text>
<line x1="489.50" y1="477.60" x2="489.50" y2="480.40" stroke="#1a1a1a" stroke-width="0.9"/>
<text x="491.90" y="483.30" font-size="5.80" fill="#262626" stroke="#262626" stroke-width="0.18" text-anchor="end" textLength="14.60" lengthAdjust="spacingAndGlyphs" transform="rotate(-90 491.90 483.30)">SS IP</text>
<text x="439.00" y="508.70" font-size="6.80" fill="#262626" stroke="#262626" stroke-width="0.18" text-anchor="middle" textLength="52.50" lengthAdjust="spacingAndGlyphs">Plasma treatment</text>
<text x="353.20" y="432.60" font-size="7.00" fill="#262626" stroke="#262626" stroke-width="0.18" text-anchor="middle" textLength="110.30" lengthAdjust="spacingAndGlyphs" transform="rotate(-90 353.20 432.60)">Relative calcium flux (% of PBS control)</text>
<rect x="397.20" y="516.00" width="5.30" height="5.30" fill="#2aa8d9"/>
<text x="406.10" y="521.20" font-size="6.80" fill="#262626" stroke="#262626" stroke-width="0.18" textLength="23.20" lengthAdjust="spacingAndGlyphs">HC iSNs</text>
<rect x="445.40" y="516.00" width="5.30" height="5.30" fill="#c80c38"/>
<text x="453.20" y="521.20" font-size="6.80" fill="#262626" stroke="#262626" stroke-width="0.18" textLength="27.40" lengthAdjust="spacingAndGlyphs">SCD iSNs</text>
<path d="M387.65,441.20 C387.77,441.92 388.05,444.55 388.25,445.50 C388.45,446.45 388.85,446.43 388.85,446.90 C388.85,447.37 388.35,447.78 388.25,448.30 C388.15,448.82 387.93,449.28 388.25,450.00 C388.57,450.72 389.65,451.73 390.15,452.60 C390.65,453.47 391.17,454.33 391.25,455.20 C391.33,456.07 391.10,457.03 390.65,457.80 C390.20,458.57 389.05,458.93 388.55,459.80 C388.05,460.67 387.82,462.47 387.65,463.00 C387.48,463.53 387.72,463.53 387.55,463.00 C387.38,462.47 387.15,460.67 386.65,459.80 C386.15,458.93 385.00,458.57 384.55,457.80 C384.10,457.03 383.87,456.07 383.95,455.20 C384.03,454.33 384.55,453.47 385.05,452.60 C385.55,451.73 386.63,450.72 386.95,450.00 C387.27,449.28 387.05,448.82 386.95,448.30 C386.85,447.78 386.35,447.37 386.35,446.90 C386.35,446.43 386.75,446.45 386.95,445.50 C387.15,444.55 387.43,441.92 387.55,441.20 C387.67,440.48 387.53,440.48 387.65,441.20Z" fill="#2aa8d9" stroke="#111" stroke-width="1.0" stroke-linejoin="round"/>
<circle cx="386.13" cy="452.50" r="1.6" fill="#111"/>
<circle cx="389.07" cy="453.20" r="1.6" fill="#111"/>
<circle cx="385.03" cy="455.50" r="1.6" fill="#111"/>
<circle cx="387.60" cy="456.20" r="1.6" fill="#111"/>
<circle cx="390.17" cy="455.00" r="1.6" fill="#111"/>
<circle cx="385.77" cy="458.00" r="1.6" fill="#111"/>
<circle cx="389.43" cy="458.70" r="1.6" fill="#111"/>
<circle cx="387.60" cy="446.90" r="1.75" fill="#111"/>
<path d="M401.35,445.80 C401.52,446.15 401.62,447.28 402.25,447.90 C402.88,448.52 404.77,448.98 405.15,449.50 C405.53,450.02 405.08,450.40 404.55,451.00 C404.02,451.60 402.07,452.40 401.95,453.10 C401.83,453.80 403.60,454.52 403.85,455.20 C404.10,455.88 403.72,456.60 403.45,457.20 C403.18,457.80 402.60,458.27 402.25,458.80 C401.90,459.33 401.52,460.13 401.35,460.40 C401.18,460.67 401.42,460.67 401.25,460.40 C401.08,460.13 400.70,459.33 400.35,458.80 C400.00,458.27 399.42,457.80 399.15,457.20 C398.88,456.60 398.50,455.88 398.75,455.20 C399.00,454.52 400.77,453.80 400.65,453.10 C400.53,452.40 398.58,451.60 398.05,451.00 C397.52,450.40 397.07,450.02 397.45,449.50 C397.83,448.98 399.72,448.52 400.35,447.90 C400.98,447.28 401.08,446.15 401.25,445.80 C401.42,445.45 401.18,445.45 401.35,445.80Z" fill="#2aa8d9" stroke="#111" stroke-width="1.0" stroke-linejoin="round"/>
<circle cx="400.27" cy="448.50" r="1.6" fill="#111"/>
<circle cx="402.33" cy="449.20" r="1.6" fill="#111"/>
<circle cx="398.46" cy="449.50" r="1.6" fill="#111"/>
<circle cx="401.30" cy="450.20" r="1.6" fill="#111"/>
<circle cx="404.14" cy="449.00" r="1.6" fill="#111"/>
<circle cx="399.06" cy="451.00" r="1.6" fill="#111"/>
<circle cx="401.30" cy="451.70" r="1.6" fill="#111"/>
<circle cx="403.54" cy="450.50" r="1.6" fill="#111"/>
<circle cx="400.30" cy="452.00" r="1.6" fill="#111"/>
<circle cx="402.30" cy="452.70" r="1.6" fill="#111"/>
<circle cx="399.94" cy="455.00" r="1.6" fill="#111"/>
<circle cx="402.66" cy="455.70" r="1.6" fill="#111"/>
<circle cx="399.92" cy="456.00" r="1.6" fill="#111"/>
<circle cx="402.68" cy="456.70" r="1.6" fill="#111"/>
<circle cx="400.12" cy="457.00" r="1.6" fill="#111"/>
<circle cx="402.48" cy="457.70" r="1.6" fill="#111"/>
<path d="M414.35,443.20 C414.55,443.63 414.92,445.02 415.45,445.80 C415.98,446.58 417.07,447.12 417.55,447.90 C418.03,448.68 418.47,449.63 418.35,450.50 C418.23,451.37 417.20,452.23 416.85,453.10 C416.50,453.97 416.52,454.92 416.25,455.70 C415.98,456.48 415.57,457.20 415.25,457.80 C414.93,458.40 414.52,459.05 414.35,459.30 C414.18,459.55 414.42,459.55 414.25,459.30 C414.08,459.05 413.67,458.40 413.35,457.80 C413.03,457.20 412.62,456.48 412.35,455.70 C412.08,454.92 412.10,453.97 411.75,453.10 C411.40,452.23 410.37,451.37 410.25,450.50 C410.13,449.63 410.57,448.68 411.05,447.90 C411.53,447.12 412.62,446.58 413.15,445.80 C413.68,445.02 414.05,443.63 414.25,443.20 C414.45,442.77 414.15,442.77 414.35,443.20Z" fill="#2aa8d9" stroke="#111" stroke-width="1.0" stroke-linejoin="round"/>
<circle cx="414.30" cy="445.50" r="1.6" fill="#111"/>
<circle cx="412.96" cy="447.00" r="1.6" fill="#111"/>
<circle cx="415.64" cy="447.70" r="1.6" fill="#111"/>
<circle cx="411.88" cy="448.50" r="1.6" fill="#111"/>
<circle cx="414.30" cy="449.20" r="1.6" fill="#111"/>
<circle cx="416.72" cy="448.00" r="1.6" fill="#111"/>
<circle cx="411.41" cy="450.00" r="1.6" fill="#111"/>
<circle cx="414.30" cy="450.70" r="1.6" fill="#111"/>
<circle cx="417.19" cy="449.50" r="1.6" fill="#111"/>
<circle cx="411.84" cy="451.50" r="1.6" fill="#111"/>
<circle cx="414.30" cy="452.20" r="1.6" fill="#111"/>
<circle cx="416.76" cy="451.00" r="1.6" fill="#111"/>
<circle cx="412.70" cy="453.00" r="1.6" fill="#111"/>
<circle cx="415.90" cy="453.70" r="1.6" fill="#111"/>
<circle cx="413.08" cy="454.50" r="1.6" fill="#111"/>
<circle cx="415.52" cy="455.20" r="1.6" fill="#111"/>
<circle cx="414.30" cy="456.00" r="1.6" fill="#111"/>
<path d="M427.85,430.20 C427.90,431.08 427.83,434.37 428.05,435.50 C428.27,436.63 429.15,436.50 429.15,437.00 C429.15,437.50 428.17,437.80 428.05,438.50 C427.93,439.20 428.33,439.90 428.45,441.20 C428.57,442.50 428.40,444.83 428.75,446.30 C429.10,447.77 430.07,448.95 430.55,450.00 C431.03,451.05 431.47,451.73 431.65,452.60 C431.83,453.47 431.83,454.33 431.65,455.20 C431.47,456.07 431.03,456.93 430.55,457.80 C430.07,458.67 429.20,459.53 428.75,460.40 C428.30,461.27 428.02,462.57 427.85,463.00 C427.68,463.43 427.92,463.43 427.75,463.00 C427.58,462.57 427.30,461.27 426.85,460.40 C426.40,459.53 425.53,458.67 425.05,457.80 C424.57,456.93 424.13,456.07 423.95,455.20 C423.77,454.33 423.77,453.47 423.95,452.60 C424.13,451.73 424.57,451.05 425.05,450.00 C425.53,448.95 426.50,447.77 426.85,446.30 C427.20,444.83 427.03,442.50 427.15,441.20 C427.27,439.90 427.67,439.20 427.55,438.50 C427.43,437.80 426.45,437.50 426.45,437.00 C426.45,436.50 427.33,436.63 427.55,435.50 C427.77,434.37 427.70,431.08 427.75,430.20 C427.80,429.32 427.80,429.32 427.85,430.20Z" fill="#2aa8d9" stroke="#111" stroke-width="1.0" stroke-linejoin="round"/>
<circle cx="427.80" cy="447.00" r="1.6" fill="#111"/>
<circle cx="426.06" cy="450.00" r="1.6" fill="#111"/>
<circle cx="429.54" cy="450.70" r="1.6" fill="#111"/>
<circle cx="424.96" cy="453.00" r="1.6" fill="#111"/>
<circle cx="427.80" cy="453.70" r="1.6" fill="#111"/>
<circle cx="430.64" cy="452.50" r="1.6" fill="#111"/>
<circle cx="425.30" cy="456.00" r="1.6" fill="#111"/>
<circle cx="427.80" cy="456.70" r="1.6" fill="#111"/>
<circle cx="430.30" cy="455.50" r="1.6" fill="#111"/>
<circle cx="427.80" cy="437.00" r="1.75" fill="#111"/>
<path d="M449.65,445.70 C450.07,446.12 451.45,447.28 452.05,448.20 C452.65,449.12 453.07,450.18 453.25,451.20 C453.43,452.22 453.35,453.38 453.15,454.30 C452.95,455.22 452.53,455.88 452.05,456.70 C451.57,457.52 450.65,458.58 450.25,459.20 C449.85,459.82 449.77,460.20 449.65,460.40 C449.53,460.60 449.67,460.60 449.55,460.40 C449.43,460.20 449.35,459.82 448.95,459.20 C448.55,458.58 447.63,457.52 447.15,456.70 C446.67,455.88 446.25,455.22 446.05,454.30 C445.85,453.38 445.77,452.22 445.95,451.20 C446.13,450.18 446.55,449.12 447.15,448.20 C447.75,447.28 449.13,446.12 449.55,445.70 C449.97,445.28 449.23,445.28 449.65,445.70Z" fill="#c80c38" stroke="#111" stroke-width="1.0" stroke-linejoin="round"/>
<circle cx="448.38" cy="448.00" r="1.6" fill="#111"/>
<circle cx="450.82" cy="448.70" r="1.6" fill="#111"/>
<circle cx="447.04" cy="451.00" r="1.6" fill="#111"/>
<circle cx="449.60" cy="451.70" r="1.6" fill="#111"/>
<circle cx="452.16" cy="450.50" r="1.6" fill="#111"/>
<circle cx="447.05" cy="454.00" r="1.6" fill="#111"/>
<circle cx="449.60" cy="454.70" r="1.6" fill="#111"/>
<circle cx="452.15" cy="453.50" r="1.6" fill="#111"/>
<circle cx="448.07" cy="456.50" r="1.6" fill="#111"/>
<circle cx="451.13" cy="457.20" r="1.6" fill="#111"/>
<path d="M463.25,436.00 C463.45,436.60 463.75,438.48 464.35,439.60 C464.95,440.72 466.43,441.58 466.85,442.70 C467.27,443.82 466.80,445.08 466.85,446.30 C466.90,447.52 467.18,448.77 467.15,450.00 C467.12,451.23 466.98,452.58 466.65,453.70 C466.32,454.82 465.62,455.78 465.15,456.70 C464.68,457.62 464.17,458.38 463.85,459.20 C463.53,460.02 463.37,461.20 463.25,461.60 C463.13,462.00 463.27,462.00 463.15,461.60 C463.03,461.20 462.87,460.02 462.55,459.20 C462.23,458.38 461.72,457.62 461.25,456.70 C460.78,455.78 460.08,454.82 459.75,453.70 C459.42,452.58 459.28,451.23 459.25,450.00 C459.22,448.77 459.50,447.52 459.55,446.30 C459.60,445.08 459.13,443.82 459.55,442.70 C459.97,441.58 461.45,440.72 462.05,439.60 C462.65,438.48 462.95,436.60 463.15,436.00 C463.35,435.40 463.05,435.40 463.25,436.00Z" fill="#c80c38" stroke="#111" stroke-width="1.0" stroke-linejoin="round"/>
<circle cx="463.20" cy="440.00" r="1.6" fill="#111"/>
<circle cx="460.56" cy="443.00" r="1.6" fill="#111"/>
<circle cx="463.20" cy="443.70" r="1.6" fill="#111"/>
<circle cx="465.84" cy="442.50" r="1.6" fill="#111"/>
<circle cx="460.54" cy="446.50" r="1.6" fill="#111"/>
<circle cx="463.20" cy="447.20" r="1.6" fill="#111"/>
<circle cx="465.86" cy="446.00" r="1.6" fill="#111"/>
<circle cx="460.26" cy="450.00" r="1.6" fill="#111"/>
<circle cx="463.20" cy="450.70" r="1.6" fill="#111"/>
<circle cx="466.14" cy="449.50" r="1.6" fill="#111"/>
<circle cx="460.73" cy="453.50" r="1.6" fill="#111"/>
<circle cx="463.20" cy="454.20" r="1.6" fill="#111"/>
<circle cx="465.67" cy="453.00" r="1.6" fill="#111"/>
<circle cx="461.91" cy="456.00" r="1.6" fill="#111"/>
<circle cx="464.49" cy="456.70" r="1.6" fill="#111"/>
<path d="M476.55,435.30 C476.70,435.92 477.03,437.97 477.35,439.00 C477.67,440.03 478.40,440.48 478.45,441.50 C478.50,442.52 477.38,443.88 477.65,445.10 C477.92,446.32 479.67,447.68 480.05,448.80 C480.43,449.92 480.32,450.78 479.95,451.80 C479.58,452.82 478.32,453.87 477.85,454.90 C477.38,455.93 477.37,457.08 477.15,458.00 C476.93,458.92 476.67,460.00 476.55,460.40 C476.43,460.80 476.57,460.80 476.45,460.40 C476.33,460.00 476.07,458.92 475.85,458.00 C475.63,457.08 475.62,455.93 475.15,454.90 C474.68,453.87 473.42,452.82 473.05,451.80 C472.68,450.78 472.57,449.92 472.95,448.80 C473.33,447.68 475.08,446.32 475.35,445.10 C475.62,443.88 474.50,442.52 474.55,441.50 C474.60,440.48 475.33,440.03 475.65,439.00 C475.97,437.97 476.30,435.92 476.45,435.30 C476.60,434.68 476.40,434.68 476.55,435.30Z" fill="#c80c38" stroke="#111" stroke-width="1.0" stroke-linejoin="round"/>
<circle cx="476.50" cy="441.00" r="1.6" fill="#111"/>
<circle cx="474.15" cy="448.50" r="1.6" fill="#111"/>
<circle cx="476.50" cy="449.20" r="1.6" fill="#111"/>
<circle cx="478.85" cy="448.00" r="1.6" fill="#111"/>
<circle cx="474.05" cy="451.50" r="1.6" fill="#111"/>
<circle cx="476.50" cy="452.20" r="1.6" fill="#111"/>
<circle cx="478.95" cy="451.00" r="1.6" fill="#111"/>
<path d="M489.95,417.60 C490.00,418.72 489.97,422.57 490.15,424.30 C490.33,426.03 490.70,426.17 491.05,428.00 C491.40,429.83 492.20,433.05 492.25,435.30 C492.30,437.55 491.28,439.67 491.35,441.50 C491.42,443.33 492.27,444.68 492.65,446.30 C493.03,447.92 493.45,449.77 493.65,451.20 C493.85,452.63 494.20,453.67 493.85,454.90 C493.50,456.13 492.05,457.48 491.55,458.60 C491.05,459.72 491.12,460.28 490.85,461.60 C490.58,462.92 490.12,465.68 489.95,466.50 C489.78,467.32 490.02,467.32 489.85,466.50 C489.68,465.68 489.22,462.92 488.95,461.60 C488.68,460.28 488.75,459.72 488.25,458.60 C487.75,457.48 486.30,456.13 485.95,454.90 C485.60,453.67 485.95,452.63 486.15,451.20 C486.35,449.77 486.77,447.92 487.15,446.30 C487.53,444.68 488.38,443.33 488.45,441.50 C488.52,439.67 487.50,437.55 487.55,435.30 C487.60,433.05 488.40,429.83 488.75,428.00 C489.10,426.17 489.47,426.03 489.65,424.30 C489.83,422.57 489.80,418.72 489.85,417.60 C489.90,416.48 489.90,416.48 489.95,417.60Z" fill="#c80c38" stroke="#111" stroke-width="1.0" stroke-linejoin="round"/>
<circle cx="489.90" cy="426.00" r="1.6" fill="#111"/>
<circle cx="488.61" cy="435.00" r="1.6" fill="#111"/>
<circle cx="491.19" cy="435.70" r="1.6" fill="#111"/>
<circle cx="489.90" cy="442.00" r="1.6" fill="#111"/>
<circle cx="487.81" cy="448.00" r="1.6" fill="#111"/>
<circle cx="491.99" cy="448.70" r="1.6" fill="#111"/>
<circle cx="487.12" cy="452.00" r="1.6" fill="#111"/>
<circle cx="489.90" cy="452.70" r="1.6" fill="#111"/>
<circle cx="492.68" cy="451.50" r="1.6" fill="#111"/>
<circle cx="487.02" cy="455.00" r="1.6" fill="#111"/>
<circle cx="489.90" cy="455.70" r="1.6" fill="#111"/>
<circle cx="492.78" cy="454.50" r="1.6" fill="#111"/>
<circle cx="489.90" cy="430.50" r="1.6" fill="#111"/>
<path d="M449.50,442.10 V411.50 H489.50 V414.60" fill="none" stroke="#2a2a2a" stroke-width="0.9"/>
<text x="469.75" y="412.70" font-size="6.80" fill="#262626" stroke="#262626" stroke-width="0.18" text-anchor="middle">*</text>
<line x1="135.50" y1="551.40" x2="135.50" y2="663.20" stroke="#3a3a3a" stroke-width="1.2"/>
<line x1="135.00" y1="662.50" x2="304.20" y2="662.50" stroke="#3a3a3a" stroke-width="1.2"/>
<line x1="132.50" y1="662.50" x2="135.50" y2="662.50" stroke="#1a1a1a" stroke-width="0.9"/>
<text x="130.00" y="664.70" font-size="5.80" fill="#262626" stroke="#262626" stroke-width="0.18" text-anchor="end">0</text>
<line x1="132.50" y1="640.50" x2="135.50" y2="640.50" stroke="#1a1a1a" stroke-width="0.9"/>
<text x="130.00" y="642.66" font-size="5.80" fill="#262626" stroke="#262626" stroke-width="0.18" text-anchor="end">1</text>
<line x1="132.50" y1="618.50" x2="135.50" y2="618.50" stroke="#1a1a1a" stroke-width="0.9"/>
<text x="130.00" y="620.62" font-size="5.80" fill="#262626" stroke="#262626" stroke-width="0.18" text-anchor="end">2</text>
<line x1="132.50" y1="596.50" x2="135.50" y2="596.50" stroke="#1a1a1a" stroke-width="0.9"/>
<text x="130.00" y="598.58" font-size="5.80" fill="#262626" stroke="#262626" stroke-width="0.18" text-anchor="end">3</text>
<line x1="132.50" y1="574.50" x2="135.50" y2="574.50" stroke="#1a1a1a" stroke-width="0.9"/>
<text x="130.00" y="576.54" font-size="5.80" fill="#262626" stroke="#262626" stroke-width="0.18" text-anchor="end">4</text>
<line x1="132.50" y1="552.50" x2="135.50" y2="552.50" stroke="#1a1a1a" stroke-width="0.9"/>
<text x="130.00" y="554.50" font-size="5.80" fill="#262626" stroke="#262626" stroke-width="0.18" text-anchor="end">5</text>
<line x1="144.50" y1="662.80" x2="144.50" y2="664.90" stroke="#1a1a1a" stroke-width="0.8"/>
<line x1="153.50" y1="662.80" x2="153.50" y2="664.90" stroke="#1a1a1a" stroke-width="0.8"/>
<line x1="161.50" y1="662.80" x2="161.50" y2="664.90" stroke="#1a1a1a" stroke-width="0.8"/>
<line x1="170.50" y1="662.80" x2="170.50" y2="664.90" stroke="#1a1a1a" stroke-width="0.8"/>
<line x1="179.50" y1="662.80" x2="179.50" y2="664.90" stroke="#1a1a1a" stroke-width="0.8"/>
<line x1="187.50" y1="662.80" x2="187.50" y2="664.90" stroke="#1a1a1a" stroke-width="0.8"/>
<line x1="196.50" y1="662.80" x2="196.50" y2="664.90" stroke="#1a1a1a" stroke-width="0.8"/>
<line x1="205.50" y1="662.80" x2="205.50" y2="664.90" stroke="#1a1a1a" stroke-width="0.8"/>
<line x1="213.50" y1="662.80" x2="213.50" y2="664.90" stroke="#1a1a1a" stroke-width="0.8"/>
<line x1="222.50" y1="662.80" x2="222.50" y2="664.90" stroke="#1a1a1a" stroke-width="0.8"/>
<line x1="231.50" y1="662.80" x2="231.50" y2="664.90" stroke="#1a1a1a" stroke-width="0.8"/>
<line x1="239.50" y1="662.80" x2="239.50" y2="664.90" stroke="#1a1a1a" stroke-width="0.8"/>
<line x1="248.50" y1="662.80" x2="248.50" y2="664.90" stroke="#1a1a1a" stroke-width="0.8"/>
<line x1="257.50" y1="662.80" x2="257.50" y2="664.90" stroke="#1a1a1a" stroke-width="0.8"/>
<line x1="265.50" y1="662.80" x2="265.50" y2="664.90" stroke="#1a1a1a" stroke-width="0.8"/>
<line x1="274.50" y1="662.80" x2="274.50" y2="664.90" stroke="#1a1a1a" stroke-width="0.8"/>
<line x1="283.50" y1="662.80" x2="283.50" y2="664.90" stroke="#1a1a1a" stroke-width="0.8"/>
<line x1="291.50" y1="662.80" x2="291.50" y2="664.90" stroke="#1a1a1a" stroke-width="0.8"/>
<line x1="300.50" y1="662.80" x2="300.50" y2="664.90" stroke="#1a1a1a" stroke-width="0.8"/>
<text x="135.80" y="674.00" font-size="5.60" fill="#262626" stroke="#262626" stroke-width="0.18" text-anchor="middle" textLength="3.00" lengthAdjust="spacingAndGlyphs">0</text>
<text x="153.15" y="674.00" font-size="5.60" fill="#262626" stroke="#262626" stroke-width="0.18" text-anchor="middle" textLength="6.20" lengthAdjust="spacingAndGlyphs">20</text>
<text x="170.50" y="674.00" font-size="5.60" fill="#262626" stroke="#262626" stroke-width="0.18" text-anchor="middle" textLength="6.20" lengthAdjust="spacingAndGlyphs">40</text>
<text x="187.85" y="674.00" font-size="5.60" fill="#262626" stroke="#262626" stroke-width="0.18" text-anchor="middle" textLength="6.20" lengthAdjust="spacingAndGlyphs">60</text>
<text x="205.20" y="674.00" font-size="5.60" fill="#262626" stroke="#262626" stroke-width="0.18" text-anchor="middle" textLength="6.20" lengthAdjust="spacingAndGlyphs">80</text>
<text x="222.55" y="674.00" font-size="5.60" fill="#262626" stroke="#262626" stroke-width="0.18" text-anchor="middle" textLength="9.40" lengthAdjust="spacingAndGlyphs">100</text>
<text x="239.90" y="674.00" font-size="5.60" fill="#262626" stroke="#262626" stroke-width="0.18" text-anchor="middle" textLength="9.40" lengthAdjust="spacingAndGlyphs">120</text>
<text x="257.25" y="674.00" font-size="5.60" fill="#262626" stroke="#262626" stroke-width="0.18" text-anchor="middle" textLength="9.40" lengthAdjust="spacingAndGlyphs">140</text>
<text x="274.60" y="674.00" font-size="5.60" fill="#262626" stroke="#262626" stroke-width="0.18" text-anchor="middle" textLength="9.40" lengthAdjust="spacingAndGlyphs">160</text>
<text x="291.95" y="674.00" font-size="5.60" fill="#262626" stroke="#262626" stroke-width="0.18" text-anchor="middle" textLength="9.40" lengthAdjust="spacingAndGlyphs">180</text>
<text x="220.05" y="685.90" font-size="7.20" fill="#262626" stroke="#262626" stroke-width="0.18" text-anchor="middle" textLength="63.50" lengthAdjust="spacingAndGlyphs">Current injection (pA)</text>
<text x="120.60" y="606.00" font-size="6.60" fill="#262626" stroke="#262626" stroke-width="0.18" text-anchor="middle" textLength="31.00" lengthAdjust="spacingAndGlyphs" transform="rotate(-90 120.60 606.00)"># of spikes</text>
<line x1="144.50" y1="654.99" x2="144.50" y2="660.94" stroke="#3f6690" stroke-width="0.9"/>
<line x1="142.48" y1="654.50" x2="146.48" y2="654.50" stroke="#3f6690" stroke-width="0.9"/>
<line x1="153.50" y1="621.26" x2="153.50" y2="636.25" stroke="#3f6690" stroke-width="0.9"/>
<line x1="151.15" y1="621.50" x2="155.15" y2="621.50" stroke="#3f6690" stroke-width="0.9"/>
<line x1="153.50" y1="636.25" x2="153.50" y2="650.58" stroke="#3f6690" stroke-width="0.9"/>
<line x1="151.15" y1="650.50" x2="155.15" y2="650.50" stroke="#3f6690" stroke-width="0.9"/>
<line x1="161.50" y1="598.34" x2="161.50" y2="618.62" stroke="#3f6690" stroke-width="0.9"/>
<line x1="159.83" y1="598.50" x2="163.83" y2="598.50" stroke="#3f6690" stroke-width="0.9"/>
<line x1="161.50" y1="618.62" x2="161.50" y2="638.46" stroke="#3f6690" stroke-width="0.9"/>
<line x1="159.83" y1="638.50" x2="163.83" y2="638.50" stroke="#3f6690" stroke-width="0.9"/>
<line x1="170.50" y1="585.34" x2="170.50" y2="608.70" stroke="#3f6690" stroke-width="0.9"/>
<line x1="168.50" y1="585.50" x2="172.50" y2="585.50" stroke="#3f6690" stroke-width="0.9"/>
<line x1="170.50" y1="608.70" x2="170.50" y2="632.28" stroke="#3f6690" stroke-width="0.9"/>
<line x1="168.50" y1="632.50" x2="172.50" y2="632.50" stroke="#3f6690" stroke-width="0.9"/>
<line x1="179.50" y1="587.54" x2="179.50" y2="611.13" stroke="#3f6690" stroke-width="0.9"/>
<line x1="177.18" y1="587.50" x2="181.18" y2="587.50" stroke="#3f6690" stroke-width="0.9"/>
<line x1="179.50" y1="611.13" x2="179.50" y2="634.49" stroke="#3f6690" stroke-width="0.9"/>
<line x1="177.18" y1="634.50" x2="181.18" y2="634.50" stroke="#3f6690" stroke-width="0.9"/>
<line x1="187.50" y1="587.54" x2="187.50" y2="611.13" stroke="#3f6690" stroke-width="0.9"/>
<line x1="185.85" y1="587.50" x2="189.85" y2="587.50" stroke="#3f6690" stroke-width="0.9"/>
<line x1="187.50" y1="611.13" x2="187.50" y2="634.05" stroke="#3f6690" stroke-width="0.9"/>
<line x1="185.85" y1="634.50" x2="189.85" y2="634.50" stroke="#3f6690" stroke-width="0.9"/>
<line x1="196.50" y1="582.92" x2="196.50" y2="606.72" stroke="#3f6690" stroke-width="0.9"/>
<line x1="194.53" y1="582.50" x2="198.53" y2="582.50" stroke="#3f6690" stroke-width="0.9"/>
<line x1="196.50" y1="606.72" x2="196.50" y2="630.52" stroke="#3f6690" stroke-width="0.9"/>
<line x1="194.53" y1="630.50" x2="198.53" y2="630.50" stroke="#3f6690" stroke-width="0.9"/>
<line x1="205.50" y1="589.97" x2="205.50" y2="613.33" stroke="#3f6690" stroke-width="0.9"/>
<line x1="203.20" y1="589.50" x2="207.20" y2="589.50" stroke="#3f6690" stroke-width="0.9"/>
<line x1="205.50" y1="613.33" x2="205.50" y2="636.69" stroke="#3f6690" stroke-width="0.9"/>
<line x1="203.20" y1="636.50" x2="207.20" y2="636.50" stroke="#3f6690" stroke-width="0.9"/>
<line x1="213.50" y1="589.97" x2="213.50" y2="613.33" stroke="#3f6690" stroke-width="0.9"/>
<line x1="211.88" y1="589.50" x2="215.88" y2="589.50" stroke="#3f6690" stroke-width="0.9"/>
<line x1="213.50" y1="613.33" x2="213.50" y2="636.91" stroke="#3f6690" stroke-width="0.9"/>
<line x1="211.88" y1="636.50" x2="215.88" y2="636.50" stroke="#3f6690" stroke-width="0.9"/>
<line x1="222.50" y1="587.10" x2="222.50" y2="613.11" stroke="#3f6690" stroke-width="0.9"/>
<line x1="220.55" y1="587.50" x2="224.55" y2="587.50" stroke="#3f6690" stroke-width="0.9"/>
<line x1="222.50" y1="613.11" x2="222.50" y2="639.12" stroke="#3f6690" stroke-width="0.9"/>
<line x1="220.55" y1="639.50" x2="224.55" y2="639.50" stroke="#3f6690" stroke-width="0.9"/>
<line x1="231.50" y1="601.43" x2="231.50" y2="618.84" stroke="#3f6690" stroke-width="0.9"/>
<line x1="229.23" y1="601.50" x2="233.23" y2="601.50" stroke="#3f6690" stroke-width="0.9"/>
<line x1="231.50" y1="618.84" x2="231.50" y2="636.25" stroke="#3f6690" stroke-width="0.9"/>
<line x1="229.23" y1="636.50" x2="233.23" y2="636.50" stroke="#3f6690" stroke-width="0.9"/>
<line x1="239.50" y1="613.77" x2="239.50" y2="623.69" stroke="#3f6690" stroke-width="0.9"/>
<line x1="237.90" y1="613.50" x2="241.90" y2="613.50" stroke="#3f6690" stroke-width="0.9"/>
<line x1="239.50" y1="623.69" x2="239.50" y2="633.61" stroke="#3f6690" stroke-width="0.9"/>
<line x1="237.90" y1="633.50" x2="241.90" y2="633.50" stroke="#3f6690" stroke-width="0.9"/>
<line x1="248.50" y1="622.81" x2="248.50" y2="631.18" stroke="#3f6690" stroke-width="0.9"/>
<line x1="246.58" y1="622.50" x2="250.58" y2="622.50" stroke="#3f6690" stroke-width="0.9"/>
<line x1="248.50" y1="631.18" x2="248.50" y2="639.34" stroke="#3f6690" stroke-width="0.9"/>
<line x1="246.58" y1="639.50" x2="250.58" y2="639.50" stroke="#3f6690" stroke-width="0.9"/>
<line x1="257.50" y1="622.81" x2="257.50" y2="631.18" stroke="#3f6690" stroke-width="0.9"/>
<line x1="255.25" y1="622.50" x2="259.25" y2="622.50" stroke="#3f6690" stroke-width="0.9"/>
<line x1="257.50" y1="631.18" x2="257.50" y2="638.90" stroke="#3f6690" stroke-width="0.9"/>
<line x1="255.25" y1="638.50" x2="259.25" y2="638.50" stroke="#3f6690" stroke-width="0.9"/>
<line x1="265.50" y1="629.42" x2="265.50" y2="636.03" stroke="#3f6690" stroke-width="0.9"/>
<line x1="263.93" y1="629.50" x2="267.93" y2="629.50" stroke="#3f6690" stroke-width="0.9"/>
<line x1="265.50" y1="636.03" x2="265.50" y2="641.98" stroke="#3f6690" stroke-width="0.9"/>
<line x1="263.93" y1="641.50" x2="267.93" y2="641.50" stroke="#3f6690" stroke-width="0.9"/>
<line x1="274.50" y1="627.44" x2="274.50" y2="633.61" stroke="#3f6690" stroke-width="0.9"/>
<line x1="272.60" y1="627.50" x2="276.60" y2="627.50" stroke="#3f6690" stroke-width="0.9"/>
<line x1="274.50" y1="633.61" x2="274.50" y2="639.56" stroke="#3f6690" stroke-width="0.9"/>
<line x1="272.60" y1="639.50" x2="276.60" y2="639.50" stroke="#3f6690" stroke-width="0.9"/>
<line x1="283.50" y1="634.05" x2="283.50" y2="638.46" stroke="#3f6690" stroke-width="0.9"/>
<line x1="281.27" y1="634.50" x2="285.27" y2="634.50" stroke="#3f6690" stroke-width="0.9"/>
<line x1="283.50" y1="638.46" x2="283.50" y2="642.20" stroke="#3f6690" stroke-width="0.9"/>
<line x1="281.27" y1="642.50" x2="285.27" y2="642.50" stroke="#3f6690" stroke-width="0.9"/>
<line x1="291.50" y1="637.57" x2="291.50" y2="640.88" stroke="#3f6690" stroke-width="0.9"/>
<line x1="289.95" y1="637.50" x2="293.95" y2="637.50" stroke="#3f6690" stroke-width="0.9"/>
<line x1="291.50" y1="640.88" x2="291.50" y2="643.75" stroke="#3f6690" stroke-width="0.9"/>
<line x1="289.95" y1="643.50" x2="293.95" y2="643.50" stroke="#3f6690" stroke-width="0.9"/>
<line x1="300.50" y1="638.02" x2="300.50" y2="640.88" stroke="#3f6690" stroke-width="0.9"/>
<line x1="298.62" y1="638.50" x2="302.62" y2="638.50" stroke="#3f6690" stroke-width="0.9"/>
<line x1="300.50" y1="640.88" x2="300.50" y2="643.75" stroke="#3f6690" stroke-width="0.9"/>
<line x1="298.62" y1="643.50" x2="302.62" y2="643.50" stroke="#3f6690" stroke-width="0.9"/>
<line x1="144.50" y1="646.61" x2="144.50" y2="654.77" stroke="#c8486a" stroke-width="0.9"/>
<line x1="142.48" y1="646.50" x2="146.48" y2="646.50" stroke="#c8486a" stroke-width="0.9"/>
<line x1="144.50" y1="654.77" x2="144.50" y2="662.70" stroke="#c8486a" stroke-width="0.9"/>
<line x1="142.48" y1="662.50" x2="146.48" y2="662.50" stroke="#c8486a" stroke-width="0.9"/>
<line x1="153.50" y1="622.15" x2="153.50" y2="650.80" stroke="#c8486a" stroke-width="0.9"/>
<line x1="151.15" y1="622.50" x2="155.15" y2="622.50" stroke="#c8486a" stroke-width="0.9"/>
<line x1="153.50" y1="650.80" x2="153.50" y2="662.70" stroke="#c8486a" stroke-width="0.9"/>
<line x1="151.15" y1="662.50" x2="155.15" y2="662.50" stroke="#c8486a" stroke-width="0.9"/>
<line x1="161.50" y1="622.15" x2="161.50" y2="640.66" stroke="#c8486a" stroke-width="0.9"/>
<line x1="159.83" y1="622.50" x2="163.83" y2="622.50" stroke="#c8486a" stroke-width="0.9"/>
<line x1="161.50" y1="640.66" x2="161.50" y2="658.95" stroke="#c8486a" stroke-width="0.9"/>
<line x1="159.83" y1="658.50" x2="163.83" y2="658.50" stroke="#c8486a" stroke-width="0.9"/>
<line x1="170.50" y1="619.06" x2="170.50" y2="638.46" stroke="#c8486a" stroke-width="0.9"/>
<line x1="168.50" y1="619.50" x2="172.50" y2="619.50" stroke="#c8486a" stroke-width="0.9"/>
<line x1="170.50" y1="638.46" x2="170.50" y2="658.29" stroke="#c8486a" stroke-width="0.9"/>
<line x1="168.50" y1="658.50" x2="172.50" y2="658.50" stroke="#c8486a" stroke-width="0.9"/>
<line x1="179.50" y1="605.40" x2="179.50" y2="630.74" stroke="#c8486a" stroke-width="0.9"/>
<line x1="177.18" y1="605.50" x2="181.18" y2="605.50" stroke="#c8486a" stroke-width="0.9"/>
<line x1="179.50" y1="630.74" x2="179.50" y2="653.00" stroke="#c8486a" stroke-width="0.9"/>
<line x1="177.18" y1="653.50" x2="181.18" y2="653.50" stroke="#c8486a" stroke-width="0.9"/>
<line x1="187.50" y1="600.77" x2="187.50" y2="624.79" stroke="#c8486a" stroke-width="0.9"/>
<line x1="185.85" y1="600.50" x2="189.85" y2="600.50" stroke="#c8486a" stroke-width="0.9"/>
<line x1="187.50" y1="624.79" x2="187.50" y2="649.48" stroke="#c8486a" stroke-width="0.9"/>
<line x1="185.85" y1="649.50" x2="189.85" y2="649.50" stroke="#c8486a" stroke-width="0.9"/>
<line x1="196.50" y1="592.83" x2="196.50" y2="618.62" stroke="#c8486a" stroke-width="0.9"/>
<line x1="194.53" y1="592.50" x2="198.53" y2="592.50" stroke="#c8486a" stroke-width="0.9"/>
<line x1="196.50" y1="618.62" x2="196.50" y2="644.63" stroke="#c8486a" stroke-width="0.9"/>
<line x1="194.53" y1="644.50" x2="198.53" y2="644.50" stroke="#c8486a" stroke-width="0.9"/>
<line x1="205.50" y1="582.92" x2="205.50" y2="610.91" stroke="#c8486a" stroke-width="0.9"/>
<line x1="203.20" y1="582.50" x2="207.20" y2="582.50" stroke="#c8486a" stroke-width="0.9"/>
<line x1="205.50" y1="610.91" x2="205.50" y2="637.57" stroke="#c8486a" stroke-width="0.9"/>
<line x1="203.20" y1="637.50" x2="207.20" y2="637.50" stroke="#c8486a" stroke-width="0.9"/>
<line x1="213.50" y1="581.37" x2="213.50" y2="608.70" stroke="#c8486a" stroke-width="0.9"/>
<line x1="211.88" y1="581.50" x2="215.88" y2="581.50" stroke="#c8486a" stroke-width="0.9"/>
<line x1="213.50" y1="608.70" x2="213.50" y2="636.69" stroke="#c8486a" stroke-width="0.9"/>
<line x1="211.88" y1="636.50" x2="215.88" y2="636.50" stroke="#c8486a" stroke-width="0.9"/>
<line x1="222.50" y1="561.54" x2="222.50" y2="592.61" stroke="#c8486a" stroke-width="0.9"/>
<line x1="220.55" y1="561.50" x2="224.55" y2="561.50" stroke="#c8486a" stroke-width="0.9"/>
<line x1="222.50" y1="592.61" x2="222.50" y2="623.69" stroke="#c8486a" stroke-width="0.9"/>
<line x1="220.55" y1="623.50" x2="224.55" y2="623.50" stroke="#c8486a" stroke-width="0.9"/>
<line x1="231.50" y1="557.35" x2="231.50" y2="588.65" stroke="#c8486a" stroke-width="0.9"/>
<line x1="229.23" y1="557.50" x2="233.23" y2="557.50" stroke="#c8486a" stroke-width="0.9"/>
<line x1="231.50" y1="588.65" x2="231.50" y2="620.38" stroke="#c8486a" stroke-width="0.9"/>
<line x1="229.23" y1="620.50" x2="233.23" y2="620.50" stroke="#c8486a" stroke-width="0.9"/>
<line x1="239.50" y1="570.35" x2="239.50" y2="594.82" stroke="#c8486a" stroke-width="0.9"/>
<line x1="237.90" y1="570.50" x2="241.90" y2="570.50" stroke="#c8486a" stroke-width="0.9"/>
<line x1="239.50" y1="594.82" x2="239.50" y2="618.84" stroke="#c8486a" stroke-width="0.9"/>
<line x1="237.90" y1="618.50" x2="241.90" y2="618.50" stroke="#c8486a" stroke-width="0.9"/>
<line x1="248.50" y1="571.23" x2="248.50" y2="594.82" stroke="#c8486a" stroke-width="0.9"/>
<line x1="246.58" y1="571.50" x2="250.58" y2="571.50" stroke="#c8486a" stroke-width="0.9"/>
<line x1="248.50" y1="594.82" x2="248.50" y2="617.96" stroke="#c8486a" stroke-width="0.9"/>
<line x1="246.58" y1="617.50" x2="250.58" y2="617.50" stroke="#c8486a" stroke-width="0.9"/>
<line x1="257.50" y1="578.51" x2="257.50" y2="600.99" stroke="#c8486a" stroke-width="0.9"/>
<line x1="255.25" y1="578.50" x2="259.25" y2="578.50" stroke="#c8486a" stroke-width="0.9"/>
<line x1="257.50" y1="600.99" x2="257.50" y2="623.03" stroke="#c8486a" stroke-width="0.9"/>
<line x1="255.25" y1="623.50" x2="259.25" y2="623.50" stroke="#c8486a" stroke-width="0.9"/>
<line x1="265.50" y1="573.66" x2="265.50" y2="596.58" stroke="#c8486a" stroke-width="0.9"/>
<line x1="263.93" y1="573.50" x2="267.93" y2="573.50" stroke="#c8486a" stroke-width="0.9"/>
<line x1="265.50" y1="596.58" x2="265.50" y2="619.50" stroke="#c8486a" stroke-width="0.9"/>
<line x1="263.93" y1="619.50" x2="267.93" y2="619.50" stroke="#c8486a" stroke-width="0.9"/>
<line x1="274.50" y1="573.22" x2="274.50" y2="594.82" stroke="#c8486a" stroke-width="0.9"/>
<line x1="272.60" y1="573.50" x2="276.60" y2="573.50" stroke="#c8486a" stroke-width="0.9"/>
<line x1="274.50" y1="594.82" x2="274.50" y2="616.42" stroke="#c8486a" stroke-width="0.9"/>
<line x1="272.60" y1="616.50" x2="276.60" y2="616.50" stroke="#c8486a" stroke-width="0.9"/>
<line x1="283.50" y1="572.78" x2="283.50" y2="594.82" stroke="#c8486a" stroke-width="0.9"/>
<line x1="281.27" y1="572.50" x2="285.27" y2="572.50" stroke="#c8486a" stroke-width="0.9"/>
<line x1="283.50" y1="594.82" x2="283.50" y2="616.42" stroke="#c8486a" stroke-width="0.9"/>
<line x1="281.27" y1="616.50" x2="285.27" y2="616.50" stroke="#c8486a" stroke-width="0.9"/>
<line x1="291.50" y1="565.72" x2="291.50" y2="591.07" stroke="#c8486a" stroke-width="0.9"/>
<line x1="289.95" y1="565.50" x2="293.95" y2="565.50" stroke="#c8486a" stroke-width="0.9"/>
<line x1="291.50" y1="591.07" x2="291.50" y2="615.09" stroke="#c8486a" stroke-width="0.9"/>
<line x1="289.95" y1="615.50" x2="293.95" y2="615.50" stroke="#c8486a" stroke-width="0.9"/>
<line x1="300.50" y1="557.79" x2="300.50" y2="582.69" stroke="#c8486a" stroke-width="0.9"/>
<line x1="298.62" y1="557.50" x2="302.62" y2="557.50" stroke="#c8486a" stroke-width="0.9"/>
<line x1="300.50" y1="582.69" x2="300.50" y2="607.38" stroke="#c8486a" stroke-width="0.9"/>
<line x1="298.62" y1="607.50" x2="302.62" y2="607.50" stroke="#c8486a" stroke-width="0.9"/>
<polyline points="135.80,662.70 144.48,660.94 153.15,636.25 161.83,618.62 170.50,608.70 179.18,611.13 187.85,611.13 196.53,606.72 205.20,613.33 213.88,613.33 222.55,613.11 231.23,618.84 239.90,623.69 248.58,631.18 257.25,631.18 265.93,636.03 274.60,633.61 283.27,638.46 291.95,640.88 300.62,640.88" fill="none" stroke="#2b4f7c" stroke-width="1.0"/>
<polyline points="135.80,662.70 144.48,654.77 153.15,650.80 161.83,640.66 170.50,638.46 179.18,630.74 187.85,624.79 196.53,618.62 205.20,610.91 213.88,608.70 222.55,592.61 231.23,588.65 239.90,594.82 248.58,594.82 257.25,600.99 265.93,596.58 274.60,594.82 283.27,594.82 291.95,591.07 300.62,582.69" fill="none" stroke="#bf2d4b" stroke-width="1.0"/>
<circle cx="135.80" cy="662.70" r="2.5" fill="#fff" stroke="#2b4f7c" stroke-width="1.2"/>
<circle cx="144.48" cy="660.94" r="2.5" fill="#fff" stroke="#2b4f7c" stroke-width="1.2"/>
<circle cx="153.15" cy="636.25" r="2.5" fill="#fff" stroke="#2b4f7c" stroke-width="1.2"/>
<circle cx="161.83" cy="618.62" r="2.5" fill="#fff" stroke="#2b4f7c" stroke-width="1.2"/>
<circle cx="170.50" cy="608.70" r="2.5" fill="#fff" stroke="#2b4f7c" stroke-width="1.2"/>
<circle cx="179.18" cy="611.13" r="2.5" fill="#fff" stroke="#2b4f7c" stroke-width="1.2"/>
<circle cx="187.85" cy="611.13" r="2.5" fill="#fff" stroke="#2b4f7c" stroke-width="1.2"/>
<circle cx="196.53" cy="606.72" r="2.5" fill="#fff" stroke="#2b4f7c" stroke-width="1.2"/>
<circle cx="205.20" cy="613.33" r="2.5" fill="#fff" stroke="#2b4f7c" stroke-width="1.2"/>
<circle cx="213.88" cy="613.33" r="2.5" fill="#fff" stroke="#2b4f7c" stroke-width="1.2"/>
<circle cx="222.55" cy="613.11" r="2.5" fill="#fff" stroke="#2b4f7c" stroke-width="1.2"/>
<circle cx="231.23" cy="618.84" r="2.5" fill="#fff" stroke="#2b4f7c" stroke-width="1.2"/>
<circle cx="239.90" cy="623.69" r="2.5" fill="#fff" stroke="#2b4f7c" stroke-width="1.2"/>
<circle cx="248.58" cy="631.18" r="2.5" fill="#fff" stroke="#2b4f7c" stroke-width="1.2"/>
<circle cx="257.25" cy="631.18" r="2.5" fill="#fff" stroke="#2b4f7c" stroke-width="1.2"/>
<circle cx="265.93" cy="636.03" r="2.5" fill="#fff" stroke="#2b4f7c" stroke-width="1.2"/>
<circle cx="274.60" cy="633.61" r="2.5" fill="#fff" stroke="#2b4f7c" stroke-width="1.2"/>
<circle cx="283.27" cy="638.46" r="2.5" fill="#fff" stroke="#2b4f7c" stroke-width="1.2"/>
<circle cx="291.95" cy="640.88" r="2.5" fill="#fff" stroke="#2b4f7c" stroke-width="1.2"/>
<circle cx="300.62" cy="640.88" r="2.5" fill="#fff" stroke="#2b4f7c" stroke-width="1.2"/>
<circle cx="135.80" cy="662.70" r="2.5" fill="#fff" stroke="#bf2d4b" stroke-width="1.2"/>
<circle cx="144.48" cy="654.77" r="2.5" fill="#fff" stroke="#bf2d4b" stroke-width="1.2"/>
<circle cx="153.15" cy="650.80" r="2.5" fill="#fff" stroke="#bf2d4b" stroke-width="1.2"/>
<circle cx="161.83" cy="640.66" r="2.5" fill="#fff" stroke="#bf2d4b" stroke-width="1.2"/>
<circle cx="170.50" cy="638.46" r="2.5" fill="#fff" stroke="#bf2d4b" stroke-width="1.2"/>
<circle cx="179.18" cy="630.74" r="2.5" fill="#fff" stroke="#bf2d4b" stroke-width="1.2"/>
<circle cx="187.85" cy="624.79" r="2.5" fill="#fff" stroke="#bf2d4b" stroke-width="1.2"/>
<circle cx="196.53" cy="618.62" r="2.5" fill="#fff" stroke="#bf2d4b" stroke-width="1.2"/>
<circle cx="205.20" cy="610.91" r="2.5" fill="#fff" stroke="#bf2d4b" stroke-width="1.2"/>
<circle cx="213.88" cy="608.70" r="2.5" fill="#fff" stroke="#bf2d4b" stroke-width="1.2"/>
<circle cx="222.55" cy="592.61" r="2.5" fill="#fff" stroke="#bf2d4b" stroke-width="1.2"/>
<circle cx="231.23" cy="588.65" r="2.5" fill="#fff" stroke="#bf2d4b" stroke-width="1.2"/>
<circle cx="239.90" cy="594.82" r="2.5" fill="#fff" stroke="#bf2d4b" stroke-width="1.2"/>
<circle cx="248.58" cy="594.82" r="2.5" fill="#fff" stroke="#bf2d4b" stroke-width="1.2"/>
<circle cx="257.25" cy="600.99" r="2.5" fill="#fff" stroke="#bf2d4b" stroke-width="1.2"/>
<circle cx="265.93" cy="596.58" r="2.5" fill="#fff" stroke="#bf2d4b" stroke-width="1.2"/>
<circle cx="274.60" cy="594.82" r="2.5" fill="#fff" stroke="#bf2d4b" stroke-width="1.2"/>
<circle cx="283.27" cy="594.82" r="2.5" fill="#fff" stroke="#bf2d4b" stroke-width="1.2"/>
<circle cx="291.95" cy="591.07" r="2.5" fill="#fff" stroke="#bf2d4b" stroke-width="1.2"/>
<circle cx="300.62" cy="582.69" r="2.5" fill="#fff" stroke="#bf2d4b" stroke-width="1.2"/>
<text x="300.62" y="556.30" font-size="6.00" fill="#262626" stroke="#262626" stroke-width="0.18" text-anchor="middle">*</text>
<line x1="139.00" y1="556.50" x2="153.30" y2="556.50" stroke="#2b4f7c" stroke-width="1.1"/>
<circle cx="146.3" cy="556.2" r="2.6" fill="#fff" stroke="#2b4f7c" stroke-width="1.1"/>
<text x="156.90" y="558.20" font-size="6.80" fill="#262626" stroke="#262626" stroke-width="0.18" textLength="21.40" lengthAdjust="spacingAndGlyphs">Healthy</text>
<line x1="139.00" y1="566.50" x2="153.30" y2="566.50" stroke="#bf2d4b" stroke-width="1.1"/>
<circle cx="146.3" cy="566.1" r="2.6" fill="#fff" stroke="#bf2d4b" stroke-width="1.1"/>
<text x="156.90" y="568.10" font-size="6.80" fill="#262626" stroke="#262626" stroke-width="0.18" textLength="16.10" lengthAdjust="spacingAndGlyphs">Sickle</text>
<path d="M331.2,602.3 L344,602.2 C345,600 345.6,590 346.2,560 L346.6,533.7 L347.2,560 C347.6,585 348,597 348.6,599 C350,597 353,592 356.5,581 C357,575 357.5,565 358,554.8 C358.5,566 359,585 360.2,593 L360.8,595.2 C362,593.5 366,588 371,585 C374,584 377,586.5 380,585.5 C384,584.8 388,586 392,585 C396,584.6 400,586.5 404,586 C408,585.4 412,585.8 415.2,585.6" fill="none" stroke="#41618c" stroke-width="1.0" stroke-linejoin="round"/>
<path d="M390.2,571.2 V578.5 H415.6" fill="none" stroke="#41618c" stroke-width="1.0"/>
<text x="373.30" y="609.40" font-size="6.20" fill="#262626" stroke="#262626" stroke-width="0.18" text-anchor="middle" textLength="21.00" lengthAdjust="spacingAndGlyphs">Healthy</text>
<path d="M331.5,678.5 L344.6,678.6 C345.5,676 346.2,660 346.6,640 L347,609.8 L347.5,640 C347.8,665 348.1,678 348.6,680.4 C351,676 355,668 358.5,660.8 L359.4,623.3 L360,655 C360.3,670 360.6,676 361,678.5 C364,674 368,668 372.9,661.7 L374,623.8 L374.6,655 C374.9,670 375.2,676 375.8,678 C379,674 383,667 387.7,661 L388.7,624.8 L389.3,655 C389.6,670 390.2,676 391,678 C394,672 398,664 403.7,662.7 C406,662.5 408,666 410.4,666.5 C412,666.3 413.5,665 414.6,664.6" fill="none" stroke="#e0687e" stroke-width="1.0" stroke-linejoin="round"/>
<text x="373.20" y="686.50" font-size="6.20" fill="#262626" stroke="#262626" stroke-width="0.18" text-anchor="middle" textLength="16.00" lengthAdjust="spacingAndGlyphs">Sickle</text>
<rect x="0" y="0" width="520" height="1" fill="#6a6a6a"/>
<rect x="0" y="0" width="1" height="695" fill="#555"/>
<rect x="519" y="0" width="1" height="695" fill="#444"/>
<rect x="0" y="694" width="520" height="1" fill="#3a3a3a"/>
</svg>
</body></html>
